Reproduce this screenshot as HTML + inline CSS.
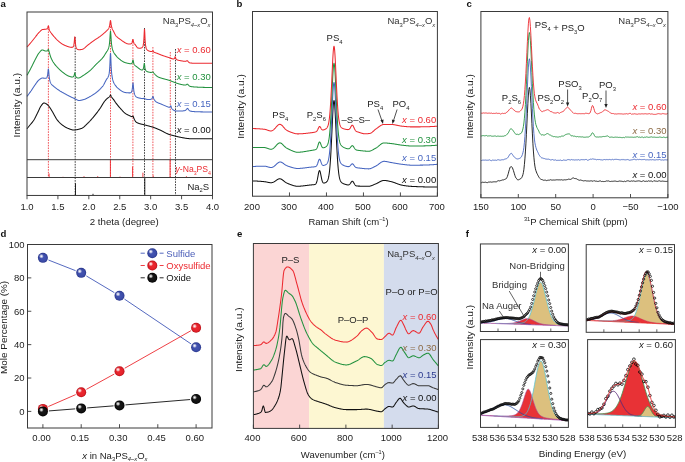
<!DOCTYPE html><html><head><meta charset="utf-8"><style>html,body{margin:0;padding:0;background:#fff;}svg{display:block;}text{font-family:"Liberation Sans", sans-serif;}</style></head><body>
<svg width="685" height="462" viewBox="0 0 685 462">
<rect width="685" height="462" fill="#fff"/>
<g opacity="0.999">
<text transform="translate(0.6,6.8) scale(1,1.0)" font-size="9.6" text-anchor="start" fill="#111" font-weight="bold">a</text>
<text transform="translate(236.5,6.8) scale(1,1.0)" font-size="9.6" text-anchor="start" fill="#111" font-weight="bold">b</text>
<text transform="translate(466.6,6.8) scale(1,1.0)" font-size="9.6" text-anchor="start" fill="#111" font-weight="bold">c</text>
<text transform="translate(0.4,237.2) scale(1,1.0)" font-size="9.6" text-anchor="start" fill="#111" font-weight="bold">d</text>
<text transform="translate(236.9,237.2) scale(1,1.0)" font-size="9.6" text-anchor="start" fill="#111" font-weight="bold">e</text>
<text transform="translate(465.8,237.2) scale(1,1.0)" font-size="9.6" text-anchor="start" fill="#111" font-weight="bold">f</text>
<line x1="48.4" y1="26" x2="48.4" y2="177.5" stroke="#ec2a30" stroke-width="0.8" stroke-dasharray="1.6,1.1"/>
<line x1="110.5" y1="21" x2="110.5" y2="177.5" stroke="#ec2a30" stroke-width="0.8" stroke-dasharray="1.6,1.1"/>
<line x1="132.9" y1="39" x2="132.9" y2="177.5" stroke="#ec2a30" stroke-width="0.8" stroke-dasharray="1.6,1.1"/>
<line x1="152.9" y1="47" x2="152.9" y2="177.5" stroke="#ec2a30" stroke-width="0.8" stroke-dasharray="1.6,1.1"/>
<line x1="170.3" y1="52" x2="170.3" y2="177.5" stroke="#ec2a30" stroke-width="0.8" stroke-dasharray="1.6,1.1"/>
<line x1="75.2" y1="37" x2="75.2" y2="195.45" stroke="#111111" stroke-width="0.8" stroke-dasharray="1.6,1.1"/>
<line x1="144.5" y1="28" x2="144.5" y2="195.45" stroke="#111111" stroke-width="0.8" stroke-dasharray="1.6,1.1"/>
<line x1="175.5" y1="49" x2="175.5" y2="195.45" stroke="#111111" stroke-width="0.8" stroke-dasharray="1.6,1.1"/>
<path d="M27,128.75 L27.2,128.5 L27.4,128.25 L27.6,128 L27.8,127.75 L28,127.5 L28.2,127.26 L28.4,127.01 L28.6,126.76 L28.8,126.51 L29,126.26 L29.2,126.01 L29.4,125.75 L29.6,125.5 L29.8,125.25 L30,125 L30.2,124.75 L30.4,124.5 L30.6,124.26 L30.8,124.02 L31,123.79 L31.2,123.55 L31.4,123.31 L31.6,123.07 L31.8,122.83 L32,122.59 L32.2,122.34 L32.4,122.09 L32.6,121.84 L32.8,121.58 L33,121.31 L33.2,121.03 L33.4,120.75 L33.6,120.45 L33.8,120.15 L34,119.83 L34.2,119.5 L34.4,119.15 L34.6,118.8 L34.8,118.43 L35,118.06 L35.2,117.67 L35.4,117.29 L35.6,116.89 L35.8,116.49 L36,116.08 L36.2,115.67 L36.4,115.26 L36.6,114.85 L36.8,114.44 L37,114.02 L37.2,113.61 L37.4,113.2 L37.6,112.8 L37.8,112.4 L38,112 L38.2,111.6 L38.4,111.18 L38.6,110.75 L38.8,110.31 L39,109.87 L39.2,109.42 L39.4,108.98 L39.6,108.55 L39.8,108.12 L40,107.71 L40.2,107.32 L40.4,106.95 L40.6,106.6 L40.8,106.28 L41,106 L41.2,105.73 L41.4,105.45 L41.6,105.18 L41.8,104.9 L42,104.63 L42.2,104.37 L42.4,104.12 L42.6,103.89 L42.8,103.67 L43,103.48 L43.2,103.32 L43.4,103.18 L43.6,103.08 L43.8,103.02 L44,103 L44.2,103.01 L44.4,103.04 L44.6,103.08 L44.8,103.14 L45,103.22 L45.2,103.3 L45.4,103.39 L45.6,103.5 L45.8,103.6 L46,103.71 L46.2,103.83 L46.4,103.94 L46.6,104.06 L46.8,104.19 L47,104.34 L47.2,104.51 L47.4,104.69 L47.6,104.88 L47.8,105.08 L48,105.3 L48.2,105.52 L48.4,105.74 L48.6,105.97 L48.8,106.2 L49,106.44 L49.2,106.69 L49.4,106.96 L49.6,107.23 L49.8,107.52 L50,107.81 L50.2,108.12 L50.4,108.43 L50.6,108.74 L50.8,109.06 L51,109.39 L51.2,109.71 L51.4,110.04 L51.6,110.36 L51.8,110.68 L52,111 L52.2,111.32 L52.4,111.65 L52.6,111.99 L52.8,112.34 L53,112.69 L53.2,113.05 L53.4,113.41 L53.6,113.77 L53.8,114.14 L54,114.51 L54.2,114.89 L54.4,115.26 L54.6,115.63 L54.8,115.99 L55,116.36 L55.2,116.72 L55.4,117.08 L55.6,117.43 L55.8,117.77 L56,118.11 L56.2,118.44 L56.4,118.76 L56.6,119.07 L56.8,119.36 L57,119.65 L57.2,119.92 L57.4,120.18 L57.6,120.42 L57.8,120.66 L58,120.89 L58.2,121.12 L58.4,121.35 L58.6,121.57 L58.8,121.79 L59,122 L59.2,122.21 L59.4,122.42 L59.6,122.62 L59.8,122.82 L60,123.01 L60.2,123.2 L60.4,123.39 L60.6,123.57 L60.8,123.75 L61,123.93 L61.2,124.1 L61.4,124.27 L61.6,124.43 L61.8,124.59 L62,124.75 L62.2,124.91 L62.4,125.06 L62.6,125.21 L62.8,125.36 L63,125.5 L63.2,125.64 L63.4,125.78 L63.6,125.92 L63.8,126.05 L64,126.19 L64.2,126.32 L64.4,126.45 L64.6,126.58 L64.8,126.71 L65,126.83 L65.2,126.95 L65.4,127.07 L65.6,127.19 L65.8,127.31 L66,127.42 L66.2,127.53 L66.4,127.64 L66.6,127.74 L66.8,127.84 L67,127.94 L67.2,128.04 L67.4,128.13 L67.6,128.22 L67.8,128.3 L68,128.38 L68.2,128.46 L68.4,128.54 L68.6,128.61 L68.8,128.69 L69,128.77 L69.2,128.84 L69.4,128.92 L69.6,129 L69.8,129.07 L70,129.15 L70.2,129.22 L70.4,129.3 L70.6,129.37 L70.8,129.44 L71,129.5 L71.2,129.56 L71.4,129.62 L71.6,129.68 L71.8,129.73 L72,129.78 L72.2,129.83 L72.4,129.87 L72.6,129.9 L72.8,129.93 L73,129.96 L73.2,129.98 L73.4,129.99 L73.6,130 L73.8,130 L74,130 L74.2,129.99 L74.4,129.98 L74.6,129.97 L74.8,129.96 L75,129.94 L75.2,129.92 L75.4,129.9 L75.6,129.88 L75.8,129.85 L76,129.83 L76.2,129.8 L76.4,129.76 L76.6,129.73 L76.8,129.7 L77,129.66 L77.2,129.62 L77.4,129.58 L77.6,129.53 L77.8,129.49 L78,129.44 L78.2,129.39 L78.4,129.34 L78.6,129.29 L78.8,129.24 L79,129.19 L79.2,129.13 L79.4,129.08 L79.6,129.02 L79.8,128.96 L80,128.9 L80.2,128.84 L80.4,128.78 L80.6,128.72 L80.8,128.66 L81,128.59 L81.2,128.53 L81.4,128.47 L81.6,128.39 L81.8,128.31 L82,128.21 L82.2,128.11 L82.4,128 L82.6,127.88 L82.8,127.75 L83,127.62 L83.2,127.47 L83.4,127.32 L83.6,127.17 L83.8,127.01 L84,126.84 L84.2,126.67 L84.4,126.5 L84.6,126.32 L84.8,126.13 L85,125.94 L85.2,125.75 L85.4,125.56 L85.6,125.37 L85.8,125.17 L86,124.97 L86.2,124.77 L86.4,124.57 L86.6,124.37 L86.8,124.17 L87,123.97 L87.2,123.77 L87.4,123.58 L87.6,123.38 L87.8,123.19 L88,123 L88.2,122.81 L88.4,122.61 L88.6,122.42 L88.8,122.22 L89,122.02 L89.2,121.81 L89.4,121.61 L89.6,121.4 L89.8,121.18 L90,120.97 L90.2,120.75 L90.4,120.54 L90.6,120.32 L90.8,120.1 L91,119.87 L91.2,119.65 L91.4,119.42 L91.6,119.19 L91.8,118.96 L92,118.73 L92.2,118.5 L92.4,118.26 L92.6,118.03 L92.8,117.79 L93,117.55 L93.2,117.32 L93.4,117.08 L93.6,116.84 L93.8,116.6 L94,116.36 L94.2,116.12 L94.4,115.88 L94.6,115.63 L94.8,115.39 L95,115.14 L95.2,114.89 L95.4,114.64 L95.6,114.39 L95.8,114.14 L96,113.89 L96.2,113.63 L96.4,113.38 L96.6,113.12 L96.8,112.86 L97,112.59 L97.2,112.33 L97.4,112.07 L97.6,111.8 L97.8,111.53 L98,111.26 L98.2,110.99 L98.4,110.72 L98.6,110.45 L98.8,110.17 L99,109.9 L99.2,109.62 L99.4,109.34 L99.6,109.06 L99.8,108.78 L100,108.49 L100.2,108.2 L100.4,107.9 L100.6,107.6 L100.8,107.28 L101,106.96 L101.2,106.64 L101.4,106.31 L101.6,105.97 L101.8,105.64 L102,105.3 L102.2,104.96 L102.4,104.63 L102.6,104.29 L102.8,103.96 L103,103.63 L103.2,103.31 L103.4,102.99 L103.6,102.68 L103.8,102.38 L104,102.08 L104.2,101.8 L104.4,101.52 L104.6,101.26 L104.8,101.01 L105,100.77 L105.2,100.54 L105.4,100.31 L105.6,100.09 L105.8,99.87 L106,99.65 L106.2,99.43 L106.4,99.23 L106.6,99.03 L106.8,98.83 L107,98.65 L107.2,98.47 L107.4,98.31 L107.6,98.15 L107.8,98 L108,97.87 L108.2,97.73 L108.4,97.59 L108.6,97.45 L108.8,97.29 L109,97.12 L109.2,96.94 L109.4,96.73 L109.6,96.48 L109.8,96.17 L110,95.79 L110.2,95.36 L110.4,95.05 L110.6,95.05 L110.8,95.39 L111,95.86 L111.2,96.3 L111.4,96.68 L111.6,97.02 L111.8,97.32 L112,97.61 L112.2,97.88 L112.4,98.14 L112.6,98.4 L112.8,98.64 L113,98.87 L113.2,99.1 L113.4,99.34 L113.6,99.61 L113.8,99.88 L114,100.17 L114.2,100.46 L114.4,100.76 L114.6,101.07 L114.8,101.37 L115,101.68 L115.2,101.98 L115.4,102.27 L115.6,102.56 L115.8,102.83 L116,103.1 L116.2,103.36 L116.4,103.62 L116.6,103.88 L116.8,104.13 L117,104.39 L117.2,104.64 L117.4,104.9 L117.6,105.15 L117.8,105.39 L118,105.64 L118.2,105.89 L118.4,106.13 L118.6,106.37 L118.8,106.61 L119,106.84 L119.2,107.08 L119.4,107.31 L119.6,107.54 L119.8,107.76 L120,107.99 L120.2,108.21 L120.4,108.43 L120.6,108.65 L120.8,108.88 L121,109.1 L121.2,109.33 L121.4,109.55 L121.6,109.78 L121.8,110 L122,110.22 L122.2,110.44 L122.4,110.66 L122.6,110.88 L122.8,111.09 L123,111.3 L123.2,111.51 L123.4,111.71 L123.6,111.91 L123.8,112.11 L124,112.3 L124.2,112.49 L124.4,112.67 L124.6,112.85 L124.8,113.02 L125,113.18 L125.2,113.34 L125.4,113.5 L125.6,113.64 L125.8,113.78 L126,113.91 L126.2,114.03 L126.4,114.15 L126.6,114.27 L126.8,114.37 L127,114.48 L127.2,114.58 L127.4,114.68 L127.6,114.77 L127.8,114.86 L128,114.95 L128.2,115.05 L128.4,115.14 L128.6,115.23 L128.8,115.32 L129,115.41 L129.2,115.5 L129.4,115.6 L129.6,115.7 L129.8,115.8 L130,115.91 L130.2,116.01 L130.4,116.11 L130.6,116.21 L130.8,116.3 L131,116.39 L131.2,116.47 L131.4,116.54 L131.6,116.6 L131.8,116.63 L132,116.62 L132.2,116.56 L132.4,116.42 L132.6,116.21 L132.8,116 L133,116 L133.2,116.35 L133.4,116.94 L133.6,117.55 L133.8,118.1 L134,118.58 L134.2,119.02 L134.4,119.42 L134.6,119.8 L134.8,120.16 L135,120.51 L135.2,120.83 L135.4,121.14 L135.6,121.43 L135.8,121.69 L136,121.93 L136.2,122.13 L136.4,122.3 L136.6,122.43 L136.8,122.54 L137,122.65 L137.2,122.75 L137.4,122.84 L137.6,122.93 L137.8,123.02 L138,123.1 L138.2,123.18 L138.4,123.26 L138.6,123.33 L138.8,123.4 L139,123.47 L139.2,123.54 L139.4,123.6 L139.6,123.66 L139.8,123.72 L140,123.77 L140.2,123.83 L140.4,123.88 L140.6,123.93 L140.8,123.98 L141,124.03 L141.2,124.08 L141.4,124.13 L141.6,124.17 L141.8,124.22 L142,124.26 L142.2,124.31 L142.4,124.35 L142.6,124.4 L142.8,124.44 L143,124.49 L143.2,124.53 L143.4,124.58 L143.6,124.63 L143.8,124.68 L144,124.73 L144.2,124.78 L144.4,124.83 L144.6,124.88 L144.8,124.94 L145,124.99 L145.2,125.05 L145.4,125.11 L145.6,125.16 L145.8,125.22 L146,125.27 L146.2,125.33 L146.4,125.38 L146.6,125.44 L146.8,125.49 L147,125.54 L147.2,125.6 L147.4,125.65 L147.6,125.7 L147.8,125.75 L148,125.81 L148.2,125.86 L148.4,125.91 L148.6,125.96 L148.8,126.02 L149,126.07 L149.2,126.12 L149.4,126.18 L149.6,126.23 L149.8,126.28 L150,126.34 L150.2,126.39 L150.4,126.45 L150.6,126.5 L150.8,126.56 L151,126.62 L151.2,126.67 L151.4,126.73 L151.6,126.79 L151.8,126.85 L152,126.91 L152.2,126.97 L152.4,127.04 L152.6,127.1 L152.8,127.16 L153,127.23 L153.2,127.3 L153.4,127.36 L153.6,127.43 L153.8,127.5 L154,127.57 L154.2,127.64 L154.4,127.72 L154.6,127.79 L154.8,127.86 L155,127.94 L155.2,128.01 L155.4,128.09 L155.6,128.17 L155.8,128.25 L156,128.32 L156.2,128.4 L156.4,128.48 L156.6,128.56 L156.8,128.64 L157,128.73 L157.2,128.81 L157.4,128.89 L157.6,128.97 L157.8,129.06 L158,129.14 L158.2,129.23 L158.4,129.31 L158.6,129.39 L158.8,129.48 L159,129.57 L159.2,129.65 L159.4,129.74 L159.6,129.82 L159.8,129.91 L160,130 L160.2,130.09 L160.4,130.18 L160.6,130.27 L160.8,130.36 L161,130.46 L161.2,130.56 L161.4,130.66 L161.6,130.76 L161.8,130.86 L162,130.96 L162.2,131.07 L162.4,131.17 L162.6,131.28 L162.8,131.39 L163,131.49 L163.2,131.6 L163.4,131.71 L163.6,131.82 L163.8,131.93 L164,132.04 L164.2,132.14 L164.4,132.25 L164.6,132.36 L164.8,132.47 L165,132.58 L165.2,132.68 L165.4,132.79 L165.6,132.89 L165.8,132.99 L166,133.1 L166.2,133.2 L166.4,133.3 L166.6,133.39 L166.8,133.49 L167,133.58 L167.2,133.68 L167.4,133.77 L167.6,133.85 L167.8,133.94 L168,134.02 L168.2,134.1 L168.4,134.18 L168.6,134.26 L168.8,134.33 L169,134.4 L169.2,134.47 L169.4,134.53 L169.6,134.59 L169.8,134.66 L170,134.72 L170.2,134.78 L170.4,134.84 L170.6,134.89 L170.8,134.95 L171,135 L171.2,135.06 L171.4,135.11 L171.6,135.16 L171.8,135.21 L172,135.26 L172.2,135.31 L172.4,135.36 L172.6,135.41 L172.8,135.46 L173,135.51 L173.2,135.56 L173.4,135.61 L173.6,135.66 L173.8,135.7 L174,135.75 L174.2,135.8 L174.4,135.85 L174.6,135.9 L174.8,135.95 L175,136 L175.2,136.05 L175.4,136.1 L175.6,136.15 L175.8,136.2 L176,136.26 L176.2,136.31 L176.4,136.36 L176.6,136.41 L176.8,136.46 L177,136.52 L177.2,136.57 L177.4,136.62 L177.6,136.67 L177.8,136.72 L178,136.77 L178.2,136.82 L178.4,136.86 L178.6,136.91 L178.8,136.95 L179,137 L179.2,137.04 L179.4,137.08 L179.6,137.12 L179.8,137.16 L180,137.2 L180.2,137.24 L180.4,137.27 L180.6,137.31 L180.8,137.35 L181,137.39 L181.2,137.42 L181.4,137.46 L181.6,137.5 L181.8,137.54 L182,137.58 L182.2,137.61 L182.4,137.65 L182.6,137.69 L182.8,137.73 L183,137.77 L183.2,137.8 L183.4,137.84 L183.6,137.88 L183.8,137.92 L184,137.95 L184.2,137.99 L184.4,138.02 L184.6,138.06 L184.8,138.09 L185,138.13 L185.2,138.16 L185.4,138.2 L185.6,138.23 L185.8,138.26 L186,138.29 L186.2,138.32 L186.4,138.35 L186.6,138.38 L186.8,138.4 L187,138.43 L187.2,138.46 L187.4,138.48 L187.6,138.5 L187.8,138.53 L188,138.55 L188.2,138.57 L188.4,138.59 L188.6,138.6 L188.8,138.62 L189,138.63 L189.2,138.65 L189.4,138.66 L189.6,138.67 L189.8,138.68 L190,138.69 L190.2,138.69 L190.4,138.7 L190.6,138.7 L190.8,138.7 L191,138.7 L191.2,138.7 L191.4,138.7 L191.6,138.7 L191.8,138.7 L192,138.7 L192.2,138.7 L192.4,138.7 L192.6,138.7 L192.8,138.7 L193,138.7 L193.2,138.7 L193.4,138.7 L193.6,138.7 L193.8,138.7 L194,138.7 L194.2,138.7 L194.4,138.7 L194.6,138.7 L194.8,138.7 L195,138.7 L195.2,138.7 L195.4,138.7 L195.6,138.7 L195.8,138.7 L196,138.7 L196.2,138.7 L196.4,138.7 L196.6,138.7 L196.8,138.7 L197,138.7 L197.2,138.7 L197.4,138.7 L197.6,138.7 L197.8,138.7 L198,138.7 L198.2,138.7 L198.4,138.7 L198.6,138.7 L198.8,138.7 L199,138.7 L199.2,138.7 L199.4,138.7 L199.6,138.7 L199.8,138.7 L200,138.7 L200.2,138.7 L200.4,138.7 L200.6,138.7 L200.8,138.7 L201,138.7 L201.2,138.7 L201.4,138.7 L201.6,138.7 L201.8,138.7 L202,138.7 L202.2,138.7 L202.4,138.7 L202.6,138.7 L202.8,138.7 L203,138.7 L203.2,138.7 L203.4,138.7 L203.6,138.7 L203.8,138.7 L204,138.7 L204.2,138.7 L204.4,138.7 L204.6,138.7 L204.8,138.7 L205,138.7 L205.2,138.7 L205.4,138.7 L205.6,138.7 L205.8,138.7 L206,138.7 L206.2,138.7 L206.4,138.7 L206.6,138.7 L206.8,138.7 L207,138.7 L207.2,138.7 L207.4,138.7 L207.6,138.7 L207.8,138.7 L208,138.7 L208.2,138.7 L208.4,138.7 L208.6,138.7 L208.8,138.7 L209,138.7 L209.2,138.7 L209.4,138.7 L209.6,138.7 L209.8,138.7 L210,138.7 L210.2,138.7 L210.4,138.7 L210.6,138.7 L210.8,138.7 L211,138.7 L211.2,138.7 L211.4,138.7 L211.6,138.7 L211.8,138.7 L212,138.7 L212.2,138.7 L212.4,138.7" fill="none" stroke="#111111" stroke-width="1.05" stroke-linejoin="round" />
<path d="M27,96.34 L27.2,96.09 L27.4,95.83 L27.6,95.58 L27.8,95.32 L28,95.06 L28.2,94.8 L28.4,94.54 L28.6,94.27 L28.8,94.01 L29,93.74 L29.2,93.47 L29.4,93.2 L29.6,92.93 L29.8,92.66 L30,92.38 L30.2,92.1 L30.4,91.83 L30.6,91.55 L30.8,91.26 L31,90.98 L31.2,90.7 L31.4,90.4 L31.6,90.11 L31.8,89.81 L32,89.5 L32.2,89.19 L32.4,88.88 L32.6,88.57 L32.8,88.26 L33,87.95 L33.2,87.64 L33.4,87.33 L33.6,87.02 L33.8,86.72 L34,86.41 L34.2,86.11 L34.4,85.82 L34.6,85.53 L34.8,85.25 L35,84.97 L35.2,84.69 L35.4,84.41 L35.6,84.13 L35.8,83.84 L36,83.56 L36.2,83.27 L36.4,82.99 L36.6,82.71 L36.8,82.43 L37,82.15 L37.2,81.89 L37.4,81.63 L37.6,81.37 L37.8,81.13 L38,80.9 L38.2,80.68 L38.4,80.47 L38.6,80.28 L38.8,80.1 L39,79.94 L39.2,79.79 L39.4,79.63 L39.6,79.48 L39.8,79.32 L40,79.17 L40.2,79.02 L40.4,78.88 L40.6,78.74 L40.8,78.61 L41,78.49 L41.2,78.39 L41.4,78.29 L41.6,78.21 L41.8,78.15 L42,78.1 L42.2,78.08 L42.4,78.07 L42.6,78.06 L42.8,78.07 L43,78.08 L43.2,78.09 L43.4,78.11 L43.6,78.13 L43.8,78.16 L44,78.18 L44.2,78.21 L44.4,78.24 L44.6,78.26 L44.8,78.28 L45,78.3 L45.2,78.31 L45.4,78.31 L45.6,78.3 L45.8,78.27 L46,78.22 L46.2,78.14 L46.4,78.03 L46.6,77.86 L46.8,77.63 L47,77.29 L47.2,76.8 L47.4,76.09 L47.6,75.06 L47.8,73.58 L48,71.66 L48.2,69.73 L48.4,68.93 L48.6,70 L48.8,72.27 L49,74.61 L49.2,76.56 L49.4,78.1 L49.6,79.33 L49.8,80.33 L50,81.15 L50.2,81.83 L50.4,82.38 L50.6,82.81 L50.8,83.18 L51,83.51 L51.2,83.81 L51.4,84.09 L51.6,84.34 L51.8,84.58 L52,84.81 L52.2,85.02 L52.4,85.22 L52.6,85.41 L52.8,85.6 L53,85.77 L53.2,85.94 L53.4,86.11 L53.6,86.28 L53.8,86.44 L54,86.59 L54.2,86.75 L54.4,86.91 L54.6,87.07 L54.8,87.23 L55,87.39 L55.2,87.55 L55.4,87.71 L55.6,87.86 L55.8,88.02 L56,88.17 L56.2,88.32 L56.4,88.48 L56.6,88.62 L56.8,88.77 L57,88.92 L57.2,89.06 L57.4,89.21 L57.6,89.35 L57.8,89.49 L58,89.63 L58.2,89.77 L58.4,89.91 L58.6,90.04 L58.8,90.18 L59,90.31 L59.2,90.44 L59.4,90.57 L59.6,90.7 L59.8,90.83 L60,90.96 L60.2,91.08 L60.4,91.21 L60.6,91.33 L60.8,91.45 L61,91.57 L61.2,91.69 L61.4,91.81 L61.6,91.93 L61.8,92.04 L62,92.15 L62.2,92.27 L62.4,92.38 L62.6,92.49 L62.8,92.61 L63,92.72 L63.2,92.83 L63.4,92.94 L63.6,93.05 L63.8,93.16 L64,93.27 L64.2,93.38 L64.4,93.5 L64.6,93.61 L64.8,93.72 L65,93.83 L65.2,93.94 L65.4,94.05 L65.6,94.16 L65.8,94.27 L66,94.38 L66.2,94.49 L66.4,94.6 L66.6,94.71 L66.8,94.82 L67,94.93 L67.2,95.03 L67.4,95.14 L67.6,95.25 L67.8,95.35 L68,95.46 L68.2,95.56 L68.4,95.67 L68.6,95.77 L68.8,95.88 L69,95.98 L69.2,96.08 L69.4,96.18 L69.6,96.28 L69.8,96.38 L70,96.48 L70.2,96.58 L70.4,96.68 L70.6,96.77 L70.8,96.87 L71,96.96 L71.2,97.06 L71.4,97.15 L71.6,97.24 L71.8,97.34 L72,97.43 L72.2,97.52 L72.4,97.61 L72.6,97.7 L72.8,97.79 L73,97.88 L73.2,97.97 L73.4,98.06 L73.6,98.15 L73.8,98.24 L74,98.33 L74.2,98.42 L74.4,98.51 L74.6,98.59 L74.8,98.68 L75,98.77 L75.2,98.87 L75.4,98.98 L75.6,99.09 L75.8,99.2 L76,99.31 L76.2,99.42 L76.4,99.54 L76.6,99.65 L76.8,99.76 L77,99.87 L77.2,99.97 L77.4,100.06 L77.6,100.15 L77.8,100.23 L78,100.3 L78.2,100.37 L78.4,100.41 L78.6,100.45 L78.8,100.47 L79,100.48 L79.2,100.48 L79.4,100.47 L79.6,100.46 L79.8,100.44 L80,100.42 L80.2,100.4 L80.4,100.37 L80.6,100.34 L80.8,100.3 L81,100.26 L81.2,100.22 L81.4,100.18 L81.6,100.13 L81.8,100.08 L82,100.03 L82.2,99.98 L82.4,99.93 L82.6,99.87 L82.8,99.82 L83,99.76 L83.2,99.7 L83.4,99.65 L83.6,99.59 L83.8,99.53 L84,99.48 L84.2,99.42 L84.4,99.36 L84.6,99.29 L84.8,99.22 L85,99.14 L85.2,99.07 L85.4,98.98 L85.6,98.9 L85.8,98.81 L86,98.72 L86.2,98.63 L86.4,98.53 L86.6,98.43 L86.8,98.33 L87,98.23 L87.2,98.13 L87.4,98.02 L87.6,97.91 L87.8,97.8 L88,97.69 L88.2,97.58 L88.4,97.47 L88.6,97.36 L88.8,97.24 L89,97.13 L89.2,97.02 L89.4,96.9 L89.6,96.79 L89.8,96.68 L90,96.57 L90.2,96.46 L90.4,96.34 L90.6,96.23 L90.8,96.11 L91,96 L91.2,95.88 L91.4,95.77 L91.6,95.65 L91.8,95.53 L92,95.41 L92.2,95.29 L92.4,95.16 L92.6,95.04 L92.8,94.92 L93,94.79 L93.2,94.66 L93.4,94.53 L93.6,94.4 L93.8,94.27 L94,94.14 L94.2,94 L94.4,93.87 L94.6,93.73 L94.8,93.59 L95,93.45 L95.2,93.3 L95.4,93.16 L95.6,93.01 L95.8,92.86 L96,92.71 L96.2,92.56 L96.4,92.41 L96.6,92.25 L96.8,92.09 L97,91.93 L97.2,91.77 L97.4,91.61 L97.6,91.44 L97.8,91.27 L98,91.1 L98.2,90.92 L98.4,90.74 L98.6,90.56 L98.8,90.38 L99,90.19 L99.2,90 L99.4,89.81 L99.6,89.62 L99.8,89.42 L100,89.22 L100.2,89.02 L100.4,88.81 L100.6,88.6 L100.8,88.39 L101,88.17 L101.2,87.95 L101.4,87.72 L101.6,87.5 L101.8,87.27 L102,87.03 L102.2,86.79 L102.4,86.55 L102.6,86.3 L102.8,86.05 L103,85.8 L103.2,85.53 L103.4,85.23 L103.6,84.91 L103.8,84.56 L104,84.2 L104.2,83.83 L104.4,83.44 L104.6,83.04 L104.8,82.64 L105,82.24 L105.2,81.84 L105.4,81.44 L105.6,81.05 L105.8,80.66 L106,80.29 L106.2,79.93 L106.4,79.58 L106.6,79.26 L106.8,78.95 L107,78.66 L107.2,78.39 L107.4,78.14 L107.6,77.87 L107.8,77.57 L108,77.23 L108.2,76.84 L108.4,76.39 L108.6,75.84 L108.8,75.16 L109,74.29 L109.2,73.14 L109.4,71.57 L109.6,69.38 L109.8,66.31 L110,62.15 L110.2,57.28 L110.4,53.55 L110.6,53.56 L110.8,57.37 L111,62.38 L111.2,66.74 L111.4,70.07 L111.6,72.55 L111.8,74.45 L112,75.95 L112.2,77.18 L112.4,78.23 L112.6,79.15 L112.8,79.95 L113,80.67 L113.2,81.31 L113.4,81.87 L113.6,82.35 L113.8,82.76 L114,83.14 L114.2,83.5 L114.4,83.84 L114.6,84.17 L114.8,84.48 L115,84.79 L115.2,85.08 L115.4,85.36 L115.6,85.64 L115.8,85.9 L116,86.16 L116.2,86.41 L116.4,86.65 L116.6,86.88 L116.8,87.11 L117,87.32 L117.2,87.53 L117.4,87.73 L117.6,87.92 L117.8,88.1 L118,88.28 L118.2,88.45 L118.4,88.62 L118.6,88.79 L118.8,88.95 L119,89.11 L119.2,89.27 L119.4,89.43 L119.6,89.59 L119.8,89.74 L120,89.89 L120.2,90.04 L120.4,90.19 L120.6,90.33 L120.8,90.47 L121,90.61 L121.2,90.74 L121.4,90.87 L121.6,91 L121.8,91.12 L122,91.24 L122.2,91.35 L122.4,91.46 L122.6,91.57 L122.8,91.67 L123,91.77 L123.2,91.86 L123.4,91.95 L123.6,92.03 L123.8,92.11 L124,92.18 L124.2,92.25 L124.4,92.31 L124.6,92.37 L124.8,92.42 L125,92.46 L125.2,92.5 L125.4,92.54 L125.6,92.58 L125.8,92.61 L126,92.64 L126.2,92.67 L126.4,92.69 L126.6,92.72 L126.8,92.74 L127,92.75 L127.2,92.77 L127.4,92.79 L127.6,92.8 L127.8,92.82 L128,92.83 L128.2,92.84 L128.4,92.85 L128.6,92.86 L128.8,92.87 L129,92.88 L129.2,92.88 L129.4,92.88 L129.6,92.88 L129.8,92.87 L130,92.86 L130.2,92.83 L130.4,92.8 L130.6,92.75 L130.8,92.67 L131,92.57 L131.2,92.41 L131.4,92.18 L131.6,91.85 L131.8,91.35 L132,90.6 L132.2,89.49 L132.4,87.9 L132.6,85.81 L132.8,83.72 L133,82.84 L133.2,83.97 L133.4,86.31 L133.6,88.64 L133.8,90.48 L134,91.83 L134.2,92.82 L134.4,93.58 L134.6,94.18 L134.8,94.68 L135,95.1 L135.2,95.47 L135.4,95.8 L135.6,96.09 L135.8,96.35 L136,96.58 L136.2,96.78 L136.4,96.95 L136.6,97.08 L136.8,97.19 L137,97.29 L137.2,97.38 L137.4,97.47 L137.6,97.55 L137.8,97.63 L138,97.7 L138.2,97.76 L138.4,97.83 L138.6,97.88 L138.8,97.94 L139,97.99 L139.2,98.04 L139.4,98.09 L139.6,98.13 L139.8,98.17 L140,98.22 L140.2,98.25 L140.4,98.29 L140.6,98.33 L140.8,98.36 L141,98.39 L141.2,98.43 L141.4,98.46 L141.6,98.49 L141.8,98.52 L142,98.54 L142.2,98.57 L142.4,98.59 L142.6,98.6 L142.8,98.61 L143,98.61 L143.2,98.59 L143.4,98.55 L143.6,98.47 L143.8,98.34 L144,98.17 L144.2,98.04 L144.4,98.07 L144.6,98.28 L144.8,98.52 L145,98.72 L145.2,98.87 L145.4,98.98 L145.6,99.07 L145.8,99.14 L146,99.2 L146.2,99.25 L146.4,99.29 L146.6,99.33 L146.8,99.36 L147,99.39 L147.2,99.42 L147.4,99.45 L147.6,99.47 L147.8,99.49 L148,99.5 L148.2,99.52 L148.4,99.53 L148.6,99.53 L148.8,99.54 L149,99.54 L149.2,99.54 L149.4,99.53 L149.6,99.52 L149.8,99.5 L150,99.47 L150.2,99.44 L150.4,99.4 L150.6,99.35 L150.8,99.29 L151,99.21 L151.2,99.11 L151.4,98.99 L151.6,98.83 L151.8,98.62 L152,98.34 L152.2,97.95 L152.4,97.46 L152.6,96.92 L152.8,96.53 L153,96.52 L153.2,96.93 L153.4,97.53 L153.6,98.12 L153.8,98.63 L154,99.06 L154.2,99.44 L154.4,99.79 L154.6,100.1 L154.8,100.4 L155,100.67 L155.2,100.93 L155.4,101.17 L155.6,101.38 L155.8,101.56 L156,101.72 L156.2,101.85 L156.4,101.97 L156.6,102.09 L156.8,102.21 L157,102.32 L157.2,102.42 L157.4,102.52 L157.6,102.62 L157.8,102.71 L158,102.81 L158.2,102.9 L158.4,102.98 L158.6,103.07 L158.8,103.15 L159,103.23 L159.2,103.31 L159.4,103.39 L159.6,103.47 L159.8,103.55 L160,103.63 L160.2,103.71 L160.4,103.79 L160.6,103.86 L160.8,103.94 L161,104.02 L161.2,104.11 L161.4,104.19 L161.6,104.27 L161.8,104.36 L162,104.44 L162.2,104.53 L162.4,104.62 L162.6,104.71 L162.8,104.79 L163,104.88 L163.2,104.96 L163.4,105.05 L163.6,105.13 L163.8,105.21 L164,105.3 L164.2,105.38 L164.4,105.46 L164.6,105.55 L164.8,105.63 L165,105.71 L165.2,105.8 L165.4,105.88 L165.6,105.96 L165.8,106.05 L166,106.13 L166.2,106.21 L166.4,106.3 L166.6,106.38 L166.8,106.46 L167,106.55 L167.2,106.63 L167.4,106.71 L167.6,106.79 L167.8,106.87 L168,106.95 L168.2,107.03 L168.4,107.1 L168.6,107.16 L168.8,107.22 L169,107.26 L169.2,107.29 L169.4,107.29 L169.6,107.26 L169.8,107.17 L170,107 L170.2,106.7 L170.4,106.29 L170.6,105.87 L170.8,105.75 L171,106.13 L171.2,106.81 L171.4,107.49 L171.6,108.04 L171.8,108.45 L172,108.77 L172.2,109.02 L172.4,109.24 L172.6,109.43 L172.8,109.6 L173,109.75 L173.2,109.9 L173.4,110.03 L173.6,110.16 L173.8,110.28 L174,110.39 L174.2,110.49 L174.4,110.58 L174.6,110.67 L174.8,110.74 L175,110.8 L175.2,110.84 L175.4,110.88 L175.6,110.9 L175.8,110.91 L176,110.92 L176.2,110.93 L176.4,110.94 L176.6,110.95 L176.8,110.96 L177,110.96 L177.2,110.97 L177.4,110.97 L177.6,110.98 L177.8,110.98 L178,110.99 L178.2,110.99 L178.4,110.99 L178.6,110.99 L178.8,111 L179,111 L179.2,111 L179.4,111 L179.6,111 L179.8,111 L180,110.99 L180.2,110.99 L180.4,110.99 L180.6,110.99 L180.8,110.98 L181,110.98 L181.2,110.97 L181.4,110.97 L181.6,110.96 L181.8,110.96 L182,110.95 L182.2,110.94 L182.4,110.93 L182.6,110.92 L182.8,110.9 L183,110.89 L183.2,110.87 L183.4,110.85 L183.6,110.83 L183.8,110.81 L184,110.78 L184.2,110.74 L184.4,110.7 L184.6,110.65 L184.8,110.59 L185,110.52 L185.2,110.44 L185.4,110.34 L185.6,110.23 L185.8,110.09 L186,109.92 L186.2,109.72 L186.4,109.49 L186.6,109.23 L186.8,108.96 L187,108.7 L187.2,108.49 L187.4,108.38 L187.6,108.4 L187.8,108.55 L188,108.81 L188.2,109.11 L188.4,109.42 L188.6,109.72 L188.8,109.99 L189,110.22 L189.2,110.42 L189.4,110.58 L189.6,110.72 L189.8,110.84 L190,110.94 L190.2,111.02 L190.4,111.09 L190.6,111.15 L190.8,111.21 L191,111.25 L191.2,111.29 L191.4,111.33 L191.6,111.36 L191.8,111.39 L192,111.42 L192.2,111.45 L192.4,111.47 L192.6,111.49 L192.8,111.51 L193,111.53 L193.2,111.54 L193.4,111.56 L193.6,111.57 L193.8,111.59 L194,111.6 L194.2,111.61 L194.4,111.63 L194.6,111.64 L194.8,111.65 L195,111.66 L195.2,111.67 L195.4,111.68 L195.6,111.69 L195.8,111.7 L196,111.71 L196.2,111.71 L196.4,111.72 L196.6,111.73 L196.8,111.74 L197,111.75 L197.2,111.75 L197.4,111.76 L197.6,111.77 L197.8,111.77 L198,111.78 L198.2,111.79 L198.4,111.79 L198.6,111.8 L198.8,111.8 L199,111.81 L199.2,111.82 L199.4,111.82 L199.6,111.83 L199.8,111.83 L200,111.84 L200.2,111.84 L200.4,111.85 L200.6,111.85 L200.8,111.86 L201,111.86 L201.2,111.87 L201.4,111.87 L201.6,111.87 L201.8,111.88 L202,111.88 L202.2,111.89 L202.4,111.89 L202.6,111.89 L202.8,111.9 L203,111.9 L203.2,111.91 L203.4,111.91 L203.6,111.91 L203.8,111.92 L204,111.92 L204.2,111.92 L204.4,111.93 L204.6,111.93 L204.8,111.93 L205,111.93 L205.2,111.94 L205.4,111.94 L205.6,111.94 L205.8,111.95 L206,111.95 L206.2,111.95 L206.4,111.95 L206.6,111.95 L206.8,111.96 L207,111.96 L207.2,111.96 L207.4,111.96 L207.6,111.97 L207.8,111.97 L208,111.97 L208.2,111.97 L208.4,111.97 L208.6,111.97 L208.8,111.97 L209,111.98 L209.2,111.98 L209.4,111.98 L209.6,111.98 L209.8,111.98 L210,111.98 L210.2,111.98 L210.4,111.98 L210.6,111.98 L210.8,111.99 L211,111.99 L211.2,111.99 L211.4,111.99 L211.6,111.99 L211.8,111.99 L212,111.99 L212.2,111.99 L212.4,111.99" fill="none" stroke="#4665c0" stroke-width="1.05" stroke-linejoin="round" />
<path d="M27,75.35 L27.2,74.99 L27.4,74.64 L27.6,74.28 L27.8,73.93 L28,73.57 L28.2,73.21 L28.4,72.85 L28.6,72.48 L28.8,72.12 L29,71.75 L29.2,71.38 L29.4,71.01 L29.6,70.64 L29.8,70.27 L30,69.89 L30.2,69.51 L30.4,69.14 L30.6,68.76 L30.8,68.38 L31,67.99 L31.2,67.61 L31.4,67.21 L31.6,66.82 L31.8,66.42 L32,66.01 L32.2,65.61 L32.4,65.2 L32.6,64.79 L32.8,64.38 L33,63.97 L33.2,63.56 L33.4,63.15 L33.6,62.74 L33.8,62.33 L34,61.93 L34.2,61.53 L34.4,61.14 L34.6,60.75 L34.8,60.37 L35,59.99 L35.2,59.61 L35.4,59.23 L35.6,58.84 L35.8,58.46 L36,58.07 L36.2,57.68 L36.4,57.29 L36.6,56.9 L36.8,56.52 L37,56.14 L37.2,55.78 L37.4,55.41 L37.6,55.06 L37.8,54.72 L38,54.39 L38.2,54.08 L38.4,53.78 L38.6,53.49 L38.8,53.23 L39,52.98 L39.2,52.74 L39.4,52.49 L39.6,52.24 L39.8,51.99 L40,51.74 L40.2,51.5 L40.4,51.26 L40.6,51.04 L40.8,50.83 L41,50.63 L41.2,50.46 L41.4,50.31 L41.6,50.18 L41.8,50.08 L42,50 L42.2,49.97 L42.4,49.96 L42.6,49.98 L42.8,50.02 L43,50.08 L43.2,50.15 L43.4,50.23 L43.6,50.32 L43.8,50.41 L44,50.5 L44.2,50.59 L44.4,50.68 L44.6,50.76 L44.8,50.83 L45,50.89 L45.2,50.93 L45.4,50.96 L45.6,50.98 L45.8,51 L46,51.01 L46.2,51.02 L46.4,51.02 L46.6,51.01 L46.8,50.99 L47,50.95 L47.2,50.88 L47.4,50.76 L47.6,50.57 L47.8,50.27 L48,49.85 L48.2,49.46 L48.4,49.38 L48.6,49.82 L48.8,50.58 L49,51.35 L49.2,52.07 L49.4,52.76 L49.6,53.44 L49.8,54.12 L50,54.8 L50.2,55.48 L50.4,56.13 L50.6,56.74 L50.8,57.31 L51,57.81 L51.2,58.26 L51.4,58.71 L51.6,59.14 L51.8,59.56 L52,59.96 L52.2,60.36 L52.4,60.73 L52.6,61.1 L52.8,61.45 L53,61.78 L53.2,62.09 L53.4,62.39 L53.6,62.69 L53.8,62.98 L54,63.26 L54.2,63.54 L54.4,63.81 L54.6,64.08 L54.8,64.34 L55,64.59 L55.2,64.84 L55.4,65.09 L55.6,65.33 L55.8,65.57 L56,65.8 L56.2,66.03 L56.4,66.25 L56.6,66.48 L56.8,66.7 L57,66.92 L57.2,67.13 L57.4,67.34 L57.6,67.56 L57.8,67.77 L58,67.97 L58.2,68.18 L58.4,68.39 L58.6,68.59 L58.8,68.79 L59,68.99 L59.2,69.18 L59.4,69.37 L59.6,69.57 L59.8,69.75 L60,69.94 L60.2,70.13 L60.4,70.31 L60.6,70.49 L60.8,70.66 L61,70.84 L61.2,71.01 L61.4,71.18 L61.6,71.35 L61.8,71.52 L62,71.68 L62.2,71.85 L62.4,72.01 L62.6,72.16 L62.8,72.32 L63,72.47 L63.2,72.63 L63.4,72.78 L63.6,72.93 L63.8,73.08 L64,73.23 L64.2,73.38 L64.4,73.53 L64.6,73.68 L64.8,73.83 L65,73.98 L65.2,74.12 L65.4,74.26 L65.6,74.4 L65.8,74.54 L66,74.67 L66.2,74.8 L66.4,74.93 L66.6,75.06 L66.8,75.18 L67,75.29 L67.2,75.41 L67.4,75.51 L67.6,75.62 L67.8,75.72 L68,75.81 L68.2,75.9 L68.4,75.98 L68.6,76.06 L68.8,76.14 L69,76.22 L69.2,76.29 L69.4,76.36 L69.6,76.43 L69.8,76.5 L70,76.56 L70.2,76.63 L70.4,76.68 L70.6,76.74 L70.8,76.79 L71,76.84 L71.2,76.88 L71.4,76.92 L71.6,76.96 L71.8,76.98 L72,77 L72.2,77.01 L72.4,77.01 L72.6,76.99 L72.8,76.96 L73,76.9 L73.2,76.8 L73.4,76.66 L73.6,76.45 L73.8,76.13 L74,75.66 L74.2,74.99 L74.4,74.11 L74.6,73.22 L74.8,72.84 L75,73.3 L75.2,74.25 L75.4,75.21 L75.6,75.95 L75.8,76.49 L76,76.87 L76.2,77.15 L76.4,77.36 L76.6,77.52 L76.8,77.64 L77,77.73 L77.2,77.81 L77.4,77.87 L77.6,77.92 L77.8,77.96 L78,77.98 L78.2,78 L78.4,78 L78.6,77.98 L78.8,77.96 L79,77.92 L79.2,77.86 L79.4,77.8 L79.6,77.73 L79.8,77.64 L80,77.55 L80.2,77.45 L80.4,77.35 L80.6,77.23 L80.8,77.12 L81,76.99 L81.2,76.87 L81.4,76.73 L81.6,76.6 L81.8,76.46 L82,76.32 L82.2,76.18 L82.4,76.04 L82.6,75.9 L82.8,75.76 L83,75.62 L83.2,75.48 L83.4,75.34 L83.6,75.21 L83.8,75.08 L84,74.96 L84.2,74.83 L84.4,74.71 L84.6,74.58 L84.8,74.45 L85,74.32 L85.2,74.19 L85.4,74.06 L85.6,73.93 L85.8,73.79 L86,73.65 L86.2,73.51 L86.4,73.37 L86.6,73.23 L86.8,73.09 L87,72.94 L87.2,72.79 L87.4,72.64 L87.6,72.49 L87.8,72.34 L88,72.19 L88.2,72.03 L88.4,71.88 L88.6,71.72 L88.8,71.56 L89,71.4 L89.2,71.23 L89.4,71.07 L89.6,70.9 L89.8,70.73 L90,70.56 L90.2,70.39 L90.4,70.21 L90.6,70.03 L90.8,69.85 L91,69.66 L91.2,69.47 L91.4,69.27 L91.6,69.07 L91.8,68.87 L92,68.67 L92.2,68.46 L92.4,68.25 L92.6,68.04 L92.8,67.83 L93,67.62 L93.2,67.41 L93.4,67.19 L93.6,66.98 L93.8,66.76 L94,66.55 L94.2,66.33 L94.4,66.12 L94.6,65.91 L94.8,65.69 L95,65.48 L95.2,65.27 L95.4,65.06 L95.6,64.85 L95.8,64.65 L96,64.45 L96.2,64.25 L96.4,64.05 L96.6,63.85 L96.8,63.66 L97,63.47 L97.2,63.28 L97.4,63.09 L97.6,62.9 L97.8,62.71 L98,62.52 L98.2,62.34 L98.4,62.15 L98.6,61.96 L98.8,61.78 L99,61.59 L99.2,61.4 L99.4,61.21 L99.6,61.02 L99.8,60.83 L100,60.64 L100.2,60.44 L100.4,60.25 L100.6,60.05 L100.8,59.85 L101,59.65 L101.2,59.44 L101.4,59.23 L101.6,59.02 L101.8,58.81 L102,58.59 L102.2,58.36 L102.4,58.14 L102.6,57.9 L102.8,57.67 L103,57.43 L103.2,57.18 L103.4,56.91 L103.6,56.63 L103.8,56.34 L104,56.04 L104.2,55.73 L104.4,55.41 L104.6,55.09 L104.8,54.76 L105,54.43 L105.2,54.1 L105.4,53.77 L105.6,53.44 L105.8,53.11 L106,52.79 L106.2,52.47 L106.4,52.16 L106.6,51.85 L106.8,51.55 L107,51.26 L107.2,50.96 L107.4,50.63 L107.6,50.28 L107.8,49.89 L108,49.48 L108.2,49.02 L108.4,48.51 L108.6,47.92 L108.8,47.24 L109,46.41 L109.2,45.38 L109.4,44.04 L109.6,42.28 L109.8,39.93 L110,36.95 L110.2,33.69 L110.4,31.33 L110.6,31.34 L110.8,33.73 L111,37.05 L111.2,40.12 L111.4,42.57 L111.6,44.46 L111.8,45.94 L112,47.11 L112.2,48.09 L112.4,48.92 L112.6,49.65 L112.8,50.29 L113,50.86 L113.2,51.38 L113.4,51.84 L113.6,52.24 L113.8,52.59 L114,52.92 L114.2,53.24 L114.4,53.54 L114.6,53.83 L114.8,54.12 L115,54.4 L115.2,54.67 L115.4,54.93 L115.6,55.19 L115.8,55.45 L116,55.69 L116.2,55.93 L116.4,56.17 L116.6,56.4 L116.8,56.62 L117,56.83 L117.2,57.04 L117.4,57.25 L117.6,57.45 L117.8,57.64 L118,57.82 L118.2,58 L118.4,58.17 L118.6,58.35 L118.8,58.52 L119,58.7 L119.2,58.87 L119.4,59.04 L119.6,59.2 L119.8,59.37 L120,59.53 L120.2,59.69 L120.4,59.85 L120.6,60 L120.8,60.16 L121,60.31 L121.2,60.46 L121.4,60.6 L121.6,60.74 L121.8,60.88 L122,61.02 L122.2,61.15 L122.4,61.27 L122.6,61.4 L122.8,61.52 L123,61.64 L123.2,61.75 L123.4,61.86 L123.6,61.96 L123.8,62.06 L124,62.16 L124.2,62.25 L124.4,62.33 L124.6,62.41 L124.8,62.49 L125,62.56 L125.2,62.63 L125.4,62.69 L125.6,62.75 L125.8,62.81 L126,62.86 L126.2,62.92 L126.4,62.97 L126.6,63.02 L126.8,63.06 L127,63.11 L127.2,63.15 L127.4,63.2 L127.6,63.24 L127.8,63.28 L128,63.32 L128.2,63.36 L128.4,63.4 L128.6,63.44 L128.8,63.49 L129,63.53 L129.2,63.57 L129.4,63.61 L129.6,63.65 L129.8,63.69 L130,63.72 L130.2,63.76 L130.4,63.79 L130.6,63.81 L130.8,63.81 L131,63.81 L131.2,63.78 L131.4,63.71 L131.6,63.61 L131.8,63.43 L132,63.15 L132.2,62.72 L132.4,62.08 L132.6,61.24 L132.8,60.4 L133,60.06 L133.2,60.56 L133.4,61.57 L133.6,62.57 L133.8,63.37 L134,63.97 L134.2,64.41 L134.4,64.76 L134.6,65.03 L134.8,65.26 L135,65.45 L135.2,65.63 L135.4,65.79 L135.6,65.94 L135.8,66.08 L136,66.22 L136.2,66.37 L136.4,66.51 L136.6,66.66 L136.8,66.81 L137,66.96 L137.2,67.11 L137.4,67.27 L137.6,67.43 L137.8,67.58 L138,67.74 L138.2,67.9 L138.4,68.06 L138.6,68.21 L138.8,68.37 L139,68.52 L139.2,68.67 L139.4,68.82 L139.6,68.96 L139.8,69.1 L140,69.24 L140.2,69.36 L140.4,69.49 L140.6,69.6 L140.8,69.7 L141,69.79 L141.2,69.87 L141.4,69.94 L141.6,69.99 L141.8,70.02 L142,70.02 L142.2,70 L142.4,69.94 L142.6,69.85 L142.8,69.69 L143,69.44 L143.2,69.06 L143.4,68.48 L143.6,67.6 L143.8,66.32 L144,64.71 L144.2,63.41 L144.4,63.46 L144.6,64.86 L144.8,66.56 L145,67.94 L145.2,68.92 L145.4,69.61 L145.6,70.1 L145.8,70.45 L146,70.73 L146.2,70.94 L146.4,71.12 L146.6,71.26 L146.8,71.39 L147,71.49 L147.2,71.59 L147.4,71.67 L147.6,71.74 L147.8,71.81 L148,71.88 L148.2,71.94 L148.4,71.99 L148.6,72.04 L148.8,72.09 L149,72.14 L149.2,72.18 L149.4,72.23 L149.6,72.27 L149.8,72.3 L150,72.34 L150.2,72.37 L150.4,72.39 L150.6,72.41 L150.8,72.42 L151,72.43 L151.2,72.42 L151.4,72.4 L151.6,72.36 L151.8,72.3 L152,72.22 L152.2,72.12 L152.4,72.02 L152.6,71.94 L152.8,71.92 L153,72 L153.2,72.18 L153.4,72.43 L153.6,72.72 L153.8,73.01 L154,73.28 L154.2,73.54 L154.4,73.78 L154.6,74.01 L154.8,74.22 L155,74.43 L155.2,74.63 L155.4,74.83 L155.6,75.02 L155.8,75.2 L156,75.38 L156.2,75.56 L156.4,75.73 L156.6,75.9 L156.8,76.06 L157,76.21 L157.2,76.36 L157.4,76.5 L157.6,76.63 L157.8,76.75 L158,76.86 L158.2,76.97 L158.4,77.06 L158.6,77.15 L158.8,77.23 L159,77.32 L159.2,77.4 L159.4,77.48 L159.6,77.55 L159.8,77.63 L160,77.7 L160.2,77.77 L160.4,77.84 L160.6,77.91 L160.8,77.97 L161,78.04 L161.2,78.1 L161.4,78.16 L161.6,78.23 L161.8,78.28 L162,78.34 L162.2,78.4 L162.4,78.46 L162.6,78.51 L162.8,78.57 L163,78.62 L163.2,78.68 L163.4,78.73 L163.6,78.78 L163.8,78.83 L164,78.88 L164.2,78.94 L164.4,78.99 L164.6,79.04 L164.8,79.09 L165,79.14 L165.2,79.19 L165.4,79.24 L165.6,79.29 L165.8,79.35 L166,79.4 L166.2,79.45 L166.4,79.5 L166.6,79.56 L166.8,79.61 L167,79.67 L167.2,79.72 L167.4,79.78 L167.6,79.84 L167.8,79.9 L168,79.96 L168.2,80.02 L168.4,80.08 L168.6,80.14 L168.8,80.21 L169,80.27 L169.2,80.34 L169.4,80.41 L169.6,80.48 L169.8,80.55 L170,80.62 L170.2,80.7 L170.4,80.77 L170.6,80.85 L170.8,80.92 L171,81 L171.2,81.07 L171.4,81.15 L171.6,81.23 L171.8,81.31 L172,81.39 L172.2,81.47 L172.4,81.55 L172.6,81.63 L172.8,81.71 L173,81.79 L173.2,81.87 L173.4,81.95 L173.6,82.03 L173.8,82.11 L174,82.19 L174.2,82.27 L174.4,82.35 L174.6,82.42 L174.8,82.5 L175,82.58 L175.2,82.66 L175.4,82.73 L175.6,82.81 L175.8,82.88 L176,82.95 L176.2,83.03 L176.4,83.1 L176.6,83.17 L176.8,83.23 L177,83.3 L177.2,83.37 L177.4,83.43 L177.6,83.49 L177.8,83.55 L178,83.61 L178.2,83.67 L178.4,83.73 L178.6,83.79 L178.8,83.85 L179,83.9 L179.2,83.96 L179.4,84.01 L179.6,84.06 L179.8,84.12 L180,84.17 L180.2,84.22 L180.4,84.27 L180.6,84.32 L180.8,84.37 L181,84.42 L181.2,84.47 L181.4,84.51 L181.6,84.56 L181.8,84.6 L182,84.65 L182.2,84.69 L182.4,84.73 L182.6,84.77 L182.8,84.81 L183,84.85 L183.2,84.88 L183.4,84.92 L183.6,84.95 L183.8,84.98 L184,85 L184.2,85.02 L184.4,85.04 L184.6,85.05 L184.8,85.06 L185,85.06 L185.2,85.05 L185.4,85.03 L185.6,84.99 L185.8,84.95 L186,84.88 L186.2,84.79 L186.4,84.68 L186.6,84.55 L186.8,84.41 L187,84.28 L187.2,84.18 L187.4,84.15 L187.6,84.2 L187.8,84.34 L188,84.55 L188.2,84.79 L188.4,85.03 L188.6,85.26 L188.8,85.47 L189,85.66 L189.2,85.82 L189.4,85.96 L189.6,86.08 L189.8,86.19 L190,86.27 L190.2,86.35 L190.4,86.42 L190.6,86.47 L190.8,86.52 L191,86.56 L191.2,86.6 L191.4,86.63 L191.6,86.66 L191.8,86.69 L192,86.71 L192.2,86.74 L192.4,86.76 L192.6,86.78 L192.8,86.81 L193,86.83 L193.2,86.84 L193.4,86.86 L193.6,86.88 L193.8,86.9 L194,86.91 L194.2,86.93 L194.4,86.94 L194.6,86.96 L194.8,86.97 L195,86.99 L195.2,87 L195.4,87.01 L195.6,87.03 L195.8,87.04 L196,87.05 L196.2,87.06 L196.4,87.07 L196.6,87.09 L196.8,87.1 L197,87.11 L197.2,87.12 L197.4,87.13 L197.6,87.14 L197.8,87.15 L198,87.16 L198.2,87.17 L198.4,87.18 L198.6,87.19 L198.8,87.2 L199,87.21 L199.2,87.22 L199.4,87.23 L199.6,87.23 L199.8,87.24 L200,87.25 L200.2,87.26 L200.4,87.27 L200.6,87.27 L200.8,87.28 L201,87.29 L201.2,87.3 L201.4,87.3 L201.6,87.31 L201.8,87.32 L202,87.32 L202.2,87.33 L202.4,87.34 L202.6,87.34 L202.8,87.35 L203,87.36 L203.2,87.36 L203.4,87.37 L203.6,87.37 L203.8,87.38 L204,87.38 L204.2,87.39 L204.4,87.39 L204.6,87.4 L204.8,87.4 L205,87.41 L205.2,87.41 L205.4,87.42 L205.6,87.42 L205.8,87.43 L206,87.43 L206.2,87.43 L206.4,87.44 L206.6,87.44 L206.8,87.44 L207,87.45 L207.2,87.45 L207.4,87.45 L207.6,87.46 L207.8,87.46 L208,87.46 L208.2,87.47 L208.4,87.47 L208.6,87.47 L208.8,87.47 L209,87.47 L209.2,87.48 L209.4,87.48 L209.6,87.48 L209.8,87.48 L210,87.48 L210.2,87.48 L210.4,87.49 L210.6,87.49 L210.8,87.49 L211,87.49 L211.2,87.49 L211.4,87.49 L211.6,87.49 L211.8,87.49 L212,87.49 L212.2,87.49 L212.4,87.49" fill="none" stroke="#23923f" stroke-width="1.05" stroke-linejoin="round" />
<path d="M27,47.01 L27.2,46.79 L27.4,46.58 L27.6,46.36 L27.8,46.14 L28,45.92 L28.2,45.7 L28.4,45.48 L28.6,45.26 L28.8,45.03 L29,44.81 L29.2,44.58 L29.4,44.35 L29.6,44.12 L29.8,43.89 L30,43.66 L30.2,43.43 L30.4,43.2 L30.6,42.96 L30.8,42.73 L31,42.49 L31.2,42.25 L31.4,42.01 L31.6,41.77 L31.8,41.52 L32,41.27 L32.2,41.02 L32.4,40.77 L32.6,40.52 L32.8,40.27 L33,40.02 L33.2,39.76 L33.4,39.51 L33.6,39.26 L33.8,39 L34,38.75 L34.2,38.49 L34.4,38.24 L34.6,37.99 L34.8,37.73 L35,37.48 L35.2,37.23 L35.4,36.97 L35.6,36.71 L35.8,36.44 L36,36.17 L36.2,35.9 L36.4,35.63 L36.6,35.36 L36.8,35.09 L37,34.82 L37.2,34.56 L37.4,34.3 L37.6,34.04 L37.8,33.79 L38,33.55 L38.2,33.31 L38.4,33.09 L38.6,32.87 L38.8,32.66 L39,32.47 L39.2,32.28 L39.4,32.08 L39.6,31.88 L39.8,31.67 L40,31.47 L40.2,31.26 L40.4,31.06 L40.6,30.86 L40.8,30.67 L41,30.49 L41.2,30.31 L41.4,30.15 L41.6,29.99 L41.8,29.86 L42,29.73 L42.2,29.63 L42.4,29.54 L42.6,29.48 L42.8,29.44 L43,29.42 L43.2,29.41 L43.4,29.41 L43.6,29.4 L43.8,29.39 L44,29.38 L44.2,29.37 L44.4,29.36 L44.6,29.35 L44.8,29.33 L45,29.31 L45.2,29.29 L45.4,29.26 L45.6,29.23 L45.8,29.19 L46,29.14 L46.2,29.1 L46.4,29.07 L46.6,29.04 L46.8,29 L47,28.93 L47.2,28.81 L47.4,28.58 L47.6,28.21 L47.8,27.63 L48,26.83 L48.2,26.03 L48.4,25.74 L48.6,26.3 L48.8,27.36 L49,28.43 L49.2,29.29 L49.4,29.96 L49.6,30.48 L49.8,30.9 L50,31.26 L50.2,31.58 L50.4,31.89 L50.6,32.18 L50.8,32.46 L51,32.75 L51.2,33.02 L51.4,33.3 L51.6,33.58 L51.8,33.85 L52,34.12 L52.2,34.39 L52.4,34.65 L52.6,34.9 L52.8,35.15 L53,35.39 L53.2,35.62 L53.4,35.85 L53.6,36.08 L53.8,36.31 L54,36.55 L54.2,36.78 L54.4,37.01 L54.6,37.23 L54.8,37.46 L55,37.69 L55.2,37.91 L55.4,38.13 L55.6,38.35 L55.8,38.57 L56,38.78 L56.2,38.99 L56.4,39.19 L56.6,39.4 L56.8,39.6 L57,39.79 L57.2,39.98 L57.4,40.17 L57.6,40.35 L57.8,40.52 L58,40.7 L58.2,40.88 L58.4,41.05 L58.6,41.23 L58.8,41.4 L59,41.57 L59.2,41.74 L59.4,41.91 L59.6,42.07 L59.8,42.24 L60,42.4 L60.2,42.56 L60.4,42.71 L60.6,42.87 L60.8,43.02 L61,43.16 L61.2,43.31 L61.4,43.45 L61.6,43.59 L61.8,43.72 L62,43.85 L62.2,43.98 L62.4,44.11 L62.6,44.23 L62.8,44.34 L63,44.45 L63.2,44.56 L63.4,44.67 L63.6,44.77 L63.8,44.87 L64,44.97 L64.2,45.07 L64.4,45.17 L64.6,45.26 L64.8,45.35 L65,45.44 L65.2,45.53 L65.4,45.61 L65.6,45.7 L65.8,45.78 L66,45.86 L66.2,45.94 L66.4,46.02 L66.6,46.09 L66.8,46.17 L67,46.24 L67.2,46.31 L67.4,46.38 L67.6,46.45 L67.8,46.52 L68,46.59 L68.2,46.65 L68.4,46.72 L68.6,46.78 L68.8,46.84 L69,46.9 L69.2,46.95 L69.4,47 L69.6,47.05 L69.8,47.1 L70,47.14 L70.2,47.18 L70.4,47.22 L70.6,47.25 L70.8,47.29 L71,47.31 L71.2,47.33 L71.4,47.35 L71.6,47.36 L71.8,47.36 L72,47.35 L72.2,47.32 L72.4,47.27 L72.6,47.2 L72.8,47.1 L73,46.94 L73.2,46.71 L73.4,46.38 L73.6,45.9 L73.8,45.17 L74,44.08 L74.2,42.46 L74.4,40.25 L74.6,37.89 L74.8,36.82 L75,38.08 L75.2,40.62 L75.4,43.01 L75.6,44.8 L75.8,46.06 L76,46.94 L76.2,47.59 L76.4,48.07 L76.6,48.44 L76.8,48.73 L77,48.96 L77.2,49.15 L77.4,49.3 L77.6,49.42 L77.8,49.51 L78,49.57 L78.2,49.61 L78.4,49.65 L78.6,49.67 L78.8,49.69 L79,49.7 L79.2,49.71 L79.4,49.71 L79.6,49.7 L79.8,49.69 L80,49.68 L80.2,49.66 L80.4,49.64 L80.6,49.62 L80.8,49.6 L81,49.57 L81.2,49.54 L81.4,49.51 L81.6,49.47 L81.8,49.44 L82,49.4 L82.2,49.36 L82.4,49.3 L82.6,49.23 L82.8,49.15 L83,49.05 L83.2,48.94 L83.4,48.83 L83.6,48.7 L83.8,48.56 L84,48.42 L84.2,48.27 L84.4,48.11 L84.6,47.95 L84.8,47.78 L85,47.6 L85.2,47.43 L85.4,47.24 L85.6,47.06 L85.8,46.88 L86,46.69 L86.2,46.51 L86.4,46.32 L86.6,46.14 L86.8,45.96 L87,45.78 L87.2,45.61 L87.4,45.44 L87.6,45.27 L87.8,45.11 L88,44.96 L88.2,44.81 L88.4,44.66 L88.6,44.51 L88.8,44.36 L89,44.21 L89.2,44.06 L89.4,43.91 L89.6,43.76 L89.8,43.6 L90,43.45 L90.2,43.3 L90.4,43.15 L90.6,43 L90.8,42.85 L91,42.69 L91.2,42.54 L91.4,42.39 L91.6,42.24 L91.8,42.09 L92,41.94 L92.2,41.79 L92.4,41.64 L92.6,41.5 L92.8,41.35 L93,41.2 L93.2,41.06 L93.4,40.91 L93.6,40.77 L93.8,40.62 L94,40.48 L94.2,40.34 L94.4,40.2 L94.6,40.06 L94.8,39.92 L95,39.78 L95.2,39.65 L95.4,39.52 L95.6,39.38 L95.8,39.25 L96,39.12 L96.2,38.99 L96.4,38.86 L96.6,38.73 L96.8,38.6 L97,38.48 L97.2,38.35 L97.4,38.22 L97.6,38.09 L97.8,37.96 L98,37.83 L98.2,37.7 L98.4,37.56 L98.6,37.43 L98.8,37.29 L99,37.16 L99.2,37.02 L99.4,36.88 L99.6,36.74 L99.8,36.59 L100,36.45 L100.2,36.3 L100.4,36.15 L100.6,36 L100.8,35.84 L101,35.69 L101.2,35.53 L101.4,35.37 L101.6,35.21 L101.8,35.05 L102,34.89 L102.2,34.72 L102.4,34.56 L102.6,34.39 L102.8,34.23 L103,34.06 L103.2,33.89 L103.4,33.72 L103.6,33.55 L103.8,33.38 L104,33.21 L104.2,33.04 L104.4,32.87 L104.6,32.7 L104.8,32.52 L105,32.35 L105.2,32.17 L105.4,31.99 L105.6,31.81 L105.8,31.62 L106,31.43 L106.2,31.23 L106.4,31.04 L106.6,30.84 L106.8,30.64 L107,30.44 L107.2,30.23 L107.4,30.02 L107.6,29.81 L107.8,29.6 L108,29.37 L108.2,29.13 L108.4,28.84 L108.6,28.52 L108.8,28.15 L109,27.71 L109.2,27.18 L109.4,26.51 L109.6,25.66 L109.8,24.56 L110,23.19 L110.2,21.7 L110.4,20.64 L110.6,20.64 L110.8,21.73 L111,23.25 L111.2,24.67 L111.4,25.84 L111.6,26.77 L111.8,27.53 L112,28.16 L112.2,28.7 L112.4,29.18 L112.6,29.62 L112.8,30.01 L113,30.37 L113.2,30.72 L113.4,31.08 L113.6,31.46 L113.8,31.85 L114,32.25 L114.2,32.66 L114.4,33.07 L114.6,33.48 L114.8,33.87 L115,34.26 L115.2,34.63 L115.4,34.98 L115.6,35.3 L115.8,35.59 L116,35.84 L116.2,36.07 L116.4,36.29 L116.6,36.5 L116.8,36.7 L117,36.9 L117.2,37.08 L117.4,37.26 L117.6,37.44 L117.8,37.6 L118,37.77 L118.2,37.92 L118.4,38.08 L118.6,38.23 L118.8,38.37 L119,38.52 L119.2,38.66 L119.4,38.8 L119.6,38.94 L119.8,39.08 L120,39.22 L120.2,39.36 L120.4,39.51 L120.6,39.65 L120.8,39.79 L121,39.94 L121.2,40.08 L121.4,40.23 L121.6,40.38 L121.8,40.52 L122,40.67 L122.2,40.81 L122.4,40.96 L122.6,41.1 L122.8,41.24 L123,41.38 L123.2,41.52 L123.4,41.66 L123.6,41.8 L123.8,41.93 L124,42.06 L124.2,42.19 L124.4,42.32 L124.6,42.44 L124.8,42.56 L125,42.68 L125.2,42.79 L125.4,42.9 L125.6,43.01 L125.8,43.11 L126,43.21 L126.2,43.3 L126.4,43.39 L126.6,43.48 L126.8,43.56 L127,43.63 L127.2,43.7 L127.4,43.76 L127.6,43.81 L127.8,43.86 L128,43.9 L128.2,43.94 L128.4,43.96 L128.6,43.99 L128.8,44.01 L129,44.02 L129.2,44.03 L129.4,44.04 L129.6,44.04 L129.8,44.03 L130,44.02 L130.2,44 L130.4,43.97 L130.6,43.93 L130.8,43.87 L131,43.79 L131.2,43.69 L131.4,43.55 L131.6,43.35 L131.8,43.06 L132,42.65 L132.2,42.06 L132.4,41.25 L132.6,40.3 L132.8,39.57 L133,39.59 L133.2,40.35 L133.4,41.34 L133.6,42.19 L133.8,42.82 L134,43.28 L134.2,43.61 L134.4,43.86 L134.6,44.05 L134.8,44.24 L135,44.44 L135.2,44.67 L135.4,44.92 L135.6,45.19 L135.8,45.48 L136,45.77 L136.2,46.07 L136.4,46.37 L136.6,46.66 L136.8,46.95 L137,47.21 L137.2,47.45 L137.4,47.65 L137.6,47.82 L137.8,47.95 L138,48.02 L138.2,48.07 L138.4,48.1 L138.6,48.13 L138.8,48.16 L139,48.18 L139.2,48.19 L139.4,48.2 L139.6,48.2 L139.8,48.2 L140,48.19 L140.2,48.18 L140.4,48.15 L140.6,48.13 L140.8,48.09 L141,48.05 L141.2,48 L141.4,47.93 L141.6,47.85 L141.8,47.74 L142,47.61 L142.2,47.44 L142.4,47.22 L142.6,46.93 L142.8,46.54 L143,46.01 L143.2,45.27 L143.4,44.21 L143.6,42.63 L143.8,40.29 L144,36.92 L144.2,32.7 L144.4,29.29 L144.6,29.42 L144.8,33.08 L145,37.56 L145.2,41.17 L145.4,43.73 L145.6,45.49 L145.8,46.71 L146,47.59 L146.2,48.25 L146.4,48.74 L146.6,49.14 L146.8,49.45 L147,49.71 L147.2,49.93 L147.4,50.11 L147.6,50.27 L147.8,50.41 L148,50.53 L148.2,50.65 L148.4,50.75 L148.6,50.84 L148.8,50.92 L149,51 L149.2,51.08 L149.4,51.15 L149.6,51.21 L149.8,51.27 L150,51.33 L150.2,51.39 L150.4,51.44 L150.6,51.49 L150.8,51.53 L151,51.56 L151.2,51.58 L151.4,51.59 L151.6,51.58 L151.8,51.55 L152,51.47 L152.2,51.34 L152.4,51.14 L152.6,50.9 L152.8,50.72 L153,50.77 L153.2,51.04 L153.4,51.38 L153.6,51.67 L153.8,51.9 L154,52.08 L154.2,52.22 L154.4,52.33 L154.6,52.43 L154.8,52.51 L155,52.59 L155.2,52.66 L155.4,52.73 L155.6,52.8 L155.8,52.87 L156,52.93 L156.2,53 L156.4,53.07 L156.6,53.14 L156.8,53.21 L157,53.29 L157.2,53.36 L157.4,53.44 L157.6,53.52 L157.8,53.6 L158,53.68 L158.2,53.76 L158.4,53.84 L158.6,53.93 L158.8,54.01 L159,54.09 L159.2,54.18 L159.4,54.26 L159.6,54.35 L159.8,54.43 L160,54.52 L160.2,54.6 L160.4,54.68 L160.6,54.76 L160.8,54.84 L161,54.92 L161.2,55 L161.4,55.07 L161.6,55.15 L161.8,55.22 L162,55.29 L162.2,55.36 L162.4,55.43 L162.6,55.5 L162.8,55.57 L163,55.64 L163.2,55.71 L163.4,55.78 L163.6,55.84 L163.8,55.91 L164,55.98 L164.2,56.04 L164.4,56.11 L164.6,56.17 L164.8,56.24 L165,56.3 L165.2,56.37 L165.4,56.43 L165.6,56.5 L165.8,56.56 L166,56.63 L166.2,56.69 L166.4,56.76 L166.6,56.82 L166.8,56.89 L167,56.95 L167.2,57.02 L167.4,57.08 L167.6,57.15 L167.8,57.21 L168,57.28 L168.2,57.35 L168.4,57.41 L168.6,57.48 L168.8,57.55 L169,57.62 L169.2,57.69 L169.4,57.76 L169.6,57.83 L169.8,57.9 L170,57.97 L170.2,58.04 L170.4,58.12 L170.6,58.2 L170.8,58.28 L171,58.35 L171.2,58.43 L171.4,58.51 L171.6,58.58 L171.8,58.66 L172,58.72 L172.2,58.78 L172.4,58.84 L172.6,58.88 L172.8,58.92 L173,58.94 L173.2,58.96 L173.4,58.96 L173.6,58.94 L173.8,58.89 L174,58.8 L174.2,58.66 L174.4,58.41 L174.6,58.04 L174.8,57.51 L175,56.94 L175.2,56.7 L175.4,57.03 L175.6,57.68 L175.8,58.3 L176,58.76 L176.2,59.09 L176.4,59.33 L176.6,59.51 L176.8,59.65 L177,59.77 L177.2,59.87 L177.4,59.95 L177.6,60.02 L177.8,60.09 L178,60.15 L178.2,60.2 L178.4,60.25 L178.6,60.3 L178.8,60.35 L179,60.39 L179.2,60.44 L179.4,60.48 L179.6,60.52 L179.8,60.56 L180,60.6 L180.2,60.63 L180.4,60.67 L180.6,60.71 L180.8,60.75 L181,60.78 L181.2,60.82 L181.4,60.85 L181.6,60.89 L181.8,60.92 L182,60.96 L182.2,60.99 L182.4,61.02 L182.6,61.05 L182.8,61.09 L183,61.12 L183.2,61.15 L183.4,61.18 L183.6,61.2 L183.8,61.23 L184,61.25 L184.2,61.28 L184.4,61.3 L184.6,61.32 L184.8,61.34 L185,61.35 L185.2,61.35 L185.4,61.34 L185.6,61.31 L185.8,61.27 L186,61.21 L186.2,61.12 L186.4,61.01 L186.6,60.9 L186.8,60.78 L187,60.71 L187.2,60.69 L187.4,60.76 L187.6,60.92 L187.8,61.14 L188,61.39 L188.2,61.64 L188.4,61.88 L188.6,62.1 L188.8,62.28 L189,62.44 L189.2,62.58 L189.4,62.69 L189.6,62.78 L189.8,62.85 L190,62.9 L190.2,62.95 L190.4,62.98 L190.6,63.01 L190.8,63.04 L191,63.06 L191.2,63.08 L191.4,63.1 L191.6,63.12 L191.8,63.13 L192,63.14 L192.2,63.16 L192.4,63.17 L192.6,63.17 L192.8,63.18 L193,63.19 L193.2,63.2 L193.4,63.2 L193.6,63.21 L193.8,63.21 L194,63.22 L194.2,63.22 L194.4,63.23 L194.6,63.23 L194.8,63.23 L195,63.24 L195.2,63.24 L195.4,63.24 L195.6,63.24 L195.8,63.25 L196,63.25 L196.2,63.25 L196.4,63.25 L196.6,63.25 L196.8,63.26 L197,63.26 L197.2,63.26 L197.4,63.26 L197.6,63.26 L197.8,63.26 L198,63.26 L198.2,63.26 L198.4,63.27 L198.6,63.27 L198.8,63.27 L199,63.27 L199.2,63.27 L199.4,63.27 L199.6,63.27 L199.8,63.27 L200,63.27 L200.2,63.27 L200.4,63.27 L200.6,63.27 L200.8,63.28 L201,63.28 L201.2,63.28 L201.4,63.28 L201.6,63.28 L201.8,63.28 L202,63.28 L202.2,63.28 L202.4,63.28 L202.6,63.28 L202.8,63.28 L203,63.28 L203.2,63.28 L203.4,63.28 L203.6,63.28 L203.8,63.28 L204,63.28 L204.2,63.28 L204.4,63.28 L204.6,63.28 L204.8,63.28 L205,63.28 L205.2,63.28 L205.4,63.28 L205.6,63.28 L205.8,63.29 L206,63.29 L206.2,63.29 L206.4,63.29 L206.6,63.29 L206.8,63.29 L207,63.29 L207.2,63.29 L207.4,63.29 L207.6,63.29 L207.8,63.29 L208,63.29 L208.2,63.29 L208.4,63.29 L208.6,63.29 L208.8,63.29 L209,63.29 L209.2,63.29 L209.4,63.29 L209.6,63.29 L209.8,63.29 L210,63.29 L210.2,63.29 L210.4,63.29 L210.6,63.29 L210.8,63.29 L211,63.29 L211.2,63.29 L211.4,63.29 L211.6,63.29 L211.8,63.29 L212,63.29 L212.2,63.29 L212.4,63.29" fill="none" stroke="#ec2a30" stroke-width="1.05" stroke-linejoin="round" />
<line x1="49.1" y1="177.5" x2="49.1" y2="173.5" stroke="#ec2a30" stroke-width="0.9" />
<line x1="110.4" y1="177.5" x2="110.4" y2="159.7" stroke="#ec2a30" stroke-width="0.9" />
<line x1="132.6" y1="177.5" x2="132.6" y2="166.6" stroke="#ec2a30" stroke-width="0.9" />
<line x1="142.9" y1="177.5" x2="142.9" y2="172.7" stroke="#ec2a30" stroke-width="0.9" />
<line x1="170.1" y1="177.5" x2="170.1" y2="159.7" stroke="#ec2a30" stroke-width="0.9" />
<line x1="84" y1="177.5" x2="84" y2="176.2" stroke="#ec2a30" stroke-width="0.9" />
<line x1="97.7" y1="177.5" x2="97.7" y2="176.2" stroke="#ec2a30" stroke-width="0.9" />
<line x1="153.2" y1="177.5" x2="153.2" y2="175.5" stroke="#ec2a30" stroke-width="0.9" />
<line x1="186.4" y1="177.5" x2="186.4" y2="176.2" stroke="#ec2a30" stroke-width="0.9" />
<line x1="120" y1="177.5" x2="120" y2="176.6" stroke="#ec2a30" stroke-width="0.9" />
<line x1="63" y1="177.5" x2="63" y2="176.8" stroke="#ec2a30" stroke-width="0.9" />
<line x1="75.5" y1="195.45" x2="75.5" y2="183.3" stroke="#111111" stroke-width="0.9" />
<line x1="144.8" y1="195.45" x2="144.8" y2="177.5" stroke="#111111" stroke-width="0.9" />
<line x1="93" y1="195.45" x2="93" y2="193.8" stroke="#111111" stroke-width="0.9" />
<line x1="27" y1="159.7" x2="212.5" y2="159.7" stroke="#3a3a3a" stroke-width="1.0" />
<line x1="27" y1="177.5" x2="212.5" y2="177.5" stroke="#3a3a3a" stroke-width="1.0" />
<rect x="27" y="12" width="185.5" height="183.45" fill="none" stroke="#3a3a3a" stroke-width="1.0"/>
<line x1="27" y1="195.45" x2="27" y2="199.25" stroke="#3a3a3a" stroke-width="0.9" />
<text transform="translate(27,209.7) scale(1,1.0)" font-size="9.5" text-anchor="middle" fill="#222" >1.0</text>
<line x1="57.92" y1="195.45" x2="57.92" y2="199.25" stroke="#3a3a3a" stroke-width="0.9" />
<text transform="translate(57.92,209.7) scale(1,1.0)" font-size="9.5" text-anchor="middle" fill="#222" >1.5</text>
<line x1="88.83" y1="195.45" x2="88.83" y2="199.25" stroke="#3a3a3a" stroke-width="0.9" />
<text transform="translate(88.83,209.7) scale(1,1.0)" font-size="9.5" text-anchor="middle" fill="#222" >2.0</text>
<line x1="119.75" y1="195.45" x2="119.75" y2="199.25" stroke="#3a3a3a" stroke-width="0.9" />
<text transform="translate(119.75,209.7) scale(1,1.0)" font-size="9.5" text-anchor="middle" fill="#222" >2.5</text>
<line x1="150.67" y1="195.45" x2="150.67" y2="199.25" stroke="#3a3a3a" stroke-width="0.9" />
<text transform="translate(150.67,209.7) scale(1,1.0)" font-size="9.5" text-anchor="middle" fill="#222" >3.0</text>
<line x1="181.58" y1="195.45" x2="181.58" y2="199.25" stroke="#3a3a3a" stroke-width="0.9" />
<text transform="translate(181.58,209.7) scale(1,1.0)" font-size="9.5" text-anchor="middle" fill="#222" >3.5</text>
<line x1="212.5" y1="195.45" x2="212.5" y2="199.25" stroke="#3a3a3a" stroke-width="0.9" />
<text transform="translate(212.5,209.7) scale(1,1.0)" font-size="9.5" text-anchor="middle" fill="#222" >4.0</text>
<text transform="translate(124.2,224.6) scale(1,1.0)" font-size="9.7" text-anchor="middle" fill="#222" >2 theta (degree)</text>
<text transform="translate(19.7,105.1) rotate(-90) scale(1.08,1)" font-size="9.45" text-anchor="middle" fill="#222" >Intensity (a.u.)</text>
<text transform="translate(210.5,24) scale(1,1.0)" font-size="9.5" text-anchor="end" fill="#333" ><tspan>Na</tspan><tspan font-size="5.8" dy="2.8">3</tspan><tspan dy="-2.8">PS</tspan><tspan font-size="5.8" dy="2.8" font-style="italic">4–x</tspan><tspan dy="-2.8">O</tspan><tspan font-size="5.8" dy="2.8" font-style="italic">x</tspan></text>
<text transform="translate(210.8,53.1) scale(1,1.0)" font-size="9.5" text-anchor="end" fill="#ec2a30" ><tspan font-style="italic">x</tspan> = 0.60</text>
<text transform="translate(210.8,79.5) scale(1,1.0)" font-size="9.5" text-anchor="end" fill="#23923f" ><tspan font-style="italic">x</tspan> = 0.30</text>
<text transform="translate(210.8,106.9) scale(1,1.0)" font-size="9.5" text-anchor="end" fill="#4665c0" ><tspan font-style="italic">x</tspan> = 0.15</text>
<text transform="translate(210.8,133.3) scale(1,1.0)" font-size="9.5" text-anchor="end" fill="#111111" ><tspan font-style="italic">x</tspan> = 0.00</text>
<text transform="translate(211,172) scale(1,1.0)" font-size="9.5" text-anchor="end" fill="#ec2a30" textLength="35.5" lengthAdjust="spacingAndGlyphs"><tspan font-style="italic">γ</tspan>-Na<tspan font-size="5.8" dy="2.8">3</tspan><tspan dy="-2.8">PS</tspan><tspan font-size="5.8" dy="2.8">4</tspan></text>
<text transform="translate(209.2,189.5) scale(1,1.0)" font-size="9.5" text-anchor="end" fill="#222" >Na<tspan font-size="5.8" dy="2.8">2</tspan><tspan dy="-2.8">S</tspan></text>
<path d="M252.5,180.97 L252.75,180.97 L253,180.98 L253.25,180.98 L253.5,180.98 L253.75,180.98 L254,180.99 L254.25,180.99 L254.5,181 L254.75,181 L255,181.01 L255.25,181.02 L255.5,181.03 L255.75,181.04 L256,181.05 L256.25,181.06 L256.5,181.07 L256.75,181.08 L257,181.1 L257.25,181.11 L257.5,181.12 L257.75,181.14 L258,181.15 L258.25,181.17 L258.5,181.19 L258.75,181.2 L259,181.22 L259.25,181.24 L259.5,181.26 L259.75,181.27 L260,181.29 L260.25,181.31 L260.5,181.33 L260.75,181.35 L261,181.37 L261.25,181.39 L261.5,181.41 L261.75,181.44 L262,181.46 L262.25,181.48 L262.5,181.5 L262.75,181.52 L263,181.55 L263.25,181.57 L263.5,181.59 L263.75,181.61 L264,181.64 L264.25,181.66 L264.5,181.68 L264.75,181.71 L265,181.74 L265.25,181.78 L265.5,181.82 L265.75,181.86 L266,181.91 L266.25,181.96 L266.5,182.01 L266.75,182.06 L267,182.11 L267.25,182.16 L267.5,182.22 L267.75,182.27 L268,182.32 L268.25,182.38 L268.5,182.43 L268.75,182.48 L269,182.52 L269.25,182.56 L269.5,182.6 L269.75,182.64 L270,182.67 L270.25,182.69 L270.5,182.7 L270.75,182.71 L271,182.71 L271.25,182.7 L271.5,182.68 L271.75,182.65 L272,182.61 L272.25,182.55 L272.5,182.49 L272.75,182.41 L273,182.32 L273.25,182.22 L273.5,182.11 L273.75,181.99 L274,181.86 L274.25,181.72 L274.5,181.57 L274.75,181.41 L275,181.25 L275.25,181.08 L275.5,180.91 L275.75,180.73 L276,180.55 L276.25,180.37 L276.5,180.19 L276.75,180.01 L277,179.84 L277.25,179.68 L277.5,179.52 L277.75,179.38 L278,179.24 L278.25,179.13 L278.5,179.02 L278.75,178.94 L279,178.87 L279.25,178.82 L279.5,178.8 L279.75,178.79 L280,178.8 L280.25,178.84 L280.5,178.89 L280.75,178.97 L281,179.06 L281.25,179.17 L281.5,179.3 L281.75,179.44 L282,179.6 L282.25,179.77 L282.5,179.95 L282.75,180.13 L283,180.33 L283.25,180.53 L283.5,180.73 L283.75,180.93 L284,181.13 L284.25,181.33 L284.5,181.53 L284.75,181.72 L285,181.91 L285.25,182.09 L285.5,182.26 L285.75,182.42 L286,182.58 L286.25,182.73 L286.5,182.87 L286.75,183 L287,183.13 L287.25,183.24 L287.5,183.36 L287.75,183.47 L288,183.58 L288.25,183.69 L288.5,183.79 L288.75,183.89 L289,183.99 L289.25,184.09 L289.5,184.19 L289.75,184.28 L290,184.38 L290.25,184.47 L290.5,184.56 L290.75,184.65 L291,184.74 L291.25,184.83 L291.5,184.92 L291.75,185 L292,185.09 L292.25,185.17 L292.5,185.26 L292.75,185.34 L293,185.42 L293.25,185.49 L293.5,185.57 L293.75,185.64 L294,185.71 L294.25,185.78 L294.5,185.85 L294.75,185.91 L295,185.96 L295.25,186.02 L295.5,186.07 L295.75,186.11 L296,186.15 L296.25,186.19 L296.5,186.21 L296.75,186.24 L297,186.26 L297.25,186.27 L297.5,186.27 L297.75,186.27 L298,186.27 L298.25,186.26 L298.5,186.25 L298.75,186.25 L299,186.24 L299.25,186.22 L299.5,186.21 L299.75,186.2 L300,186.18 L300.25,186.16 L300.5,186.14 L300.75,186.13 L301,186.1 L301.25,186.08 L301.5,186.06 L301.75,186.04 L302,186.01 L302.25,185.99 L302.5,185.96 L302.75,185.93 L303,185.91 L303.25,185.88 L303.5,185.85 L303.75,185.82 L304,185.79 L304.25,185.76 L304.5,185.73 L304.75,185.7 L305,185.66 L305.25,185.63 L305.5,185.6 L305.75,185.57 L306,185.53 L306.25,185.5 L306.5,185.47 L306.75,185.44 L307,185.4 L307.25,185.37 L307.5,185.34 L307.75,185.31 L308,185.28 L308.25,185.25 L308.5,185.21 L308.75,185.18 L309,185.15 L309.25,185.12 L309.5,185.1 L309.75,185.07 L310,185.04 L310.25,185.01 L310.5,184.99 L310.75,184.96 L311,184.94 L311.25,184.91 L311.5,184.89 L311.75,184.87 L312,184.85 L312.25,184.82 L312.5,184.8 L312.75,184.78 L313,184.76 L313.25,184.73 L313.5,184.71 L313.75,184.68 L314,184.65 L314.25,184.61 L314.5,184.56 L314.75,184.5 L315,184.42 L315.25,184.3 L315.5,184.13 L315.75,183.89 L316,183.57 L316.25,183.14 L316.5,182.58 L316.75,181.87 L317,180.99 L317.25,179.94 L317.5,178.74 L317.75,177.43 L318,176.05 L318.25,174.67 L318.5,173.37 L318.75,172.23 L319,171.34 L319.25,170.77 L319.5,170.55 L319.75,170.7 L320,171.21 L320.25,172.03 L320.5,173.1 L320.75,174.33 L321,175.64 L321.25,176.96 L321.5,178.2 L321.75,179.32 L322,180.3 L322.25,181.1 L322.5,181.74 L322.75,182.23 L323,182.58 L323.25,182.81 L323.5,182.96 L323.75,183.04 L324,183.07 L324.25,183.05 L324.5,183.01 L324.75,182.95 L325,182.86 L325.25,182.77 L325.5,182.65 L325.75,182.52 L326,182.37 L326.25,182.2 L326.5,181.99 L326.75,181.74 L327,181.45 L327.25,181.09 L327.5,180.65 L327.75,180.12 L328,179.46 L328.25,178.65 L328.5,177.67 L328.75,176.47 L329,175.02 L329.25,173.29 L329.5,171.23 L329.75,168.81 L330,166 L330.25,162.79 L330.5,159.15 L330.75,155.1 L331,150.64 L331.25,145.82 L331.5,140.69 L331.75,135.34 L332,129.86 L332.25,124.39 L332.5,119.06 L332.75,114.07 L333,109.59 L333.25,105.82 L333.5,102.96 L333.75,101.18 L334,100.57 L334.25,101.18 L334.5,102.98 L334.75,105.84 L335,109.62 L335.25,114.11 L335.5,119.11 L335.75,124.44 L336,129.93 L336.25,135.41 L336.5,140.78 L336.75,145.91 L337,150.74 L337.25,155.21 L337.5,159.27 L337.75,162.92 L338,166.15 L338.25,168.96 L338.5,171.39 L338.75,173.47 L339,175.22 L339.25,176.68 L339.5,177.89 L339.75,178.89 L340,179.72 L340.25,180.39 L340.5,180.95 L340.75,181.41 L341,181.79 L341.25,182.11 L341.5,182.38 L341.75,182.62 L342,182.82 L342.25,183 L342.5,183.17 L342.75,183.32 L343,183.45 L343.25,183.58 L343.5,183.7 L343.75,183.81 L344,183.91 L344.25,184.01 L344.5,184.1 L344.75,184.19 L345,184.27 L345.25,184.35 L345.5,184.43 L345.75,184.5 L346,184.56 L346.25,184.62 L346.5,184.68 L346.75,184.74 L347,184.79 L347.25,184.83 L347.5,184.87 L347.75,184.9 L348,184.91 L348.25,184.91 L348.5,184.89 L348.75,184.83 L349,184.74 L349.25,184.61 L349.5,184.43 L349.75,184.2 L350,183.92 L350.25,183.6 L350.5,183.24 L350.75,182.86 L351,182.47 L351.25,182.1 L351.5,181.77 L351.75,181.5 L352,181.32 L352.25,181.23 L352.5,181.25 L352.75,181.38 L353,181.61 L353.25,181.92 L353.5,182.3 L353.75,182.73 L354,183.18 L354.25,183.62 L354.5,184.05 L354.75,184.44 L355,184.78 L355.25,185.08 L355.5,185.33 L355.75,185.53 L356,185.69 L356.25,185.81 L356.5,185.9 L356.75,185.96 L357,186.01 L357.25,186.04 L357.5,186.07 L357.75,186.08 L358,186.1 L358.25,186.11 L358.5,186.11 L358.75,186.12 L359,186.13 L359.25,186.13 L359.5,186.14 L359.75,186.14 L360,186.15 L360.25,186.15 L360.5,186.16 L360.75,186.16 L361,186.17 L361.25,186.17 L361.5,186.18 L361.75,186.18 L362,186.18 L362.25,186.19 L362.5,186.19 L362.75,186.19 L363,186.2 L363.25,186.2 L363.5,186.2 L363.75,186.21 L364,186.21 L364.25,186.21 L364.5,186.22 L364.75,186.22 L365,186.22 L365.25,186.23 L365.5,186.23 L365.75,186.23 L366,186.23 L366.25,186.24 L366.5,186.24 L366.75,186.24 L367,186.24 L367.25,186.25 L367.5,186.25 L367.75,186.25 L368,186.25 L368.25,186.25 L368.5,186.26 L368.75,186.26 L369,186.25 L369.25,186.23 L369.5,186.2 L369.75,186.16 L370,186.11 L370.25,186.05 L370.5,185.99 L370.75,185.92 L371,185.84 L371.25,185.76 L371.5,185.67 L371.75,185.57 L372,185.48 L372.25,185.37 L372.5,185.27 L372.75,185.16 L373,185.05 L373.25,184.94 L373.5,184.83 L373.75,184.72 L374,184.61 L374.25,184.5 L374.5,184.39 L374.75,184.28 L375,184.18 L375.25,184.08 L375.5,183.98 L375.75,183.88 L376,183.79 L376.25,183.68 L376.5,183.57 L376.75,183.45 L377,183.33 L377.25,183.2 L377.5,183.07 L377.75,182.94 L378,182.8 L378.25,182.67 L378.5,182.53 L378.75,182.39 L379,182.25 L379.25,182.11 L379.5,181.97 L379.75,181.83 L380,181.7 L380.25,181.57 L380.5,181.44 L380.75,181.32 L381,181.2 L381.25,181.09 L381.5,180.99 L381.75,180.89 L382,180.8 L382.25,180.72 L382.5,180.65 L382.75,180.58 L383,180.53 L383.25,180.49 L383.5,180.46 L383.75,180.44 L384,180.43 L384.25,180.43 L384.5,180.44 L384.75,180.45 L385,180.47 L385.25,180.49 L385.5,180.52 L385.75,180.54 L386,180.58 L386.25,180.61 L386.5,180.65 L386.75,180.69 L387,180.73 L387.25,180.78 L387.5,180.83 L387.75,180.88 L388,180.93 L388.25,180.98 L388.5,181.03 L388.75,181.09 L389,181.15 L389.25,181.2 L389.5,181.26 L389.75,181.32 L390,181.38 L390.25,181.43 L390.5,181.49 L390.75,181.55 L391,181.6 L391.25,181.66 L391.5,181.72 L391.75,181.78 L392,181.84 L392.25,181.91 L392.5,181.98 L392.75,182.06 L393,182.14 L393.25,182.22 L393.5,182.3 L393.75,182.39 L394,182.48 L394.25,182.57 L394.5,182.66 L394.75,182.75 L395,182.85 L395.25,182.95 L395.5,183.04 L395.75,183.14 L396,183.24 L396.25,183.34 L396.5,183.43 L396.75,183.53 L397,183.63 L397.25,183.73 L397.5,183.82 L397.75,183.92 L398,184.01 L398.25,184.11 L398.5,184.2 L398.75,184.29 L399,184.37 L399.25,184.46 L399.5,184.54 L399.75,184.62 L400,184.7 L400.25,184.77 L400.5,184.84 L400.75,184.91 L401,184.97 L401.25,185.03 L401.5,185.08 L401.75,185.13 L402,185.18 L402.25,185.23 L402.5,185.27 L402.75,185.31 L403,185.36 L403.25,185.4 L403.5,185.44 L403.75,185.49 L404,185.53 L404.25,185.57 L404.5,185.61 L404.75,185.65 L405,185.69 L405.25,185.72 L405.5,185.76 L405.75,185.8 L406,185.83 L406.25,185.87 L406.5,185.9 L406.75,185.94 L407,185.97 L407.25,186 L407.5,186.03 L407.75,186.06 L408,186.09 L408.25,186.12 L408.5,186.14 L408.75,186.17 L409,186.19 L409.25,186.22 L409.5,186.24 L409.75,186.26 L410,186.28 L410.25,186.3 L410.5,186.32 L410.75,186.33 L411,186.35 L411.25,186.36 L411.5,186.38 L411.75,186.39 L412,186.4 L412.25,186.41 L412.5,186.43 L412.75,186.44 L413,186.45 L413.25,186.46 L413.5,186.47 L413.75,186.49 L414,186.5 L414.25,186.51 L414.5,186.52 L414.75,186.53 L415,186.54 L415.25,186.55 L415.5,186.56 L415.75,186.58 L416,186.59 L416.25,186.6 L416.5,186.61 L416.75,186.62 L417,186.63 L417.25,186.64 L417.5,186.65 L417.75,186.66 L418,186.67 L418.25,186.68 L418.5,186.69 L418.75,186.7 L419,186.71 L419.25,186.72 L419.5,186.73 L419.75,186.74 L420,186.75 L420.25,186.76 L420.5,186.76 L420.75,186.77 L421,186.78 L421.25,186.79 L421.5,186.8 L421.75,186.81 L422,186.82 L422.25,186.82 L422.5,186.83 L422.75,186.84 L423,186.85 L423.25,186.86 L423.5,186.86 L423.75,186.87 L424,186.88 L424.25,186.89 L424.5,186.89 L424.75,186.9 L425,186.91 L425.25,186.91 L425.5,186.92 L425.75,186.93 L426,186.93 L426.25,186.94 L426.5,186.95 L426.75,186.95 L427,186.96 L427.25,186.96 L427.5,186.97 L427.75,186.97 L428,186.98 L428.25,186.98 L428.5,186.99 L428.75,186.99 L429,187 L429.25,187 L429.5,187.01 L429.75,187.01 L430,187.02 L430.25,187.02 L430.5,187.03 L430.75,187.03 L431,187.03 L431.25,187.04 L431.5,187.04 L431.75,187.04 L432,187.05 L432.25,187.05 L432.5,187.05 L432.75,187.06 L433,187.06 L433.25,187.06 L433.5,187.06 L433.75,187.07 L434,187.07 L434.25,187.07 L434.5,187.07 L434.75,187.07 L435,187.08 L435.25,187.08 L435.5,187.08 L435.75,187.08 L436,187.08 L436.25,187.08 L436.5,187.08 L436.75,187.08 L437,187.08 L437.25,187.08" fill="none" stroke="#111111" stroke-width="1.05" stroke-linejoin="round" />
<path d="M252.5,166.69 L252.75,166.66 L253,166.62 L253.25,166.59 L253.5,166.57 L253.75,166.54 L254,166.51 L254.25,166.49 L254.5,166.47 L254.75,166.44 L255,166.42 L255.25,166.4 L255.5,166.38 L255.75,166.37 L256,166.35 L256.25,166.33 L256.5,166.32 L256.75,166.31 L257,166.29 L257.25,166.28 L257.5,166.27 L257.75,166.26 L258,166.25 L258.25,166.24 L258.5,166.23 L258.75,166.22 L259,166.22 L259.25,166.21 L259.5,166.2 L259.75,166.2 L260,166.19 L260.25,166.19 L260.5,166.19 L260.75,166.18 L261,166.18 L261.25,166.18 L261.5,166.17 L261.75,166.17 L262,166.17 L262.25,166.17 L262.5,166.17 L262.75,166.17 L263,166.17 L263.25,166.17 L263.5,166.17 L263.75,166.16 L264,166.16 L264.25,166.16 L264.5,166.17 L264.75,166.18 L265,166.2 L265.25,166.23 L265.5,166.27 L265.75,166.31 L266,166.36 L266.25,166.42 L266.5,166.48 L266.75,166.55 L267,166.62 L267.25,166.69 L267.5,166.76 L267.75,166.84 L268,166.91 L268.25,166.99 L268.5,167.06 L268.75,167.14 L269,167.2 L269.25,167.27 L269.5,167.33 L269.75,167.38 L270,167.43 L270.25,167.46 L270.5,167.49 L270.75,167.51 L271,167.51 L271.25,167.5 L271.5,167.48 L271.75,167.44 L272,167.38 L272.25,167.31 L272.5,167.22 L272.75,167.11 L273,166.98 L273.25,166.85 L273.5,166.7 L273.75,166.54 L274,166.36 L274.25,166.18 L274.5,165.98 L274.75,165.78 L275,165.56 L275.25,165.34 L275.5,165.11 L275.75,164.87 L276,164.64 L276.25,164.4 L276.5,164.16 L276.75,163.93 L277,163.7 L277.25,163.47 L277.5,163.26 L277.75,163.05 L278,162.86 L278.25,162.69 L278.5,162.53 L278.75,162.39 L279,162.28 L279.25,162.18 L279.5,162.1 L279.75,162.05 L280,162.02 L280.25,162.01 L280.5,162.03 L280.75,162.07 L281,162.12 L281.25,162.2 L281.5,162.3 L281.75,162.41 L282,162.54 L282.25,162.69 L282.5,162.84 L282.75,163.01 L283,163.18 L283.25,163.36 L283.5,163.54 L283.75,163.73 L284,163.91 L284.25,164.09 L284.5,164.28 L284.75,164.45 L285,164.62 L285.25,164.79 L285.5,164.95 L285.75,165.1 L286,165.24 L286.25,165.38 L286.5,165.51 L286.75,165.63 L287,165.74 L287.25,165.85 L287.5,165.95 L287.75,166.05 L288,166.15 L288.25,166.24 L288.5,166.34 L288.75,166.42 L289,166.51 L289.25,166.59 L289.5,166.68 L289.75,166.76 L290,166.84 L290.25,166.92 L290.5,166.99 L290.75,167.07 L291,167.15 L291.25,167.22 L291.5,167.3 L291.75,167.37 L292,167.44 L292.25,167.51 L292.5,167.58 L292.75,167.65 L293,167.72 L293.25,167.79 L293.5,167.86 L293.75,167.92 L294,167.98 L294.25,168.04 L294.5,168.1 L294.75,168.15 L295,168.2 L295.25,168.25 L295.5,168.29 L295.75,168.33 L296,168.36 L296.25,168.4 L296.5,168.42 L296.75,168.44 L297,168.46 L297.25,168.47 L297.5,168.47 L297.75,168.47 L298,168.47 L298.25,168.46 L298.5,168.45 L298.75,168.45 L299,168.44 L299.25,168.42 L299.5,168.41 L299.75,168.4 L300,168.38 L300.25,168.36 L300.5,168.34 L300.75,168.33 L301,168.3 L301.25,168.28 L301.5,168.26 L301.75,168.24 L302,168.21 L302.25,168.19 L302.5,168.16 L302.75,168.13 L303,168.11 L303.25,168.08 L303.5,168.05 L303.75,168.02 L304,167.99 L304.25,167.96 L304.5,167.93 L304.75,167.9 L305,167.86 L305.25,167.83 L305.5,167.8 L305.75,167.77 L306,167.73 L306.25,167.7 L306.5,167.67 L306.75,167.64 L307,167.6 L307.25,167.57 L307.5,167.54 L307.75,167.51 L308,167.48 L308.25,167.45 L308.5,167.41 L308.75,167.38 L309,167.35 L309.25,167.32 L309.5,167.3 L309.75,167.27 L310,167.24 L310.25,167.21 L310.5,167.19 L310.75,167.16 L311,167.14 L311.25,167.11 L311.5,167.09 L311.75,167.07 L312,167.05 L312.25,167.02 L312.5,167 L312.75,166.98 L313,166.96 L313.25,166.93 L313.5,166.91 L313.75,166.89 L314,166.86 L314.25,166.83 L314.5,166.8 L314.75,166.77 L315,166.73 L315.25,166.67 L315.5,166.6 L315.75,166.49 L316,166.35 L316.25,166.16 L316.5,165.9 L316.75,165.56 L317,165.13 L317.25,164.6 L317.5,163.97 L317.75,163.26 L318,162.49 L318.25,161.71 L318.5,160.95 L318.75,160.28 L319,159.74 L319.25,159.39 L319.5,159.25 L319.75,159.32 L320,159.61 L320.25,160.08 L320.5,160.68 L320.75,161.37 L321,162.09 L321.25,162.79 L321.5,163.43 L321.75,163.98 L322,164.44 L322.25,164.8 L322.5,165.06 L322.75,165.24 L323,165.35 L323.25,165.4 L323.5,165.42 L323.75,165.4 L324,165.35 L324.25,165.29 L324.5,165.22 L324.75,165.13 L325,165.03 L325.25,164.92 L325.5,164.79 L325.75,164.65 L326,164.49 L326.25,164.31 L326.5,164.1 L326.75,163.84 L327,163.54 L327.25,163.17 L327.5,162.73 L327.75,162.18 L328,161.52 L328.25,160.7 L328.5,159.71 L328.75,158.5 L329,157.05 L329.25,155.3 L329.5,153.24 L329.75,150.81 L330,148 L330.25,144.78 L330.5,141.14 L330.75,137.08 L331,132.61 L331.25,127.79 L331.5,122.65 L331.75,117.29 L332,111.8 L332.25,106.32 L332.5,100.99 L332.75,95.98 L333,91.49 L333.25,87.71 L333.5,84.84 L333.75,83.05 L334,82.43 L334.25,83.03 L334.5,84.82 L334.75,87.67 L335,91.43 L335.25,95.91 L335.5,100.9 L335.75,106.22 L336,111.69 L336.25,117.17 L336.5,122.52 L336.75,127.65 L337,132.46 L337.25,136.92 L337.5,140.97 L337.75,144.61 L338,147.82 L338.25,150.63 L338.5,153.05 L338.75,155.11 L339,156.85 L339.25,158.31 L339.5,159.51 L339.75,160.5 L340,161.32 L340.25,161.98 L340.5,162.53 L340.75,162.99 L341,163.37 L341.25,163.69 L341.5,163.97 L341.75,164.2 L342,164.41 L342.25,164.6 L342.5,164.77 L342.75,164.93 L343,165.07 L343.25,165.21 L343.5,165.33 L343.75,165.45 L344,165.57 L344.25,165.67 L344.5,165.77 L344.75,165.87 L345,165.96 L345.25,166.04 L345.5,166.12 L345.75,166.19 L346,166.26 L346.25,166.33 L346.5,166.38 L346.75,166.44 L347,166.49 L347.25,166.54 L347.5,166.58 L347.75,166.61 L348,166.62 L348.25,166.63 L348.5,166.61 L348.75,166.58 L349,166.51 L349.25,166.41 L349.5,166.28 L349.75,166.11 L350,165.89 L350.25,165.65 L350.5,165.37 L350.75,165.07 L351,164.78 L351.25,164.49 L351.5,164.24 L351.75,164.03 L352,163.89 L352.25,163.83 L352.5,163.85 L352.75,163.95 L353,164.14 L353.25,164.38 L353.5,164.69 L353.75,165.03 L354,165.38 L354.25,165.73 L354.5,166.07 L354.75,166.39 L355,166.67 L355.25,166.91 L355.5,167.12 L355.75,167.29 L356,167.42 L356.25,167.53 L356.5,167.62 L356.75,167.69 L357,167.75 L357.25,167.79 L357.5,167.83 L357.75,167.87 L358,167.9 L358.25,167.93 L358.5,167.96 L358.75,167.99 L359,168.02 L359.25,168.05 L359.5,168.08 L359.75,168.11 L360,168.14 L360.25,168.17 L360.5,168.2 L360.75,168.23 L361,168.26 L361.25,168.29 L361.5,168.32 L361.75,168.35 L362,168.37 L362.25,168.4 L362.5,168.43 L362.75,168.46 L363,168.49 L363.25,168.51 L363.5,168.54 L363.75,168.56 L364,168.59 L364.25,168.61 L364.5,168.64 L364.75,168.66 L365,168.68 L365.25,168.7 L365.5,168.72 L365.75,168.74 L366,168.75 L366.25,168.77 L366.5,168.79 L366.75,168.8 L367,168.81 L367.25,168.82 L367.5,168.83 L367.75,168.84 L368,168.85 L368.25,168.85 L368.5,168.86 L368.75,168.86 L369,168.85 L369.25,168.82 L369.5,168.79 L369.75,168.74 L370,168.69 L370.25,168.62 L370.5,168.55 L370.75,168.47 L371,168.38 L371.25,168.29 L371.5,168.19 L371.75,168.08 L372,167.97 L372.25,167.85 L372.5,167.73 L372.75,167.61 L373,167.48 L373.25,167.35 L373.5,167.22 L373.75,167.09 L374,166.96 L374.25,166.83 L374.5,166.7 L374.75,166.57 L375,166.44 L375.25,166.32 L375.5,166.2 L375.75,166.08 L376,165.95 L376.25,165.82 L376.5,165.68 L376.75,165.52 L377,165.36 L377.25,165.19 L377.5,165.02 L377.75,164.83 L378,164.65 L378.25,164.46 L378.5,164.27 L378.75,164.08 L379,163.88 L379.25,163.69 L379.5,163.5 L379.75,163.31 L380,163.12 L380.25,162.94 L380.5,162.76 L380.75,162.59 L381,162.43 L381.25,162.27 L381.5,162.12 L381.75,161.98 L382,161.86 L382.25,161.74 L382.5,161.64 L382.75,161.55 L383,161.47 L383.25,161.41 L383.5,161.37 L383.75,161.34 L384,161.33 L384.25,161.34 L384.5,161.34 L384.75,161.36 L385,161.38 L385.25,161.4 L385.5,161.43 L385.75,161.46 L386,161.5 L386.25,161.54 L386.5,161.58 L386.75,161.62 L387,161.67 L387.25,161.72 L387.5,161.77 L387.75,161.83 L388,161.88 L388.25,161.94 L388.5,161.99 L388.75,162.05 L389,162.1 L389.25,162.16 L389.5,162.21 L389.75,162.27 L390,162.32 L390.25,162.37 L390.5,162.42 L390.75,162.47 L391,162.51 L391.25,162.56 L391.5,162.6 L391.75,162.64 L392,162.68 L392.25,162.72 L392.5,162.77 L392.75,162.81 L393,162.85 L393.25,162.9 L393.5,162.94 L393.75,162.98 L394,163.03 L394.25,163.07 L394.5,163.11 L394.75,163.16 L395,163.2 L395.25,163.24 L395.5,163.29 L395.75,163.33 L396,163.37 L396.25,163.42 L396.5,163.46 L396.75,163.5 L397,163.54 L397.25,163.58 L397.5,163.63 L397.75,163.67 L398,163.71 L398.25,163.75 L398.5,163.79 L398.75,163.83 L399,163.86 L399.25,163.9 L399.5,163.94 L399.75,163.98 L400,164.01 L400.25,164.05 L400.5,164.08 L400.75,164.12 L401,164.15 L401.25,164.18 L401.5,164.21 L401.75,164.24 L402,164.27 L402.25,164.31 L402.5,164.34 L402.75,164.37 L403,164.4 L403.25,164.43 L403.5,164.46 L403.75,164.5 L404,164.53 L404.25,164.56 L404.5,164.59 L404.75,164.63 L405,164.66 L405.25,164.69 L405.5,164.72 L405.75,164.75 L406,164.78 L406.25,164.81 L406.5,164.84 L406.75,164.87 L407,164.9 L407.25,164.92 L407.5,164.95 L407.75,164.97 L408,165 L408.25,165.02 L408.5,165.04 L408.75,165.06 L409,165.08 L409.25,165.1 L409.5,165.11 L409.75,165.13 L410,165.14 L410.25,165.15 L410.5,165.16 L410.75,165.16 L411,165.17 L411.25,165.17 L411.5,165.17 L411.75,165.17 L412,165.17 L412.25,165.17 L412.5,165.17 L412.75,165.17 L413,165.17 L413.25,165.17 L413.5,165.17 L413.75,165.17 L414,165.17 L414.25,165.17 L414.5,165.17 L414.75,165.17 L415,165.17 L415.25,165.17 L415.5,165.17 L415.75,165.17 L416,165.17 L416.25,165.17 L416.5,165.17 L416.75,165.17 L417,165.17 L417.25,165.17 L417.5,165.16 L417.75,165.16 L418,165.16 L418.25,165.16 L418.5,165.16 L418.75,165.16 L419,165.15 L419.25,165.15 L419.5,165.15 L419.75,165.15 L420,165.14 L420.25,165.14 L420.5,165.14 L420.75,165.14 L421,165.13 L421.25,165.13 L421.5,165.12 L421.75,165.12 L422,165.12 L422.25,165.11 L422.5,165.11 L422.75,165.1 L423,165.1 L423.25,165.09 L423.5,165.09 L423.75,165.08 L424,165.08 L424.25,165.07 L424.5,165.06 L424.75,165.06 L425,165.05 L425.25,165.04 L425.5,165.04 L425.75,165.03 L426,165.02 L426.25,165.01 L426.5,165 L426.75,164.99 L427,164.99 L427.25,164.98 L427.5,164.97 L427.75,164.96 L428,164.95 L428.25,164.94 L428.5,164.92 L428.75,164.91 L429,164.9 L429.25,164.89 L429.5,164.88 L429.75,164.86 L430,164.85 L430.25,164.84 L430.5,164.82 L430.75,164.81 L431,164.8 L431.25,164.78 L431.5,164.77 L431.75,164.75 L432,164.73 L432.25,164.72 L432.5,164.7 L432.75,164.68 L433,164.67 L433.25,164.65 L433.5,164.63 L433.75,164.61 L434,164.59 L434.25,164.57 L434.5,164.55 L434.75,164.53 L435,164.51 L435.25,164.49 L435.5,164.47 L435.75,164.44 L436,164.42 L436.25,164.4 L436.5,164.37 L436.75,164.35 L437,164.32 L437.25,164.3" fill="none" stroke="#4665c0" stroke-width="1.05" stroke-linejoin="round" />
<path d="M252.5,147.57 L252.75,147.57 L253,147.57 L253.25,147.57 L253.5,147.57 L253.75,147.57 L254,147.57 L254.25,147.57 L254.5,147.57 L254.75,147.57 L255,147.57 L255.25,147.57 L255.5,147.57 L255.75,147.57 L256,147.57 L256.25,147.57 L256.5,147.57 L256.75,147.57 L257,147.57 L257.25,147.57 L257.5,147.57 L257.75,147.57 L258,147.57 L258.25,147.57 L258.5,147.57 L258.75,147.57 L259,147.57 L259.25,147.57 L259.5,147.57 L259.75,147.57 L260,147.57 L260.25,147.57 L260.5,147.57 L260.75,147.57 L261,147.57 L261.25,147.57 L261.5,147.57 L261.75,147.57 L262,147.57 L262.25,147.57 L262.5,147.57 L262.75,147.57 L263,147.57 L263.25,147.56 L263.5,147.56 L263.75,147.56 L264,147.56 L264.25,147.56 L264.5,147.57 L264.75,147.58 L265,147.61 L265.25,147.65 L265.5,147.69 L265.75,147.75 L266,147.81 L266.25,147.89 L266.5,147.96 L266.75,148.05 L267,148.13 L267.25,148.23 L267.5,148.32 L267.75,148.42 L268,148.51 L268.25,148.61 L268.5,148.7 L268.75,148.79 L269,148.88 L269.25,148.96 L269.5,149.03 L269.75,149.1 L270,149.15 L270.25,149.2 L270.5,149.23 L270.75,149.25 L271,149.26 L271.25,149.25 L271.5,149.21 L271.75,149.16 L272,149.09 L272.25,149 L272.5,148.88 L272.75,148.74 L273,148.58 L273.25,148.41 L273.5,148.23 L273.75,148.03 L274,147.82 L274.25,147.59 L274.5,147.36 L274.75,147.11 L275,146.85 L275.25,146.58 L275.5,146.31 L275.75,146.03 L276,145.75 L276.25,145.47 L276.5,145.19 L276.75,144.92 L277,144.65 L277.25,144.39 L277.5,144.15 L277.75,143.92 L278,143.71 L278.25,143.52 L278.5,143.35 L278.75,143.2 L279,143.08 L279.25,142.99 L279.5,142.93 L279.75,142.89 L280,142.89 L280.25,142.91 L280.5,142.97 L280.75,143.05 L281,143.16 L281.25,143.29 L281.5,143.45 L281.75,143.63 L282,143.82 L282.25,144.04 L282.5,144.27 L282.75,144.51 L283,144.76 L283.25,145.01 L283.5,145.27 L283.75,145.53 L284,145.8 L284.25,146.05 L284.5,146.3 L284.75,146.55 L285,146.79 L285.25,147.02 L285.5,147.23 L285.75,147.44 L286,147.64 L286.25,147.82 L286.5,147.99 L286.75,148.15 L287,148.29 L287.25,148.43 L287.5,148.57 L287.75,148.7 L288,148.83 L288.25,148.96 L288.5,149.08 L288.75,149.2 L289,149.32 L289.25,149.44 L289.5,149.56 L289.75,149.68 L290,149.79 L290.25,149.91 L290.5,150.02 L290.75,150.13 L291,150.25 L291.25,150.36 L291.5,150.47 L291.75,150.58 L292,150.69 L292.25,150.8 L292.5,150.91 L292.75,151.01 L293,151.12 L293.25,151.22 L293.5,151.32 L293.75,151.42 L294,151.51 L294.25,151.6 L294.5,151.69 L294.75,151.77 L295,151.85 L295.25,151.92 L295.5,151.99 L295.75,152.05 L296,152.1 L296.25,152.15 L296.5,152.19 L296.75,152.22 L297,152.25 L297.25,152.26 L297.5,152.27 L297.75,152.27 L298,152.26 L298.25,152.26 L298.5,152.25 L298.75,152.24 L299,152.23 L299.25,152.21 L299.5,152.2 L299.75,152.18 L300,152.16 L300.25,152.14 L300.5,152.12 L300.75,152.1 L301,152.07 L301.25,152.05 L301.5,152.02 L301.75,151.99 L302,151.96 L302.25,151.93 L302.5,151.9 L302.75,151.86 L303,151.83 L303.25,151.79 L303.5,151.76 L303.75,151.72 L304,151.68 L304.25,151.64 L304.5,151.6 L304.75,151.56 L305,151.52 L305.25,151.48 L305.5,151.44 L305.75,151.39 L306,151.35 L306.25,151.31 L306.5,151.27 L306.75,151.22 L307,151.18 L307.25,151.13 L307.5,151.09 L307.75,151.05 L308,151 L308.25,150.96 L308.5,150.91 L308.75,150.87 L309,150.83 L309.25,150.78 L309.5,150.74 L309.75,150.7 L310,150.65 L310.25,150.61 L310.5,150.57 L310.75,150.53 L311,150.49 L311.25,150.45 L311.5,150.41 L311.75,150.37 L312,150.33 L312.25,150.3 L312.5,150.26 L312.75,150.22 L313,150.18 L313.25,150.14 L313.5,150.1 L313.75,150.05 L314,150.01 L314.25,149.96 L314.5,149.91 L314.75,149.86 L315,149.8 L315.25,149.72 L315.5,149.63 L315.75,149.5 L316,149.34 L316.25,149.13 L316.5,148.85 L316.75,148.49 L317,148.04 L317.25,147.49 L317.5,146.84 L317.75,146.11 L318,145.32 L318.25,144.51 L318.5,143.73 L318.75,143.04 L319,142.48 L319.25,142.11 L319.5,141.94 L319.75,142 L320,142.27 L320.25,142.71 L320.5,143.3 L320.75,143.96 L321,144.66 L321.25,145.34 L321.5,145.96 L321.75,146.49 L322,146.93 L322.25,147.27 L322.5,147.51 L322.75,147.67 L323,147.76 L323.25,147.79 L323.5,147.79 L323.75,147.75 L324,147.69 L324.25,147.61 L324.5,147.51 L324.75,147.41 L325,147.29 L325.25,147.16 L325.5,147.02 L325.75,146.87 L326,146.69 L326.25,146.49 L326.5,146.26 L326.75,145.98 L327,145.66 L327.25,145.28 L327.5,144.81 L327.75,144.25 L328,143.56 L328.25,142.73 L328.5,141.71 L328.75,140.47 L329,138.98 L329.25,137.21 L329.5,135.1 L329.75,132.64 L330,129.78 L330.25,126.51 L330.5,122.81 L330.75,118.68 L331,114.15 L331.25,109.26 L331.5,104.05 L331.75,98.61 L332,93.05 L332.25,87.49 L332.5,82.08 L332.75,77 L333,72.45 L333.25,68.62 L333.5,65.71 L333.75,63.88 L334,63.24 L334.25,63.84 L334.5,65.64 L334.75,68.52 L335,72.32 L335.25,76.84 L335.5,81.89 L335.75,87.26 L336,92.79 L336.25,98.33 L336.5,103.74 L336.75,108.92 L337,113.79 L337.25,118.29 L337.5,122.39 L337.75,126.06 L338,129.31 L338.25,132.15 L338.5,134.6 L338.75,136.68 L339,138.44 L339.25,139.91 L339.5,141.13 L339.75,142.13 L340,142.95 L340.25,143.63 L340.5,144.19 L340.75,144.66 L341,145.05 L341.25,145.39 L341.5,145.68 L341.75,145.94 L342,146.17 L342.25,146.38 L342.5,146.57 L342.75,146.75 L343,146.92 L343.25,147.08 L343.5,147.23 L343.75,147.37 L344,147.51 L344.25,147.63 L344.5,147.76 L344.75,147.87 L345,147.98 L345.25,148.09 L345.5,148.18 L345.75,148.27 L346,148.35 L346.25,148.42 L346.5,148.49 L346.75,148.56 L347,148.62 L347.25,148.67 L347.5,148.72 L347.75,148.76 L348,148.78 L348.25,148.79 L348.5,148.78 L348.75,148.74 L349,148.67 L349.25,148.56 L349.5,148.41 L349.75,148.21 L350,147.97 L350.25,147.69 L350.5,147.38 L350.75,147.04 L351,146.71 L351.25,146.38 L351.5,146.1 L351.75,145.87 L352,145.71 L352.25,145.64 L352.5,145.66 L352.75,145.78 L353,145.99 L353.25,146.28 L353.5,146.63 L353.75,147.02 L354,147.42 L354.25,147.83 L354.5,148.22 L354.75,148.58 L355,148.9 L355.25,149.18 L355.5,149.42 L355.75,149.61 L356,149.77 L356.25,149.9 L356.5,150 L356.75,150.07 L357,150.14 L357.25,150.19 L357.5,150.23 L357.75,150.27 L358,150.31 L358.25,150.34 L358.5,150.38 L358.75,150.41 L359,150.44 L359.25,150.47 L359.5,150.5 L359.75,150.53 L360,150.56 L360.25,150.59 L360.5,150.62 L360.75,150.65 L361,150.68 L361.25,150.71 L361.5,150.74 L361.75,150.77 L362,150.79 L362.25,150.82 L362.5,150.85 L362.75,150.88 L363,150.9 L363.25,150.93 L363.5,150.95 L363.75,150.98 L364,151 L364.25,151.02 L364.5,151.05 L364.75,151.07 L365,151.09 L365.25,151.11 L365.5,151.13 L365.75,151.14 L366,151.16 L366.25,151.17 L366.5,151.19 L366.75,151.2 L367,151.21 L367.25,151.22 L367.5,151.23 L367.75,151.24 L368,151.25 L368.25,151.25 L368.5,151.26 L368.75,151.25 L369,151.24 L369.25,151.22 L369.5,151.18 L369.75,151.13 L370,151.07 L370.25,151 L370.5,150.92 L370.75,150.83 L371,150.73 L371.25,150.62 L371.5,150.51 L371.75,150.39 L372,150.27 L372.25,150.14 L372.5,150 L372.75,149.87 L373,149.73 L373.25,149.58 L373.5,149.44 L373.75,149.29 L374,149.15 L374.25,149 L374.5,148.86 L374.75,148.72 L375,148.58 L375.25,148.44 L375.5,148.3 L375.75,148.17 L376,148.04 L376.25,147.89 L376.5,147.73 L376.75,147.56 L377,147.38 L377.25,147.19 L377.5,147 L377.75,146.8 L378,146.6 L378.25,146.39 L378.5,146.18 L378.75,145.96 L379,145.75 L379.25,145.54 L379.5,145.32 L379.75,145.12 L380,144.91 L380.25,144.71 L380.5,144.51 L380.75,144.32 L381,144.14 L381.25,143.97 L381.5,143.8 L381.75,143.65 L382,143.51 L382.25,143.38 L382.5,143.27 L382.75,143.17 L383,143.09 L383.25,143.02 L383.5,142.97 L383.75,142.94 L384,142.93 L384.25,142.93 L384.5,142.94 L384.75,142.94 L385,142.95 L385.25,142.96 L385.5,142.98 L385.75,142.99 L386,143.01 L386.25,143.03 L386.5,143.04 L386.75,143.07 L387,143.09 L387.25,143.11 L387.5,143.14 L387.75,143.16 L388,143.19 L388.25,143.21 L388.5,143.24 L388.75,143.27 L389,143.3 L389.25,143.33 L389.5,143.36 L389.75,143.38 L390,143.41 L390.25,143.44 L390.5,143.47 L390.75,143.5 L391,143.53 L391.25,143.55 L391.5,143.58 L391.75,143.61 L392,143.64 L392.25,143.67 L392.5,143.71 L392.75,143.74 L393,143.77 L393.25,143.81 L393.5,143.85 L393.75,143.89 L394,143.93 L394.25,143.97 L394.5,144.01 L394.75,144.05 L395,144.09 L395.25,144.13 L395.5,144.17 L395.75,144.22 L396,144.26 L396.25,144.3 L396.5,144.34 L396.75,144.39 L397,144.43 L397.25,144.47 L397.5,144.52 L397.75,144.56 L398,144.6 L398.25,144.64 L398.5,144.68 L398.75,144.73 L399,144.77 L399.25,144.8 L399.5,144.84 L399.75,144.88 L400,144.92 L400.25,144.95 L400.5,144.99 L400.75,145.02 L401,145.06 L401.25,145.09 L401.5,145.12 L401.75,145.15 L402,145.17 L402.25,145.2 L402.5,145.23 L402.75,145.26 L403,145.29 L403.25,145.31 L403.5,145.34 L403.75,145.37 L404,145.4 L404.25,145.43 L404.5,145.46 L404.75,145.49 L405,145.52 L405.25,145.54 L405.5,145.57 L405.75,145.6 L406,145.63 L406.25,145.65 L406.5,145.68 L406.75,145.7 L407,145.73 L407.25,145.75 L407.5,145.78 L407.75,145.8 L408,145.82 L408.25,145.84 L408.5,145.86 L408.75,145.87 L409,145.89 L409.25,145.91 L409.5,145.92 L409.75,145.93 L410,145.94 L410.25,145.95 L410.5,145.96 L410.75,145.96 L411,145.97 L411.25,145.97 L411.5,145.97 L411.75,145.97 L412,145.97 L412.25,145.97 L412.5,145.97 L412.75,145.97 L413,145.97 L413.25,145.97 L413.5,145.97 L413.75,145.97 L414,145.97 L414.25,145.97 L414.5,145.97 L414.75,145.97 L415,145.97 L415.25,145.97 L415.5,145.97 L415.75,145.97 L416,145.97 L416.25,145.97 L416.5,145.97 L416.75,145.97 L417,145.97 L417.25,145.97 L417.5,145.96 L417.75,145.96 L418,145.96 L418.25,145.96 L418.5,145.96 L418.75,145.96 L419,145.96 L419.25,145.95 L419.5,145.95 L419.75,145.95 L420,145.95 L420.25,145.95 L420.5,145.94 L420.75,145.94 L421,145.94 L421.25,145.93 L421.5,145.93 L421.75,145.93 L422,145.92 L422.25,145.92 L422.5,145.92 L422.75,145.91 L423,145.91 L423.25,145.9 L423.5,145.9 L423.75,145.89 L424,145.89 L424.25,145.88 L424.5,145.88 L424.75,145.87 L425,145.86 L425.25,145.86 L425.5,145.85 L425.75,145.84 L426,145.84 L426.25,145.83 L426.5,145.82 L426.75,145.82 L427,145.81 L427.25,145.8 L427.5,145.79 L427.75,145.78 L428,145.77 L428.25,145.76 L428.5,145.75 L428.75,145.74 L429,145.73 L429.25,145.72 L429.5,145.71 L429.75,145.7 L430,145.69 L430.25,145.68 L430.5,145.66 L430.75,145.65 L431,145.64 L431.25,145.63 L431.5,145.61 L431.75,145.6 L432,145.58 L432.25,145.57 L432.5,145.55 L432.75,145.54 L433,145.52 L433.25,145.51 L433.5,145.49 L433.75,145.47 L434,145.46 L434.25,145.44 L434.5,145.42 L434.75,145.4 L435,145.38 L435.25,145.37 L435.5,145.35 L435.75,145.33 L436,145.31 L436.25,145.28 L436.5,145.26 L436.75,145.24 L437,145.22 L437.25,145.2" fill="none" stroke="#23923f" stroke-width="1.05" stroke-linejoin="round" />
<path d="M252.5,128.57 L252.75,128.57 L253,128.57 L253.25,128.58 L253.5,128.58 L253.75,128.58 L254,128.59 L254.25,128.59 L254.5,128.6 L254.75,128.6 L255,128.61 L255.25,128.62 L255.5,128.62 L255.75,128.63 L256,128.64 L256.25,128.65 L256.5,128.66 L256.75,128.68 L257,128.69 L257.25,128.7 L257.5,128.71 L257.75,128.73 L258,128.74 L258.25,128.76 L258.5,128.77 L258.75,128.79 L259,128.81 L259.25,128.82 L259.5,128.84 L259.75,128.86 L260,128.88 L260.25,128.9 L260.5,128.92 L260.75,128.94 L261,128.96 L261.25,128.98 L261.5,129 L261.75,129.02 L262,129.04 L262.25,129.07 L262.5,129.09 L262.75,129.11 L263,129.14 L263.25,129.16 L263.5,129.18 L263.75,129.21 L264,129.23 L264.25,129.26 L264.5,129.29 L264.75,129.32 L265,129.37 L265.25,129.42 L265.5,129.48 L265.75,129.55 L266,129.62 L266.25,129.7 L266.5,129.79 L266.75,129.87 L267,129.96 L267.25,130.05 L267.5,130.14 L267.75,130.23 L268,130.32 L268.25,130.41 L268.5,130.5 L268.75,130.58 L269,130.66 L269.25,130.73 L269.5,130.79 L269.75,130.85 L270,130.89 L270.25,130.93 L270.5,130.95 L270.75,130.96 L271,130.95 L271.25,130.92 L271.5,130.88 L271.75,130.82 L272,130.74 L272.25,130.63 L272.5,130.5 L272.75,130.35 L273,130.18 L273.25,130 L273.5,129.81 L273.75,129.6 L274,129.38 L274.25,129.14 L274.5,128.89 L274.75,128.63 L275,128.36 L275.25,128.09 L275.5,127.8 L275.75,127.51 L276,127.22 L276.25,126.93 L276.5,126.64 L276.75,126.36 L277,126.08 L277.25,125.82 L277.5,125.57 L277.75,125.33 L278,125.12 L278.25,124.93 L278.5,124.76 L278.75,124.62 L279,124.5 L279.25,124.42 L279.5,124.37 L279.75,124.34 L280,124.35 L280.25,124.39 L280.5,124.46 L280.75,124.56 L281,124.69 L281.25,124.85 L281.5,125.03 L281.75,125.24 L282,125.46 L282.25,125.71 L282.5,125.96 L282.75,126.23 L283,126.51 L283.25,126.8 L283.5,127.09 L283.75,127.38 L284,127.67 L284.25,127.95 L284.5,128.23 L284.75,128.5 L285,128.77 L285.25,129.02 L285.5,129.26 L285.75,129.48 L286,129.7 L286.25,129.9 L286.5,130.08 L286.75,130.25 L287,130.41 L287.25,130.56 L287.5,130.7 L287.75,130.83 L288,130.97 L288.25,131.09 L288.5,131.21 L288.75,131.33 L289,131.44 L289.25,131.55 L289.5,131.66 L289.75,131.76 L290,131.86 L290.25,131.96 L290.5,132.06 L290.75,132.15 L291,132.25 L291.25,132.34 L291.5,132.43 L291.75,132.52 L292,132.61 L292.25,132.7 L292.5,132.79 L292.75,132.87 L293,132.96 L293.25,133.04 L293.5,133.12 L293.75,133.2 L294,133.27 L294.25,133.34 L294.5,133.41 L294.75,133.48 L295,133.54 L295.25,133.6 L295.5,133.65 L295.75,133.7 L296,133.74 L296.25,133.78 L296.5,133.81 L296.75,133.83 L297,133.85 L297.25,133.87 L297.5,133.87 L297.75,133.87 L298,133.87 L298.25,133.86 L298.5,133.86 L298.75,133.85 L299,133.85 L299.25,133.84 L299.5,133.83 L299.75,133.82 L300,133.81 L300.25,133.8 L300.5,133.79 L300.75,133.77 L301,133.76 L301.25,133.75 L301.5,133.73 L301.75,133.72 L302,133.7 L302.25,133.68 L302.5,133.66 L302.75,133.65 L303,133.63 L303.25,133.61 L303.5,133.59 L303.75,133.56 L304,133.54 L304.25,133.52 L304.5,133.5 L304.75,133.47 L305,133.45 L305.25,133.43 L305.5,133.4 L305.75,133.38 L306,133.35 L306.25,133.33 L306.5,133.3 L306.75,133.27 L307,133.24 L307.25,133.22 L307.5,133.19 L307.75,133.16 L308,133.13 L308.25,133.1 L308.5,133.07 L308.75,133.04 L309,133.01 L309.25,132.98 L309.5,132.95 L309.75,132.92 L310,132.89 L310.25,132.86 L310.5,132.83 L310.75,132.8 L311,132.77 L311.25,132.74 L311.5,132.7 L311.75,132.67 L312,132.64 L312.25,132.61 L312.5,132.57 L312.75,132.53 L313,132.49 L313.25,132.45 L313.5,132.41 L313.75,132.36 L314,132.31 L314.25,132.26 L314.5,132.21 L314.75,132.16 L315,132.1 L315.25,132.03 L315.5,131.96 L315.75,131.87 L316,131.77 L316.25,131.63 L316.5,131.45 L316.75,131.23 L317,130.94 L317.25,130.58 L317.5,130.15 L317.75,129.64 L318,129.09 L318.25,128.5 L318.5,127.93 L318.75,127.4 L319,126.97 L319.25,126.66 L319.5,126.52 L319.75,126.54 L320,126.71 L320.25,127.01 L320.5,127.41 L320.75,127.86 L321,128.32 L321.25,128.74 L321.5,129.12 L321.75,129.42 L322,129.66 L322.25,129.82 L322.5,129.91 L322.75,129.95 L323,129.96 L323.25,129.93 L323.5,129.88 L323.75,129.81 L324,129.73 L324.25,129.64 L324.5,129.54 L324.75,129.43 L325,129.31 L325.25,129.18 L325.5,129.04 L325.75,128.89 L326,128.71 L326.25,128.52 L326.5,128.29 L326.75,128.02 L327,127.7 L327.25,127.32 L327.5,126.86 L327.75,126.3 L328,125.63 L328.25,124.8 L328.5,123.79 L328.75,122.57 L329,121.1 L329.25,119.35 L329.5,117.27 L329.75,114.83 L330,112 L330.25,108.77 L330.5,105.11 L330.75,101.04 L331,96.56 L331.25,91.72 L331.5,86.57 L331.75,81.2 L332,75.7 L332.25,70.2 L332.5,64.86 L332.75,59.84 L333,55.34 L333.25,51.56 L333.5,48.68 L333.75,46.87 L334,46.24 L334.25,46.84 L334.5,48.61 L334.75,51.46 L335,55.21 L335.25,59.68 L335.5,64.67 L335.75,69.98 L336,75.45 L336.25,80.92 L336.5,86.26 L336.75,91.38 L337,96.19 L337.25,100.64 L337.5,104.69 L337.75,108.33 L338,111.54 L338.25,114.34 L338.5,116.76 L338.75,118.82 L339,120.56 L339.25,122.01 L339.5,123.21 L339.75,124.2 L340,125.02 L340.25,125.68 L340.5,126.23 L340.75,126.67 L341,127.04 L341.25,127.34 L341.5,127.6 L341.75,127.81 L342,127.99 L342.25,128.15 L342.5,128.3 L342.75,128.42 L343,128.53 L343.25,128.63 L343.5,128.73 L343.75,128.81 L344,128.89 L344.25,128.97 L344.5,129.03 L344.75,129.1 L345,129.16 L345.25,129.21 L345.5,129.27 L345.75,129.32 L346,129.36 L346.25,129.41 L346.5,129.45 L346.75,129.49 L347,129.53 L347.25,129.56 L347.5,129.59 L347.75,129.61 L348,129.61 L348.25,129.6 L348.5,129.56 L348.75,129.48 L349,129.36 L349.25,129.2 L349.5,128.98 L349.75,128.7 L350,128.37 L350.25,127.98 L350.5,127.54 L350.75,127.09 L351,126.62 L351.25,126.18 L351.5,125.79 L351.75,125.48 L352,125.27 L352.25,125.19 L352.5,125.23 L352.75,125.41 L353,125.71 L353.25,126.12 L353.5,126.61 L353.75,127.16 L354,127.73 L354.25,128.31 L354.5,128.86 L354.75,129.37 L355,129.83 L355.25,130.23 L355.5,130.57 L355.75,130.85 L356,131.09 L356.25,131.27 L356.5,131.42 L356.75,131.55 L357,131.65 L357.25,131.74 L357.5,131.83 L357.75,131.91 L358,131.99 L358.25,132.07 L358.5,132.15 L358.75,132.24 L359,132.32 L359.25,132.4 L359.5,132.49 L359.75,132.57 L360,132.66 L360.25,132.75 L360.5,132.83 L360.75,132.92 L361,133 L361.25,133.08 L361.5,133.16 L361.75,133.24 L362,133.31 L362.25,133.38 L362.5,133.45 L362.75,133.51 L363,133.57 L363.25,133.62 L363.5,133.67 L363.75,133.71 L364,133.75 L364.25,133.78 L364.5,133.8 L364.75,133.82 L365,133.82 L365.25,133.82 L365.5,133.82 L365.75,133.82 L366,133.81 L366.25,133.8 L366.5,133.79 L366.75,133.77 L367,133.75 L367.25,133.73 L367.5,133.71 L367.75,133.68 L368,133.65 L368.25,133.62 L368.5,133.59 L368.75,133.56 L369,133.52 L369.25,133.49 L369.5,133.45 L369.75,133.41 L370,133.37 L370.25,133.31 L370.5,133.24 L370.75,133.13 L371,133.01 L371.25,132.87 L371.5,132.71 L371.75,132.54 L372,132.35 L372.25,132.15 L372.5,131.94 L372.75,131.72 L373,131.49 L373.25,131.26 L373.5,131.03 L373.75,130.79 L374,130.56 L374.25,130.33 L374.5,130.1 L374.75,129.87 L375,129.66 L375.25,129.45 L375.5,129.25 L375.75,129.07 L376,128.9 L376.25,128.74 L376.5,128.57 L376.75,128.4 L377,128.22 L377.25,128.04 L377.5,127.85 L377.75,127.67 L378,127.48 L378.25,127.29 L378.5,127.11 L378.75,126.92 L379,126.73 L379.25,126.55 L379.5,126.37 L379.75,126.19 L380,126.02 L380.25,125.86 L380.5,125.69 L380.75,125.54 L381,125.39 L381.25,125.25 L381.5,125.12 L381.75,125 L382,124.89 L382.25,124.78 L382.5,124.69 L382.75,124.62 L383,124.55 L383.25,124.5 L383.5,124.46 L383.75,124.44 L384,124.43 L384.25,124.43 L384.5,124.43 L384.75,124.43 L385,124.43 L385.25,124.43 L385.5,124.44 L385.75,124.44 L386,124.44 L386.25,124.44 L386.5,124.44 L386.75,124.44 L387,124.44 L387.25,124.44 L387.5,124.44 L387.75,124.44 L388,124.44 L388.25,124.44 L388.5,124.44 L388.75,124.44 L389,124.44 L389.25,124.44 L389.5,124.44 L389.75,124.44 L390,124.45 L390.25,124.45 L390.5,124.45 L390.75,124.45 L391,124.45 L391.25,124.45 L391.5,124.46 L391.75,124.47 L392,124.48 L392.25,124.5 L392.5,124.52 L392.75,124.54 L393,124.57 L393.25,124.6 L393.5,124.63 L393.75,124.67 L394,124.7 L394.25,124.74 L394.5,124.78 L394.75,124.83 L395,124.87 L395.25,124.92 L395.5,124.97 L395.75,125.02 L396,125.07 L396.25,125.12 L396.5,125.17 L396.75,125.22 L397,125.27 L397.25,125.33 L397.5,125.38 L397.75,125.43 L398,125.49 L398.25,125.54 L398.5,125.59 L398.75,125.64 L399,125.69 L399.25,125.74 L399.5,125.79 L399.75,125.83 L400,125.88 L400.25,125.92 L400.5,125.96 L400.75,126 L401,126.04 L401.25,126.07 L401.5,126.11 L401.75,126.14 L402,126.16 L402.25,126.19 L402.5,126.21 L402.75,126.24 L403,126.27 L403.25,126.29 L403.5,126.32 L403.75,126.34 L404,126.37 L404.25,126.4 L404.5,126.42 L404.75,126.45 L405,126.47 L405.25,126.5 L405.5,126.52 L405.75,126.55 L406,126.57 L406.25,126.59 L406.5,126.62 L406.75,126.64 L407,126.66 L407.25,126.68 L407.5,126.7 L407.75,126.72 L408,126.74 L408.25,126.76 L408.5,126.77 L408.75,126.79 L409,126.8 L409.25,126.81 L409.5,126.83 L409.75,126.84 L410,126.85 L410.25,126.85 L410.5,126.86 L410.75,126.87 L411,126.87 L411.25,126.87 L411.5,126.87 L411.75,126.87 L412,126.87 L412.25,126.87 L412.5,126.87 L412.75,126.87 L413,126.87 L413.25,126.87 L413.5,126.87 L413.75,126.87 L414,126.87 L414.25,126.87 L414.5,126.87 L414.75,126.87 L415,126.87 L415.25,126.87 L415.5,126.87 L415.75,126.87 L416,126.87 L416.25,126.87 L416.5,126.87 L416.75,126.87 L417,126.87 L417.25,126.87 L417.5,126.87 L417.75,126.87 L418,126.86 L418.25,126.86 L418.5,126.86 L418.75,126.86 L419,126.86 L419.25,126.86 L419.5,126.86 L419.75,126.85 L420,126.85 L420.25,126.85 L420.5,126.85 L420.75,126.84 L421,126.84 L421.25,126.84 L421.5,126.84 L421.75,126.83 L422,126.83 L422.25,126.83 L422.5,126.82 L422.75,126.82 L423,126.82 L423.25,126.81 L423.5,126.81 L423.75,126.8 L424,126.8 L424.25,126.79 L424.5,126.79 L424.75,126.78 L425,126.78 L425.25,126.77 L425.5,126.77 L425.75,126.76 L426,126.76 L426.25,126.75 L426.5,126.74 L426.75,126.74 L427,126.73 L427.25,126.72 L427.5,126.71 L427.75,126.71 L428,126.7 L428.25,126.69 L428.5,126.68 L428.75,126.67 L429,126.66 L429.25,126.65 L429.5,126.65 L429.75,126.64 L430,126.63 L430.25,126.61 L430.5,126.6 L430.75,126.59 L431,126.58 L431.25,126.57 L431.5,126.56 L431.75,126.55 L432,126.53 L432.25,126.52 L432.5,126.51 L432.75,126.49 L433,126.48 L433.25,126.47 L433.5,126.45 L433.75,126.44 L434,126.42 L434.25,126.41 L434.5,126.39 L434.75,126.38 L435,126.36 L435.25,126.34 L435.5,126.33 L435.75,126.31 L436,126.29 L436.25,126.27 L436.5,126.25 L436.75,126.23 L437,126.22 L437.25,126.2" fill="none" stroke="#ec2a30" stroke-width="1.05" stroke-linejoin="round" />
<rect x="252.5" y="11.5" width="184.9" height="184.7" fill="none" stroke="#3a3a3a" stroke-width="1.0"/>
<line x1="252.5" y1="196.2" x2="252.5" y2="192.4" stroke="#3a3a3a" stroke-width="0.9" />
<text transform="translate(252,209.7) scale(1,1.0)" font-size="9.5" text-anchor="middle" fill="#222" >200</text>
<line x1="289.48" y1="196.2" x2="289.48" y2="192.4" stroke="#3a3a3a" stroke-width="0.9" />
<text transform="translate(288.98,209.7) scale(1,1.0)" font-size="9.5" text-anchor="middle" fill="#222" >300</text>
<line x1="326.46" y1="196.2" x2="326.46" y2="192.4" stroke="#3a3a3a" stroke-width="0.9" />
<text transform="translate(325.96,209.7) scale(1,1.0)" font-size="9.5" text-anchor="middle" fill="#222" >400</text>
<line x1="363.44" y1="196.2" x2="363.44" y2="192.4" stroke="#3a3a3a" stroke-width="0.9" />
<text transform="translate(362.94,209.7) scale(1,1.0)" font-size="9.5" text-anchor="middle" fill="#222" >500</text>
<line x1="400.42" y1="196.2" x2="400.42" y2="192.4" stroke="#3a3a3a" stroke-width="0.9" />
<text transform="translate(399.92,209.7) scale(1,1.0)" font-size="9.5" text-anchor="middle" fill="#222" >600</text>
<line x1="437.4" y1="196.2" x2="437.4" y2="192.4" stroke="#3a3a3a" stroke-width="0.9" />
<text transform="translate(436.9,209.7) scale(1,1.0)" font-size="9.5" text-anchor="middle" fill="#222" >700</text>
<text transform="translate(348.5,224.8) scale(1,1.0)" font-size="9.5" text-anchor="middle" fill="#222" >Raman Shift (cm<tspan font-size="5.6" dy="-3.4">–1</tspan><tspan dy="3.4">)</tspan></text>
<text transform="translate(243.7,106.4) rotate(-90) scale(1.08,1)" font-size="9.45" text-anchor="middle" fill="#222" >Intensity (a.u.)</text>
<text transform="translate(435.2,23.8) scale(1,1.0)" font-size="9.5" text-anchor="end" fill="#333" ><tspan>Na</tspan><tspan font-size="5.8" dy="2.8">3</tspan><tspan dy="-2.8">PS</tspan><tspan font-size="5.8" dy="2.8" font-style="italic">4–x</tspan><tspan dy="-2.8">O</tspan><tspan font-size="5.8" dy="2.8" font-style="italic">x</tspan></text>
<text transform="translate(436.2,123.3) scale(1,1.0)" font-size="9.5" text-anchor="end" fill="#ec2a30" ><tspan font-style="italic">x</tspan> = 0.60</text>
<text transform="translate(436.2,142.9) scale(1,1.0)" font-size="9.5" text-anchor="end" fill="#23923f" ><tspan font-style="italic">x</tspan> = 0.30</text>
<text transform="translate(436.2,161.4) scale(1,1.0)" font-size="9.5" text-anchor="end" fill="#4665c0" ><tspan font-style="italic">x</tspan> = 0.15</text>
<text transform="translate(436.2,182.9) scale(1,1.0)" font-size="9.5" text-anchor="end" fill="#111111" ><tspan font-style="italic">x</tspan> = 0.00</text>
<text transform="translate(280.3,118.1) scale(1,1.0)" font-size="9.5" text-anchor="middle" fill="#222" >PS<tspan font-size="5.8" dy="2.8">4</tspan><tspan dy="-2.8"></tspan></text>
<text transform="translate(316.3,118.1) scale(1,1.0)" font-size="9.5" text-anchor="middle" fill="#222" >P<tspan font-size="5.8" dy="2.8">2</tspan><tspan dy="-2.8">S</tspan><tspan font-size="5.8" dy="2.8">6</tspan><tspan dy="-2.8"></tspan></text>
<text transform="translate(334.5,40.8) scale(1,1.0)" font-size="9.5" text-anchor="middle" fill="#222" >PS<tspan font-size="5.8" dy="2.8">4</tspan><tspan dy="-2.8"></tspan></text>
<text transform="translate(355.8,123.3) scale(1,1.0)" font-size="9.5" text-anchor="middle" fill="#222" >–S–S–</text>
<text transform="translate(375.2,107.1) scale(1,1.0)" font-size="9.5" text-anchor="middle" fill="#222" >PS<tspan font-size="5.8" dy="2.8">4</tspan><tspan dy="-2.8"></tspan></text>
<text transform="translate(401,107.1) scale(1,1.0)" font-size="9.5" text-anchor="middle" fill="#222" >PO<tspan font-size="5.8" dy="2.8">4</tspan><tspan dy="-2.8"></tspan></text>
<line x1="378" y1="109.5" x2="382.2" y2="121.5" stroke="#222" stroke-width="0.8" />
<path d="M383,124 L380.4,120.2 L383.6,119.6 Z" fill="#222"/>
<line x1="397.1" y1="109.5" x2="393.2" y2="121.5" stroke="#222" stroke-width="0.8" />
<path d="M392.4,124 L391.9,119.6 L395,120.4 Z" fill="#222"/>
<path d="M480.9,182.77 L481.4,182.78 L481.9,182.35 L482.4,182.26 L482.9,182.2 L483.4,182.39 L483.9,182.34 L484.4,182.36 L484.9,182.3 L485.4,182.2 L485.9,182.29 L486.4,182.43 L486.9,182.76 L487.4,182.64 L487.9,182.46 L488.4,182.17 L488.9,181.96 L489.4,182.09 L489.9,182 L490.4,182.01 L490.9,181.84 L491.4,182.1 L491.9,182.24 L492.4,182.1 L492.9,181.81 L493.4,181.82 L493.9,181.88 L494.4,181.84 L494.9,181.7 L495.4,181.75 L495.9,182.01 L496.4,181.81 L496.9,181.56 L497.4,181.13 L497.9,180.88 L498.4,180.72 L498.9,180.58 L499.4,180.86 L499.9,180.83 L500.4,180.64 L500.9,180.47 L501.4,180.34 L501.9,180.22 L502.4,179.98 L502.9,179.86 L503.4,179.87 L503.9,179.84 L504.4,179.5 L504.9,179.34 L505.4,179.12 L505.9,178.99 L506.4,178.46 L506.9,177.56 L507.4,176.47 L507.9,174.82 L508.4,173.21 L508.9,171.15 L509.4,169.57 L509.9,167.79 L510.4,166.99 L510.9,166.53 L511.4,166.57 L511.9,167.06 L512.4,167.72 L512.9,169.07 L513.4,170.45 L513.9,172.09 L514.4,173.77 L514.9,175.48 L515.4,176.78 L515.9,177.87 L516.4,178.4 L516.9,179.28 L517.4,179.58 L517.9,179.87 L518.4,179.8 L518.9,179.74 L519.4,179.39 L519.9,179.29 L520.4,178.83 L520.9,178.65 L521.4,178.03 L521.9,177.33 L522.4,176.22 L522.9,174.7 L523.4,172.54 L523.9,169.27 L524.4,164.54 L524.9,158.88 L525.4,151.94 L525.9,143.84 L526.4,134.24 L526.9,123.91 L527.4,113.26 L527.9,103.35 L528.4,95.04 L528.9,89.4 L529.4,87.38 L529.9,89.51 L530.4,95.26 L530.9,103.41 L531.4,113.03 L531.9,123.46 L532.4,133.93 L532.9,143.21 L533.4,151.02 L533.9,157.24 L534.4,162.3 L534.9,166.11 L535.4,168.81 L535.9,170.64 L536.4,171.99 L536.9,173.29 L537.4,174.24 L537.9,175.28 L538.4,176.19 L538.9,177.15 L539.4,177.75 L539.9,178.45 L540.4,178.84 L540.9,179.4 L541.4,179.47 L541.9,179.58 L542.4,179.72 L542.9,179.95 L543.4,180.22 L543.9,180.28 L544.4,180.21 L544.9,180.15 L545.4,180.11 L545.9,180.41 L546.4,180.59 L546.9,180.54 L547.4,180.36 L547.9,180.2 L548.4,180.18 L548.9,180.19 L549.4,180.16 L549.9,179.99 L550.4,179.76 L550.9,179.8 L551.4,179.98 L551.9,180.2 L552.4,180.08 L552.9,180.13 L553.4,180.01 L553.9,180.06 L554.4,180.06 L554.9,180.05 L555.4,179.96 L555.9,179.99 L556.4,179.79 L556.9,179.9 L557.4,179.77 L557.9,179.96 L558.4,179.87 L558.9,179.87 L559.4,179.8 L559.9,180 L560.4,179.91 L560.9,179.93 L561.4,179.78 L561.9,179.72 L562.4,180.03 L562.9,180.04 L563.4,180.02 L563.9,179.87 L564.4,179.74 L564.9,179.95 L565.4,179.87 L565.9,179.9 L566.4,179.78 L566.9,179.57 L567.4,179.58 L567.9,179.37 L568.4,179.2 L568.9,179.09 L569.4,179.28 L569.9,179.36 L570.4,179.43 L570.9,179.24 L571.4,178.96 L571.9,178.62 L572.4,178.19 L572.9,178.07 L573.4,177.93 L573.9,178.2 L574.4,178.44 L574.9,178.58 L575.4,178.61 L575.9,178.51 L576.4,178.73 L576.9,179 L577.4,179.41 L577.9,179.5 L578.4,179.86 L578.9,180.09 L579.4,180.29 L579.9,180.11 L580.4,180.03 L580.9,180.14 L581.4,180.27 L581.9,180.43 L582.4,180.56 L582.9,180.77 L583.4,180.9 L583.9,180.85 L584.4,180.78 L584.9,180.65 L585.4,180.63 L585.9,180.85 L586.4,180.88 L586.9,181.21 L587.4,180.98 L587.9,181.09 L588.4,181.01 L588.9,181.07 L589.4,181.11 L589.9,180.96 L590.4,180.91 L590.9,180.85 L591.4,180.81 L591.9,181.07 L592.4,181.07 L592.9,181.36 L593.4,180.86 L593.9,180.89 L594.4,180.76 L594.9,181.04 L595.4,181.18 L595.9,181.19 L596.4,181.2 L596.9,181.13 L597.4,181.39 L597.9,181.45 L598.4,181.44 L598.9,181.07 L599.4,181.06 L599.9,180.88 L600.4,180.91 L600.9,181.19 L601.4,181.47 L601.9,181.57 L602.4,181.42 L602.9,181.52 L603.4,181.52 L603.9,181.63 L604.4,181.54 L604.9,181.5 L605.4,181.46 L605.9,181.06 L606.4,180.98 L606.9,180.82 L607.4,180.99 L607.9,181.04 L608.4,180.94 L608.9,180.97 L609.4,181.31 L609.9,181.46 L610.4,181.53 L610.9,181.37 L611.4,181.27 L611.9,181.38 L612.4,181.27 L612.9,181.49 L613.4,181.23 L613.9,181.28 L614.4,181.1 L614.9,181.13 L615.4,181.17 L615.9,181.06 L616.4,181.38 L616.9,181.32 L617.4,181.5 L617.9,181.32 L618.4,181.37 L618.9,181.07 L619.4,181.07 L619.9,180.89 L620.4,181.14 L620.9,181.13 L621.4,181.27 L621.9,181.14 L622.4,181.36 L622.9,181.56 L623.4,181.64 L623.9,181.42 L624.4,181.18 L624.9,181.36 L625.4,181.58 L625.9,181.41 L626.4,181.19 L626.9,180.84 L627.4,180.85 L627.9,180.73 L628.4,180.9 L628.9,180.89 L629.4,181.26 L629.9,181.33 L630.4,181.34 L630.9,181.05 L631.4,180.87 L631.9,181.15 L632.4,181.17 L632.9,181.07 L633.4,180.9 L633.9,181.04 L634.4,181.14 L634.9,181.34 L635.4,181.32 L635.9,181.45 L636.4,181.16 L636.9,181.13 L637.4,181.06 L637.9,180.89 L638.4,180.93 L638.9,180.74 L639.4,181 L639.9,180.8 L640.4,181.24 L640.9,181.28 L641.4,181.56 L641.9,181.43 L642.4,181.24 L642.9,180.87 L643.4,180.72 L643.9,180.98 L644.4,181.26 L644.9,181.39 L645.4,181.4 L645.9,181.21 L646.4,181.15 L646.9,181.27 L647.4,181.38 L647.9,181.11 L648.4,180.85 L648.9,180.87 L649.4,181.15 L649.9,181.08 L650.4,181.14 L650.9,180.83 L651.4,181.04 L651.9,181.21 L652.4,181.62 L652.9,181.35 L653.4,181.2 L653.9,180.7 L654.4,180.91 L654.9,180.86 L655.4,181.1 L655.9,181.1 L656.4,181.13 L656.9,181.35 L657.4,181.33 L657.9,181.34 L658.4,181 L658.9,180.85 L659.4,180.77 L659.9,181.03 L660.4,181.17 L660.9,181.4 L661.4,181.26 L661.9,181.23 L662.4,181.09 L662.9,181.16 L663.4,181.25 L663.9,181.15 L664.4,181.35 L664.9,181.25 L665.4,181.45 L665.9,181.28 L666.4,181.49 L666.9,181.2 L667.4,181.26 L667.9,181.09" fill="none" stroke="#111111" stroke-width="0.9" stroke-linejoin="round" />
<path d="M480.9,160.38 L481.4,160.52 L481.9,160.43 L482.4,160.24 L482.9,159.98 L483.4,160.14 L483.9,160.07 L484.4,160.19 L484.9,160 L485.4,160.08 L485.9,160.01 L486.4,160.2 L486.9,160.25 L487.4,160.23 L487.9,160.17 L488.4,160.2 L488.9,159.93 L489.4,159.87 L489.9,159.9 L490.4,160.33 L490.9,160.61 L491.4,160.66 L491.9,160.53 L492.4,160.16 L492.9,160.08 L493.4,160.15 L493.9,160.39 L494.4,160.26 L494.9,160.18 L495.4,160.12 L495.9,160.42 L496.4,160.4 L496.9,160.21 L497.4,159.89 L497.9,159.79 L498.4,159.74 L498.9,159.89 L499.4,160.03 L499.9,160.16 L500.4,160.17 L500.9,159.96 L501.4,159.89 L501.9,159.68 L502.4,159.71 L502.9,159.78 L503.4,159.79 L503.9,159.52 L504.4,159.28 L504.9,159.11 L505.4,159.01 L505.9,158.74 L506.4,158.64 L506.9,158.61 L507.4,158.14 L507.9,157.52 L508.4,156.75 L508.9,155.91 L509.4,155.05 L509.9,154.24 L510.4,153.9 L510.9,153.43 L511.4,153.35 L511.9,153.67 L512.4,154.44 L512.9,155.3 L513.4,155.84 L513.9,156.63 L514.4,157.18 L514.9,157.65 L515.4,158 L515.9,158.24 L516.4,158.69 L516.9,158.73 L517.4,158.95 L517.9,158.9 L518.4,158.8 L518.9,158.65 L519.4,158.47 L519.9,158.22 L520.4,157.95 L520.9,157.46 L521.4,156.85 L521.9,155.81 L522.4,154.5 L522.9,152.79 L523.4,150.63 L523.9,147.29 L524.4,142.77 L524.9,136.43 L525.4,128.95 L525.9,120.1 L526.4,109.99 L526.9,98.75 L527.4,87.1 L527.9,76.11 L528.4,67.1 L528.9,60.93 L529.4,58.75 L529.9,60.94 L530.4,67.04 L530.9,76.04 L531.4,86.56 L531.9,97.51 L532.4,108.3 L532.9,118.06 L533.4,126.75 L533.9,133.64 L534.4,139.09 L534.9,142.82 L535.4,145.31 L535.9,147.33 L536.4,149.01 L536.9,150.29 L537.4,151.3 L537.9,152.37 L538.4,153.46 L538.9,154.63 L539.4,155.34 L539.9,156.11 L540.4,156.7 L540.9,157.28 L541.4,157.72 L541.9,157.95 L542.4,157.91 L542.9,158.37 L543.4,158.31 L543.9,158.69 L544.4,158.54 L544.9,158.79 L545.4,158.96 L545.9,159 L546.4,159.13 L546.9,159.08 L547.4,159.19 L547.9,159.15 L548.4,159.15 L548.9,159.22 L549.4,159.43 L549.9,159.61 L550.4,159.91 L550.9,159.92 L551.4,159.88 L551.9,159.58 L552.4,159.51 L552.9,159.71 L553.4,159.98 L553.9,160.01 L554.4,160.13 L554.9,159.96 L555.4,159.93 L555.9,159.84 L556.4,160.32 L556.9,160.52 L557.4,160.39 L557.9,160.21 L558.4,160.25 L558.9,160.47 L559.4,160.36 L559.9,160.18 L560.4,160.08 L560.9,160.17 L561.4,160.44 L561.9,160.67 L562.4,160.52 L562.9,160.27 L563.4,160 L563.9,160.05 L564.4,160.15 L564.9,160.2 L565.4,160.25 L565.9,160.34 L566.4,160.25 L566.9,160.08 L567.4,159.73 L567.9,159.61 L568.4,159.6 L568.9,159.54 L569.4,159.73 L569.9,159.86 L570.4,160.01 L570.9,159.82 L571.4,159.6 L571.9,159.53 L572.4,159.84 L572.9,159.76 L573.4,159.87 L573.9,159.73 L574.4,160 L574.9,159.94 L575.4,159.93 L575.9,159.78 L576.4,159.87 L576.9,159.94 L577.4,159.94 L577.9,159.77 L578.4,159.61 L578.9,159.84 L579.4,160.08 L579.9,160.14 L580.4,159.94 L580.9,159.64 L581.4,159.58 L581.9,159.7 L582.4,159.69 L582.9,159.66 L583.4,159.64 L583.9,159.89 L584.4,159.75 L584.9,159.77 L585.4,159.51 L585.9,159.56 L586.4,159.48 L586.9,159.79 L587.4,160.21 L587.9,160.24 L588.4,160.1 L588.9,159.8 L589.4,159.56 L589.9,159.51 L590.4,159.13 L590.9,159.32 L591.4,159.24 L591.9,159.3 L592.4,158.93 L592.9,158.96 L593.4,159.02 L593.9,159.27 L594.4,159.3 L594.9,159.2 L595.4,159.35 L595.9,159.46 L596.4,159.74 L596.9,159.72 L597.4,159.5 L597.9,159.54 L598.4,159.54 L598.9,159.65 L599.4,159.51 L599.9,159.59 L600.4,159.73 L600.9,159.85 L601.4,159.85 L601.9,159.86 L602.4,160 L602.9,159.92 L603.4,159.75 L603.9,159.51 L604.4,159.49 L604.9,159.58 L605.4,159.74 L605.9,159.69 L606.4,159.64 L606.9,159.41 L607.4,159.61 L607.9,159.55 L608.4,159.71 L608.9,159.48 L609.4,159.49 L609.9,159.37 L610.4,159.65 L610.9,159.73 L611.4,159.79 L611.9,159.48 L612.4,159.37 L612.9,159.45 L613.4,159.76 L613.9,159.67 L614.4,159.49 L614.9,159.28 L615.4,159.37 L615.9,159.29 L616.4,159.31 L616.9,159.47 L617.4,159.48 L617.9,159.51 L618.4,159.53 L618.9,159.83 L619.4,159.76 L619.9,159.92 L620.4,159.87 L620.9,159.82 L621.4,159.67 L621.9,159.48 L622.4,159.68 L622.9,159.42 L623.4,159.64 L623.9,159.47 L624.4,159.75 L624.9,159.75 L625.4,159.87 L625.9,159.74 L626.4,159.79 L626.9,159.52 L627.4,159.57 L627.9,159.49 L628.4,159.77 L628.9,159.82 L629.4,160.2 L629.9,160.15 L630.4,160.15 L630.9,159.74 L631.4,159.91 L631.9,159.59 L632.4,159.77 L632.9,159.51 L633.4,159.48 L633.9,159.16 L634.4,159.22 L634.9,159.51 L635.4,159.63 L635.9,159.75 L636.4,159.73 L636.9,159.73 L637.4,159.39 L637.9,159.45 L638.4,159.58 L638.9,159.78 L639.4,159.51 L639.9,159.24 L640.4,159.49 L640.9,159.64 L641.4,159.72 L641.9,159.43 L642.4,159.59 L642.9,159.6 L643.4,159.6 L643.9,159.34 L644.4,159.4 L644.9,159.63 L645.4,159.79 L645.9,159.91 L646.4,159.82 L646.9,159.86 L647.4,159.78 L647.9,159.77 L648.4,159.87 L648.9,159.91 L649.4,159.85 L649.9,159.75 L650.4,159.69 L650.9,159.82 L651.4,159.83 L651.9,159.89 L652.4,159.67 L652.9,159.69 L653.4,159.8 L653.9,159.82 L654.4,159.97 L654.9,159.86 L655.4,160 L655.9,159.61 L656.4,159.71 L656.9,159.62 L657.4,159.78 L657.9,159.72 L658.4,159.72 L658.9,159.68 L659.4,159.48 L659.9,159.6 L660.4,159.79 L660.9,159.98 L661.4,160.04 L661.9,159.94 L662.4,159.92 L662.9,159.8 L663.4,160.08 L663.9,160.09 L664.4,159.96 L664.9,159.61 L665.4,159.78 L665.9,159.85 L666.4,159.94 L666.9,159.81 L667.4,159.85 L667.9,159.91" fill="none" stroke="#4665c0" stroke-width="0.9" stroke-linejoin="round" />
<path d="M480.9,136.02 L481.4,135.94 L481.9,135.96 L482.4,135.68 L482.9,135.68 L483.4,135.59 L483.9,135.74 L484.4,135.8 L484.9,135.88 L485.4,135.7 L485.9,135.69 L486.4,135.48 L486.9,135.75 L487.4,135.96 L487.9,136.18 L488.4,135.95 L488.9,135.89 L489.4,135.88 L489.9,135.85 L490.4,135.76 L490.9,135.79 L491.4,136.08 L491.9,136.21 L492.4,136.22 L492.9,136.18 L493.4,136.18 L493.9,136.12 L494.4,135.99 L494.9,135.96 L495.4,135.94 L495.9,136.32 L496.4,136.39 L496.9,136.45 L497.4,136.17 L497.9,136.14 L498.4,136.13 L498.9,136.23 L499.4,136.26 L499.9,136.39 L500.4,136.26 L500.9,136.31 L501.4,136.32 L501.9,136.27 L502.4,136.24 L502.9,136.16 L503.4,136.23 L503.9,136.11 L504.4,135.79 L504.9,135.85 L505.4,135.63 L505.9,135.45 L506.4,135.03 L506.9,134.45 L507.4,134.09 L507.9,133.32 L508.4,132.75 L508.9,131.71 L509.4,130.63 L509.9,129.54 L510.4,129.12 L510.9,128.84 L511.4,128.93 L511.9,129.17 L512.4,129.63 L512.9,130.35 L513.4,130.93 L513.9,131.8 L514.4,132.49 L514.9,133.12 L515.4,133.83 L515.9,134.44 L516.4,134.42 L516.9,134.19 L517.4,134.19 L517.9,134.5 L518.4,134.6 L518.9,134.55 L519.4,134.17 L519.9,134.11 L520.4,133.69 L520.9,133.54 L521.4,132.84 L521.9,132.09 L522.4,130.78 L522.9,128.94 L523.4,126.44 L523.9,123.01 L524.4,118.23 L524.9,112.16 L525.4,104.58 L525.9,95.63 L526.4,84.86 L526.9,73.22 L527.4,61.24 L527.9,50.05 L528.4,40.8 L528.9,34.67 L529.4,32.51 L529.9,34.89 L530.4,40.83 L530.9,49.96 L531.4,60.6 L531.9,72.5 L532.4,83.8 L532.9,94.04 L533.4,102.53 L533.9,109.55 L534.4,114.91 L534.9,119.17 L535.4,122.25 L535.9,124.62 L536.4,126 L536.9,127.53 L537.4,128.47 L537.9,129.42 L538.4,130.17 L538.9,131.31 L539.4,132.55 L539.9,133.25 L540.4,133.94 L540.9,134.54 L541.4,134.91 L541.9,134.98 L542.4,134.7 L542.9,134.86 L543.4,134.99 L543.9,135.16 L544.4,135.05 L544.9,134.9 L545.4,134.59 L545.9,134.39 L546.4,133.93 L546.9,133.7 L547.4,133.58 L547.9,133.66 L548.4,133.97 L548.9,134.34 L549.4,134.78 L549.9,134.96 L550.4,135.05 L550.9,135.48 L551.4,135.77 L551.9,136.11 L552.4,136.12 L552.9,136.38 L553.4,136.62 L553.9,136.67 L554.4,136.56 L554.9,136.65 L555.4,136.77 L555.9,137.04 L556.4,136.88 L556.9,136.96 L557.4,137.03 L557.9,137.19 L558.4,137.06 L558.9,136.86 L559.4,136.72 L559.9,136.74 L560.4,136.79 L560.9,136.59 L561.4,136.19 L561.9,136.04 L562.4,136.05 L562.9,136.19 L563.4,136.1 L563.9,135.84 L564.4,135.44 L564.9,135.07 L565.4,134.68 L565.9,134.62 L566.4,134.33 L566.9,134.24 L567.4,134.04 L567.9,134.02 L568.4,133.87 L568.9,134 L569.4,133.93 L569.9,134.41 L570.4,134.79 L570.9,135.57 L571.4,135.83 L571.9,135.88 L572.4,135.68 L572.9,136.05 L573.4,136.12 L573.9,136.54 L574.4,136.14 L574.9,136.37 L575.4,136.4 L575.9,136.75 L576.4,136.78 L576.9,136.63 L577.4,136.5 L577.9,136.64 L578.4,136.8 L578.9,136.9 L579.4,136.82 L579.9,136.67 L580.4,136.82 L580.9,136.96 L581.4,136.99 L581.9,136.89 L582.4,136.88 L582.9,136.91 L583.4,137.15 L583.9,137.22 L584.4,137.28 L584.9,137.17 L585.4,137.21 L585.9,137.11 L586.4,137.08 L586.9,136.89 L587.4,137.02 L587.9,137.04 L588.4,137 L588.9,136.82 L589.4,136.45 L589.9,136.22 L590.4,135.91 L590.9,135.25 L591.4,134.23 L591.9,133.21 L592.4,132.82 L592.9,132.98 L593.4,133.56 L593.9,134.39 L594.4,135.48 L594.9,136.29 L595.4,136.79 L595.9,136.91 L596.4,136.98 L596.9,137.17 L597.4,136.93 L597.9,137.22 L598.4,137.05 L598.9,137.13 L599.4,136.96 L599.9,136.76 L600.4,136.91 L600.9,136.9 L601.4,136.95 L601.9,136.75 L602.4,136.67 L602.9,136.56 L603.4,136.51 L603.9,136.36 L604.4,136.55 L604.9,136.44 L605.4,136.39 L605.9,136.35 L606.4,136.14 L606.9,136.17 L607.4,135.89 L607.9,136.07 L608.4,136.43 L608.9,136.78 L609.4,137.26 L609.9,137.09 L610.4,137.21 L610.9,137.05 L611.4,137.07 L611.9,137.04 L612.4,137.14 L612.9,137.4 L613.4,137.41 L613.9,137.45 L614.4,137.25 L614.9,137.29 L615.4,137.1 L615.9,137.26 L616.4,137.18 L616.9,137.34 L617.4,137.19 L617.9,137.36 L618.4,137.42 L618.9,137.45 L619.4,137.35 L619.9,137.33 L620.4,137.42 L620.9,137.46 L621.4,137.57 L621.9,137.67 L622.4,137.68 L622.9,137.38 L623.4,137.39 L623.9,137.57 L624.4,137.69 L624.9,137.43 L625.4,136.94 L625.9,137.08 L626.4,137.01 L626.9,137.46 L627.4,137.08 L627.9,137.21 L628.4,137.07 L628.9,137.32 L629.4,137.22 L629.9,137.17 L630.4,137.15 L630.9,137.2 L631.4,137.17 L631.9,137.17 L632.4,137.18 L632.9,137.28 L633.4,137.3 L633.9,137.34 L634.4,137.16 L634.9,137.32 L635.4,137.15 L635.9,137.35 L636.4,136.89 L636.9,136.93 L637.4,136.64 L637.9,137.11 L638.4,137.24 L638.9,137.28 L639.4,137.09 L639.9,137.22 L640.4,137.36 L640.9,137.49 L641.4,137.16 L641.9,136.99 L642.4,136.99 L642.9,137.44 L643.4,137.55 L643.9,137.55 L644.4,137.17 L644.9,137.38 L645.4,137.26 L645.9,137.32 L646.4,136.95 L646.9,136.95 L647.4,137.03 L647.9,137.41 L648.4,137.32 L648.9,137.41 L649.4,137.21 L649.9,137.31 L650.4,137.09 L650.9,136.93 L651.4,136.82 L651.9,137.12 L652.4,137.18 L652.9,137.27 L653.4,137.21 L653.9,137.1 L654.4,137.2 L654.9,137.01 L655.4,137.28 L655.9,137.33 L656.4,137.37 L656.9,137.33 L657.4,137.31 L657.9,137.4 L658.4,137.34 L658.9,137.24 L659.4,137 L659.9,137.24 L660.4,137.12 L660.9,137.3 L661.4,137.35 L661.9,137.59 L662.4,137.53 L662.9,137.24 L663.4,137.08 L663.9,137.22 L664.4,137.34 L664.9,137.42 L665.4,137.62 L665.9,137.48 L666.4,137.42 L666.9,137.08 L667.4,137.2 L667.9,137.26" fill="none" stroke="#23923f" stroke-width="0.9" stroke-linejoin="round" />
<path d="M480.9,113.1 L481.4,113.2 L481.9,113.24 L482.4,113.25 L482.9,112.89 L483.4,112.93 L483.9,112.87 L484.4,113.09 L484.9,112.99 L485.4,112.97 L485.9,112.97 L486.4,113 L486.9,113.11 L487.4,113.25 L487.9,113.16 L488.4,113.18 L488.9,113.03 L489.4,113.1 L489.9,113.17 L490.4,113.28 L490.9,113.16 L491.4,113.11 L491.9,113.16 L492.4,113.47 L492.9,113.5 L493.4,113.44 L493.9,113.18 L494.4,113.43 L494.9,113.37 L495.4,113.38 L495.9,113.14 L496.4,113.05 L496.9,113.31 L497.4,113.36 L497.9,113.64 L498.4,113.41 L498.9,113.33 L499.4,113.38 L499.9,113.61 L500.4,114 L500.9,114.04 L501.4,113.71 L501.9,113.39 L502.4,113.21 L502.9,113.55 L503.4,113.51 L503.9,113.57 L504.4,113.35 L504.9,113.35 L505.4,113.34 L505.9,113.12 L506.4,112.55 L506.9,111.91 L507.4,111.72 L507.9,111.44 L508.4,110.91 L508.9,109.96 L509.4,109.41 L509.9,108.91 L510.4,108.56 L510.9,108.1 L511.4,107.99 L511.9,108.11 L512.4,108.57 L512.9,109.21 L513.4,109.57 L513.9,109.9 L514.4,110.27 L514.9,110.97 L515.4,111.32 L515.9,111.52 L516.4,111.63 L516.9,111.83 L517.4,111.86 L517.9,111.84 L518.4,111.89 L518.9,111.89 L519.4,111.78 L519.9,111.46 L520.4,110.98 L520.9,110.43 L521.4,109.88 L521.9,109.14 L522.4,108.07 L522.9,106.27 L523.4,103.79 L523.9,100.31 L524.4,95.5 L524.9,89.51 L525.4,81.97 L525.9,73.41 L526.4,63.32 L526.9,52.64 L527.4,41.66 L527.9,31.82 L528.4,23.81 L528.9,18.78 L529.4,17.49 L529.9,20.19 L530.4,26.59 L530.9,35.37 L531.4,45.59 L531.9,56.06 L532.4,66.12 L532.9,75.19 L533.4,82.91 L533.9,88.98 L534.4,93.7 L534.9,96.85 L535.4,99.34 L535.9,100.86 L536.4,102.03 L536.9,103.07 L537.4,103.94 L537.9,105.24 L538.4,106.46 L538.9,107.95 L539.4,109.06 L539.9,109.67 L540.4,110.11 L540.9,110.73 L541.4,111.3 L541.9,111.77 L542.4,111.61 L542.9,111.52 L543.4,111.06 L543.9,110.92 L544.4,110.89 L544.9,110.65 L545.4,110.49 L545.9,110.11 L546.4,110.06 L546.9,109.77 L547.4,109.65 L547.9,109.86 L548.4,109.92 L548.9,110.27 L549.4,110.54 L549.9,111.12 L550.4,111.62 L550.9,111.47 L551.4,111.72 L551.9,111.68 L552.4,112.21 L552.9,112.42 L553.4,112.75 L553.9,112.8 L554.4,112.99 L554.9,112.8 L555.4,113.05 L555.9,112.95 L556.4,112.95 L556.9,112.65 L557.4,112.48 L557.9,112.58 L558.4,112.8 L558.9,113.15 L559.4,113.32 L559.9,113.1 L560.4,112.58 L560.9,112.32 L561.4,112.12 L561.9,112.11 L562.4,111.74 L562.9,111.81 L563.4,111.16 L563.9,110.74 L564.4,110.09 L564.9,109.66 L565.4,108.97 L565.9,108.45 L566.4,107.84 L566.9,107.45 L567.4,106.98 L567.9,107.31 L568.4,107.8 L568.9,108.28 L569.4,108.95 L569.9,109.39 L570.4,110.02 L570.9,110.34 L571.4,111.11 L571.9,111.67 L572.4,112.15 L572.9,112.62 L573.4,113.12 L573.9,113.55 L574.4,113.42 L574.9,113.29 L575.4,113.25 L575.9,113.45 L576.4,113.57 L576.9,113.6 L577.4,113.72 L577.9,113.66 L578.4,113.72 L578.9,113.59 L579.4,113.65 L579.9,113.58 L580.4,113.7 L580.9,113.78 L581.4,113.71 L581.9,113.65 L582.4,113.62 L582.9,113.75 L583.4,113.66 L583.9,113.75 L584.4,113.74 L584.9,113.62 L585.4,113.35 L585.9,113.13 L586.4,113.3 L586.9,113.36 L587.4,113.47 L587.9,113.4 L588.4,113.59 L588.9,113.79 L589.4,113.54 L589.9,113.09 L590.4,111.91 L590.9,110.58 L591.4,108.49 L591.9,106.59 L592.4,105.52 L592.9,105.83 L593.4,106.96 L593.9,108.67 L594.4,110.34 L594.9,111.99 L595.4,112.75 L595.9,113.13 L596.4,113.37 L596.9,113.77 L597.4,113.85 L597.9,113.82 L598.4,113.57 L598.9,113.52 L599.4,113.23 L599.9,113.02 L600.4,112.7 L600.9,112.52 L601.4,112.39 L601.9,112.16 L602.4,111.88 L602.9,111.34 L603.4,111.07 L603.9,110.34 L604.4,110.02 L604.9,109.75 L605.4,109.84 L605.9,110.12 L606.4,110.31 L606.9,110.63 L607.4,110.86 L607.9,110.99 L608.4,111.35 L608.9,111.65 L609.4,111.98 L609.9,112.53 L610.4,112.77 L610.9,113.32 L611.4,113.37 L611.9,113.63 L612.4,113.52 L612.9,113.59 L613.4,113.56 L613.9,113.74 L614.4,113.96 L614.9,113.97 L615.4,113.93 L615.9,113.82 L616.4,113.99 L616.9,114 L617.4,113.91 L617.9,113.74 L618.4,113.76 L618.9,113.83 L619.4,113.82 L619.9,113.79 L620.4,113.85 L620.9,113.92 L621.4,113.89 L621.9,113.89 L622.4,113.97 L622.9,114.11 L623.4,114.11 L623.9,113.98 L624.4,113.93 L624.9,113.89 L625.4,113.95 L625.9,113.72 L626.4,113.68 L626.9,113.71 L627.4,113.97 L627.9,113.94 L628.4,113.9 L628.9,113.64 L629.4,113.5 L629.9,113.15 L630.4,113.33 L630.9,113.7 L631.4,114.25 L631.9,114.14 L632.4,114.03 L632.9,113.97 L633.4,114.07 L633.9,113.76 L634.4,113.78 L634.9,113.78 L635.4,113.96 L635.9,113.99 L636.4,114.09 L636.9,114.24 L637.4,114.22 L637.9,114.15 L638.4,113.94 L638.9,113.85 L639.4,113.86 L639.9,114.07 L640.4,114.02 L640.9,113.93 L641.4,113.85 L641.9,113.77 L642.4,113.83 L642.9,113.82 L643.4,113.9 L643.9,113.96 L644.4,113.81 L644.9,113.85 L645.4,113.66 L645.9,114.06 L646.4,113.9 L646.9,114.06 L647.4,113.96 L647.9,114.03 L648.4,113.89 L648.9,113.56 L649.4,113.62 L649.9,113.81 L650.4,114.08 L650.9,114.08 L651.4,113.97 L651.9,113.93 L652.4,114.07 L652.9,114.03 L653.4,114.39 L653.9,114.18 L654.4,114.42 L654.9,114.22 L655.4,114.38 L655.9,114.26 L656.4,114.13 L656.9,114.18 L657.4,113.83 L657.9,113.8 L658.4,113.6 L658.9,113.83 L659.4,113.79 L659.9,113.86 L660.4,113.99 L660.9,113.91 L661.4,114.02 L661.9,113.72 L662.4,113.67 L662.9,113.4 L663.4,113.65 L663.9,113.71 L664.4,113.91 L664.9,113.8 L665.4,114.01 L665.9,114.04 L666.4,114.07 L666.9,113.72 L667.4,113.49 L667.9,113.55" fill="none" stroke="#ec2a30" stroke-width="0.9" stroke-linejoin="round" />
<rect x="480.9" y="11.5" width="187" height="186.3" fill="none" stroke="#3a3a3a" stroke-width="1.0"/>
<line x1="480.9" y1="197.8" x2="480.9" y2="194" stroke="#3a3a3a" stroke-width="0.9" />
<text transform="translate(480.9,209.7) scale(1,1.0)" font-size="9.5" text-anchor="middle" fill="#222" >150</text>
<line x1="518.3" y1="197.8" x2="518.3" y2="194" stroke="#3a3a3a" stroke-width="0.9" />
<text transform="translate(518.3,209.7) scale(1,1.0)" font-size="9.5" text-anchor="middle" fill="#222" >100</text>
<line x1="555.7" y1="197.8" x2="555.7" y2="194" stroke="#3a3a3a" stroke-width="0.9" />
<text transform="translate(555.7,209.7) scale(1,1.0)" font-size="9.5" text-anchor="middle" fill="#222" >50</text>
<line x1="593.1" y1="197.8" x2="593.1" y2="194" stroke="#3a3a3a" stroke-width="0.9" />
<text transform="translate(593.1,209.7) scale(1,1.0)" font-size="9.5" text-anchor="middle" fill="#222" >0</text>
<line x1="630.5" y1="197.8" x2="630.5" y2="194" stroke="#3a3a3a" stroke-width="0.9" />
<text transform="translate(630.5,209.7) scale(1,1.0)" font-size="9.5" text-anchor="middle" fill="#222" >−50</text>
<line x1="667.9" y1="197.8" x2="667.9" y2="194" stroke="#3a3a3a" stroke-width="0.9" />
<text transform="translate(667.9,209.7) scale(1,1.0)" font-size="9.5" text-anchor="middle" fill="#222" >−100</text>
<text transform="translate(575.8,224.8) scale(1,1.0)" font-size="9.5" text-anchor="middle" fill="#222" ><tspan font-size="5.6" dy="-3.4">31</tspan><tspan dy="3.4">P Chemical Shift (ppm)</tspan></text>
<text transform="translate(473.3,106.3) rotate(-90) scale(1.08,1)" font-size="9.45" text-anchor="middle" fill="#222" >Intensity (a.u.)</text>
<text transform="translate(666,24) scale(1,1.0)" font-size="9.5" text-anchor="end" fill="#333" ><tspan>Na</tspan><tspan font-size="5.8" dy="2.8">3</tspan><tspan dy="-2.8">PS</tspan><tspan font-size="5.8" dy="2.8" font-style="italic">4–x</tspan><tspan dy="-2.8">O</tspan><tspan font-size="5.8" dy="2.8" font-style="italic">x</tspan></text>
<text transform="translate(666.5,110) scale(1,1.0)" font-size="9.5" text-anchor="end" fill="#ec2a30" ><tspan font-style="italic">x</tspan> = 0.60</text>
<text transform="translate(666.5,134.2) scale(1,1.0)" font-size="9.5" text-anchor="end" fill="#8c6a45" ><tspan font-style="italic">x</tspan> = 0.30</text>
<text transform="translate(666.5,157.6) scale(1,1.0)" font-size="9.5" text-anchor="end" fill="#4665c0" ><tspan font-style="italic">x</tspan> = 0.15</text>
<text transform="translate(666.5,177.6) scale(1,1.0)" font-size="9.5" text-anchor="end" fill="#111111" ><tspan font-style="italic">x</tspan> = 0.00</text>
<text transform="translate(534.7,28.4) scale(1,1.05)" font-size="9.5" text-anchor="start" fill="#222" >PS<tspan font-size="5.8" dy="2.8">4</tspan><tspan dy="-2.8"></tspan> + PS<tspan font-size="5.8" dy="2.8">3</tspan><tspan dy="-2.8">O</tspan></text>
<text transform="translate(511.4,101.3) scale(1,1.0)" font-size="9.5" text-anchor="middle" fill="#222" >P<tspan font-size="5.8" dy="2.8">2</tspan><tspan dy="-2.8">S</tspan><tspan font-size="5.8" dy="2.8">6</tspan><tspan dy="-2.8"></tspan></text>
<text transform="translate(550.7,101.3) scale(1,1.0)" font-size="9.5" text-anchor="middle" fill="#222" >PS<tspan font-size="5.8" dy="2.8">2</tspan><tspan dy="-2.8">O</tspan><tspan font-size="5.8" dy="2.8">2</tspan><tspan dy="-2.8"></tspan></text>
<text transform="translate(570,86.7) scale(1,1.0)" font-size="9.5" text-anchor="middle" fill="#222" >PSO<tspan font-size="5.8" dy="2.8">3</tspan><tspan dy="-2.8"></tspan></text>
<text transform="translate(592.2,99.3) scale(1,1.0)" font-size="9.5" text-anchor="middle" fill="#222" >P<tspan font-size="5.8" dy="2.8">2</tspan><tspan dy="-2.8">O</tspan><tspan font-size="5.8" dy="2.8">7</tspan><tspan dy="-2.8"></tspan></text>
<text transform="translate(607.4,88.3) scale(1,1.0)" font-size="9.5" text-anchor="middle" fill="#222" >PO<tspan font-size="5.8" dy="2.8">3</tspan><tspan dy="-2.8"></tspan></text>
<line x1="567.6" y1="89.5" x2="567.6" y2="104" stroke="#222" stroke-width="0.8" />
<path d="M567.6,106.5 L565.9,102.6 L569.3,102.6 Z" fill="#222"/>
<line x1="606" y1="90.5" x2="606" y2="105.5" stroke="#222" stroke-width="0.8" />
<path d="M606,108 L604.3,104.1 L607.7,104.1 Z" fill="#222"/>
<defs><radialGradient id="gb" cx="0.5" cy="0.5" r="0.5"><stop offset="0" stop-color="#4656b4"/><stop offset="0.7" stop-color="#3c4ca8"/><stop offset="1" stop-color="#2a378c"/></radialGradient><radialGradient id="gr" cx="0.5" cy="0.5" r="0.5"><stop offset="0" stop-color="#ee2a32"/><stop offset="0.7" stop-color="#e4222a"/><stop offset="1" stop-color="#b8121a"/></radialGradient><radialGradient id="gk" cx="0.5" cy="0.5" r="0.5"><stop offset="0" stop-color="#1a1a1a"/><stop offset="0.7" stop-color="#111"/><stop offset="1" stop-color="#000"/></radialGradient><radialGradient id="hl" cx="0.5" cy="0.5" r="0.5"><stop offset="0" stop-color="#fff" stop-opacity="1"/><stop offset="0.35" stop-color="#fff" stop-opacity="0.75"/><stop offset="1" stop-color="#fff" stop-opacity="0"/></radialGradient></defs>
<line x1="48.49" y1="260.04" x2="75.61" y2="270.68" stroke="#4258b8" stroke-width="0.9" />
<line x1="86.35" y1="275.95" x2="114.35" y2="292.66" stroke="#4258b8" stroke-width="0.9" />
<line x1="124.48" y1="299.09" x2="191.12" y2="343.96" stroke="#4258b8" stroke-width="0.9" />
<line x1="48.4" y1="406.5" x2="75.7" y2="394.6" stroke="#ec2a30" stroke-width="0.9" />
<line x1="86.46" y1="389.32" x2="114.24" y2="374.06" stroke="#ec2a30" stroke-width="0.9" />
<line x1="124.72" y1="368.22" x2="190.88" y2="330.74" stroke="#ec2a30" stroke-width="0.9" />
<line x1="48.88" y1="410.93" x2="75.22" y2="408.86" stroke="#111111" stroke-width="0.9" />
<line x1="87.18" y1="407.93" x2="113.52" y2="405.86" stroke="#111111" stroke-width="0.9" />
<line x1="125.48" y1="404.9" x2="190.12" y2="399.54" stroke="#111111" stroke-width="0.9" />
<circle cx="42.9" cy="257.85" r="5.0" fill="url(#gb)"/>
<circle cx="41.4" cy="256.25" r="2.4" fill="url(#hl)"/>
<circle cx="81.2" cy="272.87" r="5.0" fill="url(#gb)"/>
<circle cx="79.7" cy="271.27" r="2.4" fill="url(#hl)"/>
<circle cx="119.5" cy="295.74" r="5.0" fill="url(#gb)"/>
<circle cx="118" cy="294.14" r="2.4" fill="url(#hl)"/>
<circle cx="196.1" cy="347.31" r="5.0" fill="url(#gb)"/>
<circle cx="194.6" cy="345.71" r="2.4" fill="url(#hl)"/>
<circle cx="42.9" cy="408.9" r="5.0" fill="url(#gr)"/>
<circle cx="41.4" cy="407.3" r="2.4" fill="url(#hl)"/>
<circle cx="81.2" cy="392.21" r="5.0" fill="url(#gr)"/>
<circle cx="79.7" cy="390.61" r="2.4" fill="url(#hl)"/>
<circle cx="119.5" cy="371.18" r="5.0" fill="url(#gr)"/>
<circle cx="118" cy="369.58" r="2.4" fill="url(#hl)"/>
<circle cx="196.1" cy="327.78" r="5.0" fill="url(#gr)"/>
<circle cx="194.6" cy="326.18" r="2.4" fill="url(#hl)"/>
<circle cx="42.9" cy="411.4" r="5.0" fill="url(#gk)"/>
<circle cx="41.4" cy="409.8" r="2.4" fill="url(#hl)"/>
<circle cx="81.2" cy="408.4" r="5.0" fill="url(#gk)"/>
<circle cx="79.7" cy="406.8" r="2.4" fill="url(#hl)"/>
<circle cx="119.5" cy="405.39" r="5.0" fill="url(#gk)"/>
<circle cx="118" cy="403.79" r="2.4" fill="url(#hl)"/>
<circle cx="196.1" cy="399.05" r="5.0" fill="url(#gk)"/>
<circle cx="194.6" cy="397.45" r="2.4" fill="url(#hl)"/>
<rect x="27.5" y="244.5" width="184.5" height="183.5" fill="none" stroke="#3a3a3a" stroke-width="1.0"/>
<line x1="27.5" y1="411.4" x2="31.3" y2="411.4" stroke="#3a3a3a" stroke-width="0.9" />
<text transform="translate(24.5,414.8) scale(1,1.0)" font-size="9.5" text-anchor="end" fill="#222" >0</text>
<line x1="27.5" y1="378.02" x2="31.3" y2="378.02" stroke="#3a3a3a" stroke-width="0.9" />
<text transform="translate(24.5,381.42) scale(1,1.0)" font-size="9.5" text-anchor="end" fill="#222" >20</text>
<line x1="27.5" y1="344.64" x2="31.3" y2="344.64" stroke="#3a3a3a" stroke-width="0.9" />
<text transform="translate(24.5,348.04) scale(1,1.0)" font-size="9.5" text-anchor="end" fill="#222" >40</text>
<line x1="27.5" y1="311.26" x2="31.3" y2="311.26" stroke="#3a3a3a" stroke-width="0.9" />
<text transform="translate(24.5,314.66) scale(1,1.0)" font-size="9.5" text-anchor="end" fill="#222" >60</text>
<line x1="27.5" y1="277.88" x2="31.3" y2="277.88" stroke="#3a3a3a" stroke-width="0.9" />
<text transform="translate(24.5,281.28) scale(1,1.0)" font-size="9.5" text-anchor="end" fill="#222" >80</text>
<line x1="27.5" y1="244.5" x2="31.3" y2="244.5" stroke="#3a3a3a" stroke-width="0.9" />
<text transform="translate(24.5,247.9) scale(1,1.0)" font-size="9.5" text-anchor="end" fill="#222" >100</text>
<line x1="42.9" y1="428" x2="42.9" y2="424.2" stroke="#3a3a3a" stroke-width="0.9" />
<text transform="translate(41.6,440.8) scale(1,1.0)" font-size="9.5" text-anchor="middle" fill="#222" >0.00</text>
<line x1="81.2" y1="428" x2="81.2" y2="424.2" stroke="#3a3a3a" stroke-width="0.9" />
<text transform="translate(79.9,440.8) scale(1,1.0)" font-size="9.5" text-anchor="middle" fill="#222" >0.15</text>
<line x1="119.5" y1="428" x2="119.5" y2="424.2" stroke="#3a3a3a" stroke-width="0.9" />
<text transform="translate(118.2,440.8) scale(1,1.0)" font-size="9.5" text-anchor="middle" fill="#222" >0.30</text>
<line x1="157.8" y1="428" x2="157.8" y2="424.2" stroke="#3a3a3a" stroke-width="0.9" />
<text transform="translate(156.5,440.8) scale(1,1.0)" font-size="9.5" text-anchor="middle" fill="#222" >0.45</text>
<line x1="196.1" y1="428" x2="196.1" y2="424.2" stroke="#3a3a3a" stroke-width="0.9" />
<text transform="translate(194.8,440.8) scale(1,1.0)" font-size="9.5" text-anchor="middle" fill="#222" >0.60</text>
<text transform="translate(6.8,327.4) rotate(-90) scale(1.05,1)" font-size="9.45" text-anchor="middle" fill="#222" >Mole Percentage (%)</text>
<text transform="translate(114.9,458.5) scale(1,1.0)" font-size="9.5" text-anchor="middle" fill="#222" ><tspan font-style="italic">x</tspan> in Na<tspan font-size="5.8" dy="2.8">3</tspan><tspan dy="-2.8">PS</tspan><tspan font-size="5.8" dy="2.8" font-style="italic">4–x</tspan><tspan dy="-2.8">O</tspan><tspan font-size="5.8" dy="2.8" font-style="italic">x</tspan></text>
<line x1="140.6" y1="253.2" x2="144.8" y2="253.2" stroke="#4258b8" stroke-width="0.9" />
<line x1="159.6" y1="253.2" x2="163.6" y2="253.2" stroke="#4258b8" stroke-width="0.9" />
<circle cx="152.3" cy="253.2" r="5.0" fill="url(#gb)"/>
<circle cx="150.8" cy="251.6" r="2.4" fill="url(#hl)"/>
<text transform="translate(166.3,256.6) scale(1,1.0)" font-size="9.5" text-anchor="start" fill="#4a5db8" >Sulfide</text>
<line x1="140.6" y1="265.5" x2="144.8" y2="265.5" stroke="#ec2a30" stroke-width="0.9" />
<line x1="159.6" y1="265.5" x2="163.6" y2="265.5" stroke="#ec2a30" stroke-width="0.9" />
<circle cx="152.3" cy="265.5" r="5.0" fill="url(#gr)"/>
<circle cx="150.8" cy="263.9" r="2.4" fill="url(#hl)"/>
<text transform="translate(166.3,268.9) scale(1,1.0)" font-size="9.5" text-anchor="start" fill="#ec2a30" >Oxysulfide</text>
<line x1="140.6" y1="277.8" x2="144.8" y2="277.8" stroke="#111111" stroke-width="0.9" />
<line x1="159.6" y1="277.8" x2="163.6" y2="277.8" stroke="#111111" stroke-width="0.9" />
<circle cx="152.3" cy="277.8" r="5.0" fill="url(#gk)"/>
<circle cx="150.8" cy="276.2" r="2.4" fill="url(#hl)"/>
<text transform="translate(166.3,281.2) scale(1,1.0)" font-size="9.5" text-anchor="start" fill="#111" >Oxide</text>
<rect x="253.4" y="243.5" width="55.7" height="184.9" fill="#fbd5d4"/>
<rect x="309.1" y="243.5" width="74.8" height="184.9" fill="#fdf7d2"/>
<rect x="383.9" y="243.5" width="54.5" height="184.9" fill="#d4dced"/>
<path d="M253.4,414.5 L253.9,414.49 L254.4,414.44 L254.9,414.38 L255.4,414.29 L255.9,414.18 L256.4,414.05 L256.9,413.91 L257.4,413.76 L257.9,413.6 L258.4,413.43 L258.9,413.26 L259.4,413.05 L259.9,412.8 L260.4,412.48 L260.9,412.09 L261.4,411.61 L261.9,410.52 L262.4,408.45 L262.9,406.53 L263.4,405.94 L263.9,407.19 L264.4,409.38 L264.9,411.47 L265.4,412.4 L265.9,412.38 L266.4,412.32 L266.9,412.24 L267.4,412.14 L267.9,412.02 L268.4,411.89 L268.9,411.72 L269.4,411.5 L269.9,411.24 L270.4,410.95 L270.9,410.63 L271.4,410.27 L271.9,409.86 L272.4,409.34 L272.9,408.72 L273.4,408.02 L273.9,407.27 L274.4,406.47 L274.9,405.66 L275.4,404.84 L275.9,403.97 L276.4,403.04 L276.9,402.02 L277.4,400.9 L277.9,399.66 L278.4,398.3 L278.9,396.78 L279.4,395.03 L279.9,392.97 L280.4,390.54 L280.9,387.23 L281.4,382.56 L281.9,377.34 L282.4,372.34 L282.9,367.31 L283.4,362.14 L283.9,357.12 L284.4,352.54 L284.9,348.14 L285.4,343.42 L285.9,339.26 L286.4,336.6 L286.9,336.16 L287.4,336.76 L287.9,337.74 L288.4,338.78 L288.9,339.56 L289.4,339.8 L289.9,339.67 L290.4,339.42 L290.9,339.13 L291.4,338.87 L291.9,338.72 L292.4,338.83 L292.9,339.57 L293.4,340.81 L293.9,342.4 L294.4,344.17 L294.9,345.96 L295.4,347.62 L295.9,349.32 L296.4,351.16 L296.9,353.11 L297.4,355.14 L297.9,357.22 L298.4,359.32 L298.9,361.42 L299.4,363.49 L299.9,365.5 L300.4,367.56 L300.9,369.65 L301.4,371.77 L301.9,373.87 L302.4,375.94 L302.9,377.94 L303.4,379.86 L303.9,381.66 L304.4,383.38 L304.9,385.12 L305.4,386.86 L305.9,388.55 L306.4,390.16 L306.9,391.64 L307.4,392.97 L307.9,394.1 L308.4,395 L308.9,395.74 L309.4,396.42 L309.9,397.05 L310.4,397.62 L310.9,398.13 L311.4,398.58 L311.9,398.98 L312.4,399.32 L312.9,399.61 L313.4,399.86 L313.9,400.09 L314.4,400.3 L314.9,400.49 L315.4,400.66 L315.9,400.82 L316.4,400.98 L316.9,401.14 L317.4,401.3 L317.9,401.47 L318.4,401.64 L318.9,401.81 L319.4,401.97 L319.9,402.14 L320.4,402.3 L320.9,402.45 L321.4,402.61 L321.9,402.77 L322.4,402.92 L322.9,403.08 L323.4,403.24 L323.9,403.4 L324.4,403.56 L324.9,403.73 L325.4,403.9 L325.9,404.08 L326.4,404.26 L326.9,404.46 L327.4,404.66 L327.9,404.86 L328.4,405.07 L328.9,405.28 L329.4,405.49 L329.9,405.7 L330.4,405.91 L330.9,406.12 L331.4,406.32 L331.9,406.52 L332.4,406.72 L332.9,406.9 L333.4,407.08 L333.9,407.25 L334.4,407.42 L334.9,407.56 L335.4,407.7 L335.9,407.82 L336.4,407.94 L336.9,408.06 L337.4,408.19 L337.9,408.31 L338.4,408.43 L338.9,408.55 L339.4,408.66 L339.9,408.78 L340.4,408.88 L340.9,408.99 L341.4,409.09 L341.9,409.18 L342.4,409.26 L342.9,409.34 L343.4,409.41 L343.9,409.47 L344.4,409.52 L344.9,409.56 L345.4,409.58 L345.9,409.6 L346.4,409.6 L346.9,409.6 L347.4,409.6 L347.9,409.6 L348.4,409.6 L348.9,409.6 L349.4,409.6 L349.9,409.6 L350.4,409.6 L350.9,409.6 L351.4,409.6 L351.9,409.6 L352.4,409.6 L352.9,409.6 L353.4,409.6 L353.9,409.6 L354.4,409.6 L354.9,409.6 L355.4,409.6 L355.9,409.6 L356.4,409.6 L356.9,409.6 L357.4,409.59 L357.9,409.58 L358.4,409.56 L358.9,409.53 L359.4,409.5 L359.9,409.47 L360.4,409.43 L360.9,409.4 L361.4,409.36 L361.9,409.32 L362.4,409.28 L362.9,409.25 L363.4,409.21 L363.9,409.18 L364.4,409.15 L364.9,409.13 L365.4,409.11 L365.9,409.1 L366.4,409.1 L366.9,409.11 L367.4,409.14 L367.9,409.18 L368.4,409.24 L368.9,409.31 L369.4,409.4 L369.9,409.5 L370.4,409.6 L370.9,409.72 L371.4,409.83 L371.9,409.96 L372.4,410.09 L372.9,410.22 L373.4,410.35 L373.9,410.47 L374.4,410.6 L374.9,410.72 L375.4,410.84 L375.9,410.95 L376.4,411.05 L376.9,411.14 L377.4,411.22 L377.9,411.3 L378.4,411.38 L378.9,411.47 L379.4,411.55 L379.9,411.61 L380.4,411.66 L380.9,411.69 L381.4,411.68 L381.9,411.51 L382.4,411.19 L382.9,410.76 L383.4,410.26 L383.9,409.75 L384.4,409.25 L384.9,408.81 L385.4,408.47 L385.9,408.12 L386.4,407.76 L386.9,407.41 L387.4,407.08 L387.9,406.81 L388.4,406.61 L388.9,406.51 L389.4,406.51 L389.9,406.57 L390.4,406.66 L390.9,406.77 L391.4,406.88 L391.9,406.96 L392.4,407 L392.9,406.9 L393.4,406.54 L393.9,405.96 L394.4,405.24 L394.9,404.43 L395.4,403.6 L395.9,402.81 L396.4,402.12 L396.9,401.5 L397.4,400.8 L397.9,400.08 L398.4,399.4 L398.9,398.82 L399.4,398.4 L399.9,398.21 L400.4,398.33 L400.9,398.8 L401.4,399.51 L401.9,400.33 L402.4,401.16 L402.9,401.88 L403.4,402.46 L403.9,403.04 L404.4,403.61 L404.9,404.15 L405.4,404.66 L405.9,405.12 L406.4,405.55 L406.9,406.02 L407.4,406.45 L407.9,406.79 L408.4,406.98 L408.9,406.99 L409.4,406.92 L409.9,406.81 L410.4,406.66 L410.9,406.5 L411.4,406.34 L411.9,406.19 L412.4,406.08 L412.9,406.01 L413.4,406.01 L413.9,406.1 L414.4,406.27 L414.9,406.5 L415.4,406.78 L415.9,407.1 L416.4,407.42 L416.9,407.73 L417.4,408.03 L417.9,408.28 L418.4,408.47 L418.9,408.59 L419.4,408.64 L419.9,408.68 L420.4,408.72 L420.9,408.75 L421.4,408.78 L421.9,408.8 L422.4,408.82 L422.9,408.84 L423.4,408.85 L423.9,408.87 L424.4,408.89 L424.9,408.91 L425.4,408.93 L425.9,408.95 L426.4,408.98 L426.9,409.01 L427.4,409.05 L427.9,409.09 L428.4,409.15 L428.9,409.23 L429.4,409.34 L429.9,409.47 L430.4,409.61 L430.9,409.77 L431.4,409.93 L431.9,410.09 L432.4,410.25 L432.9,410.41 L433.4,410.56 L433.9,410.71 L434.4,410.86 L434.9,411.01 L435.4,411.17 L435.9,411.33 L436.4,411.49 L436.9,411.66 L437.4,411.82 L437.9,411.99 L438.4,412.17" fill="none" stroke="#111111" stroke-width="1.05" stroke-linejoin="round" />
<path d="M253.4,391.8 L253.9,391.75 L254.4,391.68 L254.9,391.6 L255.4,391.5 L255.9,391.38 L256.4,391.26 L256.9,391.12 L257.4,390.98 L257.9,390.83 L258.4,390.67 L258.9,390.5 L259.4,390.3 L259.9,390.06 L260.4,389.79 L260.9,389.44 L261.4,388.79 L261.9,387.93 L262.4,387 L262.9,386.16 L263.4,385.54 L263.9,385.3 L264.4,385.5 L264.9,385.95 L265.4,386.44 L265.9,386.77 L266.4,386.78 L266.9,386.65 L267.4,386.42 L267.9,386.09 L268.4,385.68 L268.9,385.2 L269.4,384.66 L269.9,384.07 L270.4,383.45 L270.9,382.8 L271.4,382.13 L271.9,381.41 L272.4,380.5 L272.9,379.44 L273.4,378.25 L273.9,376.93 L274.4,375.52 L274.9,374.02 L275.4,372.47 L275.9,370.88 L276.4,369.2 L276.9,367.41 L277.4,365.48 L277.9,363.41 L278.4,361.19 L278.9,358.8 L279.4,356.23 L279.9,353.46 L280.4,350.48 L280.9,347.15 L281.4,343.27 L281.9,338.65 L282.4,332.9 L282.9,322.78 L283.4,317.94 L283.9,315.91 L284.4,314.45 L284.9,313.61 L285.4,313.4 L285.9,313.56 L286.4,313.9 L286.9,314.37 L287.4,314.9 L287.9,315.43 L288.4,315.91 L288.9,316.32 L289.4,316.69 L289.9,317.05 L290.4,317.43 L290.9,317.85 L291.4,318.33 L291.9,318.9 L292.4,319.61 L292.9,320.51 L293.4,321.55 L293.9,322.73 L294.4,324.03 L294.9,325.42 L295.4,326.87 L295.9,328.38 L296.4,329.93 L296.9,331.67 L297.4,333.6 L297.9,335.68 L298.4,337.88 L298.9,340.17 L299.4,342.83 L299.9,345.81 L300.4,348.88 L300.9,351.82 L301.4,354.38 L301.9,356.34 L302.4,357.98 L302.9,359.48 L303.4,360.87 L303.9,362.14 L304.4,363.31 L304.9,364.38 L305.4,365.37 L305.9,366.28 L306.4,367.13 L306.9,367.94 L307.4,368.72 L307.9,369.45 L308.4,370.12 L308.9,370.75 L309.4,371.31 L309.9,371.8 L310.4,372.23 L310.9,372.58 L311.4,372.91 L311.9,373.22 L312.4,373.5 L312.9,373.76 L313.4,374.01 L313.9,374.24 L314.4,374.46 L314.9,374.67 L315.4,374.87 L315.9,375.07 L316.4,375.26 L316.9,375.46 L317.4,375.66 L317.9,375.85 L318.4,376.04 L318.9,376.23 L319.4,376.41 L319.9,376.58 L320.4,376.74 L320.9,376.9 L321.4,377.04 L321.9,377.17 L322.4,377.29 L322.9,377.4 L323.4,377.49 L323.9,377.58 L324.4,377.67 L324.9,377.78 L325.4,377.9 L325.9,378.04 L326.4,378.21 L326.9,378.4 L327.4,378.6 L327.9,378.82 L328.4,379.05 L328.9,379.3 L329.4,379.55 L329.9,379.81 L330.4,380.07 L330.9,380.34 L331.4,380.6 L331.9,380.87 L332.4,381.12 L332.9,381.38 L333.4,381.62 L333.9,381.85 L334.4,382.07 L334.9,382.28 L335.4,382.46 L335.9,382.63 L336.4,382.79 L336.9,382.96 L337.4,383.12 L337.9,383.28 L338.4,383.44 L338.9,383.59 L339.4,383.75 L339.9,383.9 L340.4,384.05 L340.9,384.19 L341.4,384.32 L341.9,384.45 L342.4,384.57 L342.9,384.69 L343.4,384.79 L343.9,384.89 L344.4,384.98 L344.9,385.05 L345.4,385.12 L345.9,385.17 L346.4,385.22 L346.9,385.26 L347.4,385.29 L347.9,385.33 L348.4,385.37 L348.9,385.4 L349.4,385.44 L349.9,385.47 L350.4,385.5 L350.9,385.53 L351.4,385.55 L351.9,385.58 L352.4,385.6 L352.9,385.62 L353.4,385.64 L353.9,385.66 L354.4,385.67 L354.9,385.68 L355.4,385.69 L355.9,385.7 L356.4,385.7 L356.9,385.7 L357.4,385.68 L357.9,385.64 L358.4,385.58 L358.9,385.52 L359.4,385.44 L359.9,385.36 L360.4,385.27 L360.9,385.17 L361.4,385.07 L361.9,384.97 L362.4,384.87 L362.9,384.78 L363.4,384.69 L363.9,384.61 L364.4,384.54 L364.9,384.48 L365.4,384.44 L365.9,384.41 L366.4,384.4 L366.9,384.41 L367.4,384.44 L367.9,384.5 L368.4,384.57 L368.9,384.65 L369.4,384.75 L369.9,384.87 L370.4,384.99 L370.9,385.13 L371.4,385.27 L371.9,385.42 L372.4,385.57 L372.9,385.73 L373.4,385.89 L373.9,386.05 L374.4,386.21 L374.9,386.36 L375.4,386.51 L375.9,386.65 L376.4,386.78 L376.9,386.91 L377.4,387.02 L377.9,387.14 L378.4,387.28 L378.9,387.41 L379.4,387.54 L379.9,387.66 L380.4,387.74 L380.9,387.79 L381.4,387.78 L381.9,387.58 L382.4,387.22 L382.9,386.73 L383.4,386.17 L383.9,385.6 L384.4,385.06 L384.9,384.61 L385.4,384.28 L385.9,383.97 L386.4,383.65 L386.9,383.35 L387.4,383.08 L387.9,382.85 L388.4,382.69 L388.9,382.61 L389.4,382.61 L389.9,382.67 L390.4,382.76 L390.9,382.87 L391.4,382.98 L391.9,383.06 L392.4,383.1 L392.9,383.02 L393.4,382.72 L393.9,382.24 L394.4,381.64 L394.9,380.98 L395.4,380.29 L395.9,379.65 L396.4,379.1 L396.9,378.61 L397.4,378.06 L397.9,377.5 L398.4,376.96 L398.9,376.48 L399.4,376.1 L399.9,375.86 L400.4,375.81 L400.9,376.07 L401.4,376.63 L401.9,377.39 L402.4,378.25 L402.9,379.11 L403.4,379.87 L403.9,380.52 L404.4,381.18 L404.9,381.83 L405.4,382.45 L405.9,383 L406.4,383.51 L406.9,384.06 L407.4,384.56 L407.9,384.96 L408.4,385.18 L408.9,385.18 L409.4,385.07 L409.9,384.89 L410.4,384.66 L410.9,384.4 L411.4,384.14 L411.9,383.91 L412.4,383.73 L412.9,383.62 L413.4,383.61 L413.9,383.68 L414.4,383.83 L414.9,384.04 L415.4,384.28 L415.9,384.54 L416.4,384.81 L416.9,385.07 L417.4,385.31 L417.9,385.5 L418.4,385.64 L418.9,385.7 L419.4,385.7 L419.9,385.7 L420.4,385.7 L420.9,385.7 L421.4,385.7 L421.9,385.7 L422.4,385.7 L422.9,385.7 L423.4,385.7 L423.9,385.7 L424.4,385.7 L424.9,385.7 L425.4,385.7 L425.9,385.7 L426.4,385.7 L426.9,385.7 L427.4,385.7 L427.9,385.7 L428.4,385.72 L428.9,385.82 L429.4,385.97 L429.9,386.17 L430.4,386.41 L430.9,386.67 L431.4,386.94 L431.9,387.2 L432.4,387.45 L432.9,387.68 L433.4,387.87 L433.9,388.06 L434.4,388.24 L434.9,388.41 L435.4,388.59 L435.9,388.76 L436.4,388.93 L436.9,389.09 L437.4,389.25 L437.9,389.41 L438.4,389.57" fill="none" stroke="#3a3a3a" stroke-width="1.05" stroke-linejoin="round" />
<path d="M253.4,370.1 L253.9,370.04 L254.4,369.97 L254.9,369.89 L255.4,369.81 L255.9,369.72 L256.4,369.62 L256.9,369.53 L257.4,369.43 L257.9,369.32 L258.4,369.22 L258.9,369.12 L259.4,369.01 L259.9,368.88 L260.4,368.72 L260.9,368.48 L261.4,367.94 L261.9,367.17 L262.4,366.31 L262.9,365.51 L263.4,364.93 L263.9,364.7 L264.4,364.92 L264.9,365.43 L265.4,365.99 L265.9,366.36 L266.4,366.37 L266.9,366.2 L267.4,365.89 L267.9,365.45 L268.4,364.91 L268.9,364.29 L269.4,363.59 L269.9,362.84 L270.4,362.06 L270.9,361.26 L271.4,360.46 L271.9,359.63 L272.4,358.68 L272.9,357.61 L273.4,356.43 L273.9,355.16 L274.4,353.78 L274.9,352.33 L275.4,350.79 L275.9,349.17 L276.4,347.34 L276.9,345.27 L277.4,342.98 L277.9,340.51 L278.4,337.84 L278.9,334.85 L279.4,331.5 L279.9,327.66 L280.4,322.64 L280.9,316.81 L281.4,310.78 L281.9,305.18 L282.4,300.6 L282.9,297.63 L283.4,295.35 L283.9,293.29 L284.4,291.64 L284.9,290.58 L285.4,290.31 L285.9,290.48 L286.4,290.84 L286.9,291.34 L287.4,291.89 L287.9,292.44 L288.4,292.92 L288.9,293.3 L289.4,293.63 L289.9,293.95 L290.4,294.27 L290.9,294.62 L291.4,295.02 L291.9,295.5 L292.4,296.1 L292.9,296.83 L293.4,297.69 L293.9,298.63 L294.4,299.65 L294.9,300.72 L295.4,301.82 L295.9,303.04 L296.4,304.39 L296.9,305.85 L297.4,307.4 L297.9,309 L298.4,310.64 L298.9,312.27 L299.4,313.88 L299.9,315.44 L300.4,316.92 L300.9,318.33 L301.4,319.74 L301.9,321.15 L302.4,322.54 L302.9,323.92 L303.4,325.27 L303.9,326.59 L304.4,327.88 L304.9,329.12 L305.4,330.31 L305.9,331.45 L306.4,332.54 L306.9,333.6 L307.4,334.62 L307.9,335.6 L308.4,336.55 L308.9,337.46 L309.4,338.35 L309.9,339.24 L310.4,340.12 L310.9,340.97 L311.4,341.79 L311.9,342.56 L312.4,343.26 L312.9,343.89 L313.4,344.43 L313.9,344.93 L314.4,345.38 L314.9,345.8 L315.4,346.21 L315.9,346.6 L316.4,347 L316.9,347.41 L317.4,347.84 L317.9,348.27 L318.4,348.69 L318.9,349.11 L319.4,349.53 L319.9,349.95 L320.4,350.37 L320.9,350.79 L321.4,351.2 L321.9,351.62 L322.4,352.03 L322.9,352.45 L323.4,352.87 L323.9,353.28 L324.4,353.69 L324.9,354.1 L325.4,354.5 L325.9,354.9 L326.4,355.32 L326.9,355.74 L327.4,356.17 L327.9,356.61 L328.4,357.04 L328.9,357.48 L329.4,357.92 L329.9,358.35 L330.4,358.77 L330.9,359.19 L331.4,359.59 L331.9,359.98 L332.4,360.36 L332.9,360.71 L333.4,361.05 L333.9,361.36 L334.4,361.65 L334.9,361.91 L335.4,362.14 L335.9,362.34 L336.4,362.52 L336.9,362.71 L337.4,362.9 L337.9,363.08 L338.4,363.25 L338.9,363.43 L339.4,363.6 L339.9,363.76 L340.4,363.91 L340.9,364.06 L341.4,364.2 L341.9,364.33 L342.4,364.44 L342.9,364.55 L343.4,364.64 L343.9,364.72 L344.4,364.79 L344.9,364.84 L345.4,364.88 L345.9,364.9 L346.4,364.9 L346.9,364.87 L347.4,364.81 L347.9,364.73 L348.4,364.62 L348.9,364.48 L349.4,364.33 L349.9,364.16 L350.4,363.97 L350.9,363.76 L351.4,363.54 L351.9,363.31 L352.4,363.07 L352.9,362.83 L353.4,362.58 L353.9,362.33 L354.4,362.07 L354.9,361.82 L355.4,361.57 L355.9,361.33 L356.4,361.09 L356.9,360.85 L357.4,360.58 L357.9,360.26 L358.4,359.92 L358.9,359.56 L359.4,359.18 L359.9,358.8 L360.4,358.43 L360.9,358.07 L361.4,357.73 L361.9,357.42 L362.4,357.15 L362.9,356.92 L363.4,356.75 L363.9,356.64 L364.4,356.6 L364.9,356.62 L365.4,356.66 L365.9,356.73 L366.4,356.83 L366.9,356.95 L367.4,357.09 L367.9,357.25 L368.4,357.43 L368.9,357.61 L369.4,357.81 L369.9,358.02 L370.4,358.23 L370.9,358.45 L371.4,358.74 L371.9,359.12 L372.4,359.58 L372.9,360.1 L373.4,360.66 L373.9,361.24 L374.4,361.82 L374.9,362.4 L375.4,362.94 L375.9,363.43 L376.4,363.86 L376.9,364.2 L377.4,364.44 L377.9,364.65 L378.4,364.85 L378.9,365.03 L379.4,365.2 L379.9,365.33 L380.4,365.43 L380.9,365.49 L381.4,365.48 L381.9,365.3 L382.4,364.97 L382.9,364.52 L383.4,364 L383.9,363.46 L384.4,362.95 L384.9,362.51 L385.4,362.17 L385.9,361.84 L386.4,361.49 L386.9,361.15 L387.4,360.85 L387.9,360.59 L388.4,360.41 L388.9,360.31 L389.4,360.32 L389.9,360.4 L390.4,360.53 L390.9,360.68 L391.4,360.83 L391.9,360.94 L392.4,361 L392.9,360.86 L393.4,360.36 L393.9,359.55 L394.4,358.54 L394.9,357.41 L395.4,356.25 L395.9,355.14 L396.4,354.17 L396.9,353.29 L397.4,352.31 L397.9,351.28 L398.4,350.26 L398.9,349.3 L399.4,348.46 L399.9,347.81 L400.4,347.41 L400.9,347.31 L401.4,347.56 L401.9,348.1 L402.4,348.84 L402.9,349.69 L403.4,350.56 L403.9,351.36 L404.4,352.09 L404.9,352.86 L405.4,353.63 L405.9,354.36 L406.4,355.09 L406.9,355.91 L407.4,356.69 L407.9,357.32 L408.4,357.67 L408.9,357.68 L409.4,357.55 L409.9,357.33 L410.4,357.05 L410.9,356.75 L411.4,356.45 L411.9,356.17 L412.4,355.95 L412.9,355.82 L413.4,355.81 L413.9,355.88 L414.4,356.01 L414.9,356.19 L415.4,356.41 L415.9,356.65 L416.4,356.9 L416.9,357.13 L417.4,357.35 L417.9,357.52 L418.4,357.64 L418.9,357.7 L419.4,357.66 L419.9,357.49 L420.4,357.22 L420.9,356.88 L421.4,356.5 L421.9,356.1 L422.4,355.71 L422.9,355.35 L423.4,355.05 L423.9,354.8 L424.4,354.54 L424.9,354.27 L425.4,354 L425.9,353.76 L426.4,353.54 L426.9,353.37 L427.4,353.25 L427.9,353.2 L428.4,353.27 L428.9,353.56 L429.4,354.02 L429.9,354.63 L430.4,355.35 L430.9,356.14 L431.4,356.96 L431.9,357.79 L432.4,358.59 L432.9,359.31 L433.4,359.94 L433.9,360.55 L434.4,361.15 L434.9,361.76 L435.4,362.35 L435.9,362.95 L436.4,363.54 L436.9,364.13 L437.4,364.72 L437.9,365.3 L438.4,365.88" fill="none" stroke="#23923f" stroke-width="1.05" stroke-linejoin="round" />
<path d="M253.4,345.6 L253.9,345.58 L254.4,345.56 L254.9,345.52 L255.4,345.48 L255.9,345.44 L256.4,345.39 L256.9,345.33 L257.4,345.27 L257.9,345.21 L258.4,345.15 L258.9,345.08 L259.4,345 L259.9,344.9 L260.4,344.78 L260.9,344.62 L261.4,344.23 L261.9,343.67 L262.4,343.06 L262.9,342.48 L263.4,342.06 L263.9,341.9 L264.4,342.1 L264.9,342.55 L265.4,343.04 L265.9,343.37 L266.4,343.38 L266.9,343.29 L267.4,343.11 L267.9,342.86 L268.4,342.55 L268.9,342.19 L269.4,341.78 L269.9,341.34 L270.4,340.87 L270.9,340.39 L271.4,339.9 L271.9,339.39 L272.4,338.81 L272.9,338.16 L273.4,337.41 L273.9,336.57 L274.4,335.61 L274.9,334.52 L275.4,333.29 L275.9,331.89 L276.4,329.78 L276.9,326.94 L277.4,323.71 L277.9,320.43 L278.4,317.26 L278.9,313.97 L279.4,310.56 L279.9,307.01 L280.4,303.32 L280.9,299.49 L281.4,295.51 L281.9,290.91 L282.4,285.23 L282.9,279.38 L283.4,274.33 L283.9,271.02 L284.4,269.84 L284.9,269.01 L285.4,268.3 L285.9,267.73 L286.4,267.3 L286.9,267.02 L287.4,266.9 L287.9,266.93 L288.4,267.03 L288.9,267.21 L289.4,267.46 L289.9,267.77 L290.4,268.14 L290.9,268.56 L291.4,269.02 L291.9,269.53 L292.4,270.06 L292.9,270.66 L293.4,271.62 L293.9,272.93 L294.4,274.53 L294.9,276.32 L295.4,278.24 L295.9,280.21 L296.4,282.14 L296.9,283.96 L297.4,285.69 L297.9,287.5 L298.4,289.37 L298.9,291.28 L299.4,293.2 L299.9,295.11 L300.4,296.98 L300.9,298.78 L301.4,300.5 L301.9,302.11 L302.4,303.58 L302.9,304.97 L303.4,306.31 L303.9,307.59 L304.4,308.82 L304.9,310.02 L305.4,311.17 L305.9,312.28 L306.4,313.35 L306.9,314.39 L307.4,315.4 L307.9,316.39 L308.4,317.36 L308.9,318.3 L309.4,319.2 L309.9,320.04 L310.4,320.81 L310.9,321.5 L311.4,322.13 L311.9,322.72 L312.4,323.28 L312.9,323.81 L313.4,324.32 L313.9,324.8 L314.4,325.26 L314.9,325.7 L315.4,326.13 L315.9,326.54 L316.4,326.94 L316.9,327.3 L317.4,327.65 L317.9,327.97 L318.4,328.29 L318.9,328.6 L319.4,328.91 L319.9,329.22 L320.4,329.55 L320.9,329.9 L321.4,330.28 L321.9,330.69 L322.4,331.13 L322.9,331.59 L323.4,332.06 L323.9,332.52 L324.4,332.98 L324.9,333.4 L325.4,333.8 L325.9,334.18 L326.4,334.56 L326.9,334.94 L327.4,335.32 L327.9,335.7 L328.4,336.08 L328.9,336.45 L329.4,336.82 L329.9,337.18 L330.4,337.53 L330.9,337.87 L331.4,338.2 L331.9,338.51 L332.4,338.81 L332.9,339.09 L333.4,339.36 L333.9,339.6 L334.4,339.82 L334.9,340.01 L335.4,340.18 L335.9,340.33 L336.4,340.46 L336.9,340.59 L337.4,340.73 L337.9,340.85 L338.4,340.98 L338.9,341.1 L339.4,341.21 L339.9,341.33 L340.4,341.43 L340.9,341.53 L341.4,341.63 L341.9,341.71 L342.4,341.79 L342.9,341.87 L343.4,341.93 L343.9,341.98 L344.4,342.03 L344.9,342.06 L345.4,342.09 L345.9,342.1 L346.4,342.1 L346.9,342.06 L347.4,341.98 L347.9,341.87 L348.4,341.72 L348.9,341.54 L349.4,341.33 L349.9,341.09 L350.4,340.83 L350.9,340.54 L351.4,340.23 L351.9,339.91 L352.4,339.57 L352.9,339.21 L353.4,338.85 L353.9,338.47 L354.4,338.09 L354.9,337.71 L355.4,337.32 L355.9,336.93 L356.4,336.55 L356.9,336.16 L357.4,335.68 L357.9,335.14 L358.4,334.55 L358.9,333.93 L359.4,333.3 L359.9,332.67 L360.4,332.06 L360.9,331.5 L361.4,331 L361.9,330.57 L362.4,330.21 L362.9,329.83 L363.4,329.46 L363.9,329.1 L364.4,328.78 L364.9,328.5 L365.4,328.29 L365.9,328.15 L366.4,328.1 L366.9,328.16 L367.4,328.32 L367.9,328.58 L368.4,328.91 L368.9,329.31 L369.4,329.76 L369.9,330.25 L370.4,330.76 L370.9,331.28 L371.4,331.8 L371.9,332.31 L372.4,332.81 L372.9,333.44 L373.4,334.16 L373.9,334.94 L374.4,335.75 L374.9,336.54 L375.4,337.28 L375.9,337.94 L376.4,338.47 L376.9,338.84 L377.4,339.02 L377.9,339.13 L378.4,339.22 L378.9,339.31 L379.4,339.38 L379.9,339.44 L380.4,339.47 L380.9,339.5 L381.4,339.49 L381.9,339.33 L382.4,339.03 L382.9,338.63 L383.4,338.15 L383.9,337.64 L384.4,337.13 L384.9,336.65 L385.4,336.23 L385.9,335.75 L386.4,335.22 L386.9,334.67 L387.4,334.16 L387.9,333.72 L388.4,333.39 L388.9,333.22 L389.4,333.24 L389.9,333.47 L390.4,333.82 L390.9,334.23 L391.4,334.63 L391.9,334.94 L392.4,335.1 L392.9,334.94 L393.4,334.33 L393.9,333.38 L394.4,332.19 L394.9,330.87 L395.4,329.52 L395.9,328.26 L396.4,327.18 L396.9,326.26 L397.4,325.25 L397.9,324.21 L398.4,323.19 L398.9,322.24 L399.4,321.43 L399.9,320.79 L400.4,320.4 L400.9,320.31 L401.4,320.61 L401.9,321.25 L402.4,322.14 L402.9,323.18 L403.4,324.27 L403.9,325.31 L404.4,326.33 L404.9,327.49 L405.4,328.66 L405.9,329.71 L406.4,330.66 L406.9,331.67 L407.4,332.61 L407.9,333.35 L408.4,333.76 L408.9,333.76 L409.4,333.54 L409.9,333.18 L410.4,332.71 L410.9,332.2 L411.4,331.69 L411.9,331.22 L412.4,330.86 L412.9,330.64 L413.4,330.61 L413.9,330.7 L414.4,330.89 L414.9,331.14 L415.4,331.44 L415.9,331.77 L416.4,332.1 L416.9,332.42 L417.4,332.72 L417.9,332.95 L418.4,333.12 L418.9,333.2 L419.4,333.07 L419.9,332.61 L420.4,331.87 L420.9,330.96 L421.4,329.94 L421.9,328.91 L422.4,327.95 L422.9,327.14 L423.4,326.45 L423.9,325.71 L424.4,324.95 L424.9,324.19 L425.4,323.46 L425.9,322.8 L426.4,322.22 L426.9,321.76 L427.4,321.44 L427.9,321.3 L428.4,321.39 L428.9,321.7 L429.4,322.21 L429.9,322.86 L430.4,323.58 L430.9,324.35 L431.4,325.25 L431.9,326.49 L432.4,327.87 L432.9,329.2 L433.4,330.32 L433.9,331.37 L434.4,332.4 L434.9,333.4 L435.4,334.37 L435.9,335.3 L436.4,336.2 L436.9,337.06 L437.4,337.88 L437.9,338.65 L438.4,339.36" fill="none" stroke="#ec2a30" stroke-width="1.05" stroke-linejoin="round" />
<rect x="253.4" y="243.5" width="185" height="184.9" fill="none" stroke="#3a3a3a" stroke-width="1.0"/>
<line x1="253.4" y1="428.4" x2="253.4" y2="424.6" stroke="#3a3a3a" stroke-width="0.9" />
<text transform="translate(252.5,440.9) scale(1,1.0)" font-size="9.5" text-anchor="middle" fill="#222" >400</text>
<line x1="299.65" y1="428.4" x2="299.65" y2="424.6" stroke="#3a3a3a" stroke-width="0.9" />
<text transform="translate(298.75,440.9) scale(1,1.0)" font-size="9.5" text-anchor="middle" fill="#222" >600</text>
<line x1="345.9" y1="428.4" x2="345.9" y2="424.6" stroke="#3a3a3a" stroke-width="0.9" />
<text transform="translate(345,440.9) scale(1,1.0)" font-size="9.5" text-anchor="middle" fill="#222" >800</text>
<line x1="392.15" y1="428.4" x2="392.15" y2="424.6" stroke="#3a3a3a" stroke-width="0.9" />
<text transform="translate(391.25,440.9) scale(1,1.0)" font-size="9.5" text-anchor="middle" fill="#222" >1000</text>
<line x1="438.4" y1="428.4" x2="438.4" y2="424.6" stroke="#3a3a3a" stroke-width="0.9" />
<text transform="translate(437.5,440.9) scale(1,1.0)" font-size="9.5" text-anchor="middle" fill="#222" >1200</text>
<text transform="translate(242.1,339.6) rotate(-90) scale(1.08,1)" font-size="9.45" text-anchor="middle" fill="#222" >Intensity (a.u.)</text>
<text transform="translate(342.8,457.8) scale(1,1.0)" font-size="9.5" text-anchor="middle" fill="#222" >Wavenumber (cm<tspan font-size="5.6" dy="-3.4">–1</tspan><tspan dy="3.4">)</tspan></text>
<text transform="translate(434.9,257.3) scale(1,1.0)" font-size="9.5" text-anchor="end" fill="#333" ><tspan>Na</tspan><tspan font-size="5.8" dy="2.8">3</tspan><tspan dy="-2.8">PS</tspan><tspan font-size="5.8" dy="2.8" font-style="italic">4–x</tspan><tspan dy="-2.8">O</tspan><tspan font-size="5.8" dy="2.8" font-style="italic">x</tspan></text>
<text transform="translate(411.6,294.9) scale(1,1.0)" font-size="9.5" text-anchor="middle" fill="#222" >P–O or P=O</text>
<text transform="translate(290.4,262.6) scale(1,1.0)" font-size="9.5" text-anchor="middle" fill="#222" >P–S</text>
<text transform="translate(353,322.9) scale(1,1.0)" font-size="9.5" text-anchor="middle" fill="#222" >P–O–P</text>
<text transform="translate(436.6,319.5) scale(1,1.0)" font-size="9.5" text-anchor="end" fill="#ec2a30" ><tspan font-style="italic">x</tspan> = 0.60</text>
<text transform="translate(436.6,350.6) scale(1,1.0)" font-size="9.5" text-anchor="end" fill="#8c6a45" ><tspan font-style="italic">x</tspan> = 0.30</text>
<text transform="translate(436.6,377.9) scale(1,1.0)" font-size="9.5" text-anchor="end" fill="#2b3a8f" ><tspan font-style="italic">x</tspan> = 0.15</text>
<text transform="translate(436.6,400.8) scale(1,1.0)" font-size="9.5" text-anchor="end" fill="#111111" ><tspan font-style="italic">x</tspan> = 0.00</text>
<clipPath id="cp1"><rect x="480.4" y="243.95" width="88" height="87.55"/></clipPath>
<g clip-path="url(#cp1)">
<path d="M480.4,322.89 L480.9,322.9 L481.4,322.92 L481.9,322.93 L482.4,322.95 L482.9,322.96 L483.4,322.98 L483.9,322.99 L484.4,323.01 L484.9,323.02 L485.4,323.03 L485.9,323.05 L486.4,323.06 L486.9,323.08 L487.4,323.09 L487.9,323.11 L488.4,323.12 L488.9,323.14 L489.4,323.15 L489.9,323.16 L490.4,323.18 L490.9,323.19 L491.4,323.2 L491.9,323.22 L492.4,323.23 L492.9,323.24 L493.4,323.26 L493.9,323.27 L494.4,323.28 L494.9,323.3 L495.4,323.31 L495.9,323.32 L496.4,323.34 L496.9,323.35 L497.4,323.36 L497.9,323.37 L498.4,323.38 L498.9,323.39 L499.4,323.41 L499.9,323.42 L500.4,323.43 L500.9,323.44 L501.4,323.45 L501.9,323.46 L502.4,323.47 L502.9,323.48 L503.4,323.49 L503.9,323.5 L504.4,323.51 L504.9,323.52 L505.4,323.52 L505.9,323.53 L506.4,323.54 L506.9,323.55 L507.4,323.55 L507.9,323.56 L508.4,323.57 L508.9,323.57 L509.4,323.58 L509.9,323.58 L510.4,323.58 L510.9,323.59 L511.4,323.59 L511.9,323.59 L512.4,323.59 L512.9,323.59 L513.4,323.59 L513.9,323.59 L514.4,323.58 L514.9,323.58 L515.4,323.57 L515.9,323.56 L516.4,323.55 L516.9,323.54 L517.4,323.52 L517.9,323.5 L518.4,323.48 L518.9,323.45 L519.4,323.42 L519.9,323.38 L520.4,323.32 L520.9,323.26 L521.4,323.19 L521.9,323.1 L522.4,322.99 L522.9,322.85 L523.4,322.69 L523.9,322.5 L524.4,322.26 L524.9,321.99 L525.4,321.66 L525.9,321.27 L526.4,320.82 L526.9,320.29 L527.4,319.68 L527.9,318.98 L528.4,318.17 L528.9,317.26 L529.4,316.24 L529.9,315.1 L530.4,313.84 L530.9,312.45 L531.4,310.94 L531.9,309.32 L532.4,307.58 L532.9,305.74 L533.4,303.81 L533.9,301.8 L534.4,299.75 L534.9,297.67 L535.4,295.58 L535.9,293.53 L536.4,291.54 L536.9,289.65 L537.4,287.9 L537.9,286.32 L538.4,284.95 L538.9,283.84 L539.4,283 L539.9,282.46 L540.4,282.25 L540.9,282.37 L541.4,282.81 L541.9,283.56 L542.4,284.61 L542.9,285.91 L543.4,287.44 L543.9,289.16 L544.4,291.04 L544.9,293.03 L545.4,295.09 L545.9,297.2 L546.4,299.32 L546.9,301.42 L547.4,303.48 L547.9,305.48 L548.4,307.39 L548.9,309.21 L549.4,310.91 L549.9,312.5 L550.4,313.97 L550.9,315.32 L551.4,316.54 L551.9,317.65 L552.4,318.63 L552.9,319.51 L553.4,320.29 L553.9,320.97 L554.4,321.56 L554.9,322.08 L555.4,322.53 L555.9,322.91 L556.4,323.24 L556.9,323.53 L557.4,323.77 L557.9,323.98 L558.4,324.16 L558.9,324.31 L559.4,324.44 L559.9,324.56 L560.4,324.66 L560.9,324.75 L561.4,324.83 L561.9,324.9 L562.4,324.96 L562.9,325.02 L563.4,325.08 L563.9,325.13 L564.4,325.18 L564.9,325.22 L565.4,325.27 L565.9,325.31 L566.4,325.35 L566.9,325.38 L567.4,325.42 L567.9,325.46 L568.4,325.49 L568.4,326 L567.9,325.98 L567.4,325.97 L566.9,325.95 L566.4,325.93 L565.9,325.91 L565.4,325.9 L564.9,325.88 L564.4,325.86 L563.9,325.85 L563.4,325.83 L562.9,325.81 L562.4,325.8 L561.9,325.78 L561.4,325.76 L560.9,325.74 L560.4,325.73 L559.9,325.71 L559.4,325.69 L558.9,325.68 L558.4,325.66 L557.9,325.64 L557.4,325.62 L556.9,325.61 L556.4,325.59 L555.9,325.57 L555.4,325.56 L554.9,325.54 L554.4,325.52 L553.9,325.51 L553.4,325.49 L552.9,325.47 L552.4,325.45 L551.9,325.44 L551.4,325.42 L550.9,325.4 L550.4,325.39 L549.9,325.37 L549.4,325.35 L548.9,325.34 L548.4,325.32 L547.9,325.3 L547.4,325.28 L546.9,325.27 L546.4,325.25 L545.9,325.23 L545.4,325.22 L544.9,325.2 L544.4,325.18 L543.9,325.16 L543.4,325.15 L542.9,325.13 L542.4,325.11 L541.9,325.1 L541.4,325.08 L540.9,325.06 L540.4,325.05 L539.9,325.03 L539.4,325.01 L538.9,324.99 L538.4,324.98 L537.9,324.96 L537.4,324.94 L536.9,324.93 L536.4,324.91 L535.9,324.89 L535.4,324.88 L534.9,324.86 L534.4,324.84 L533.9,324.82 L533.4,324.81 L532.9,324.79 L532.4,324.77 L531.9,324.76 L531.4,324.74 L530.9,324.72 L530.4,324.7 L529.9,324.69 L529.4,324.67 L528.9,324.65 L528.4,324.64 L527.9,324.62 L527.4,324.6 L526.9,324.59 L526.4,324.57 L525.9,324.55 L525.4,324.53 L524.9,324.52 L524.4,324.5 L523.9,324.48 L523.4,324.47 L522.9,324.45 L522.4,324.43 L521.9,324.41 L521.4,324.4 L520.9,324.38 L520.4,324.36 L519.9,324.35 L519.4,324.33 L518.9,324.31 L518.4,324.3 L517.9,324.28 L517.4,324.26 L516.9,324.24 L516.4,324.23 L515.9,324.21 L515.4,324.19 L514.9,324.18 L514.4,324.16 L513.9,324.14 L513.4,324.12 L512.9,324.11 L512.4,324.09 L511.9,324.07 L511.4,324.06 L510.9,324.04 L510.4,324.02 L509.9,324.01 L509.4,323.99 L508.9,323.97 L508.4,323.95 L507.9,323.94 L507.4,323.92 L506.9,323.9 L506.4,323.89 L505.9,323.87 L505.4,323.85 L504.9,323.84 L504.4,323.82 L503.9,323.8 L503.4,323.78 L502.9,323.77 L502.4,323.75 L501.9,323.73 L501.4,323.72 L500.9,323.7 L500.4,323.68 L499.9,323.66 L499.4,323.65 L498.9,323.63 L498.4,323.61 L497.9,323.6 L497.4,323.58 L496.9,323.56 L496.4,323.55 L495.9,323.53 L495.4,323.51 L494.9,323.49 L494.4,323.48 L493.9,323.46 L493.4,323.44 L492.9,323.43 L492.4,323.41 L491.9,323.39 L491.4,323.38 L490.9,323.36 L490.4,323.34 L489.9,323.32 L489.4,323.31 L488.9,323.29 L488.4,323.27 L487.9,323.26 L487.4,323.24 L486.9,323.22 L486.4,323.2 L485.9,323.19 L485.4,323.17 L484.9,323.15 L484.4,323.14 L483.9,323.12 L483.4,323.1 L482.9,323.09 L482.4,323.07 L481.9,323.05 L481.4,323.03 L480.9,323.02 L480.4,323 Z" fill="#dcc07e" stroke="none"/>
<path d="M480.4,322.92 L480.9,322.94 L481.4,322.96 L481.9,322.97 L482.4,322.99 L482.9,323 L483.4,323.02 L483.9,323.03 L484.4,323.05 L484.9,323.06 L485.4,323.08 L485.9,323.09 L486.4,323.11 L486.9,323.12 L487.4,323.14 L487.9,323.15 L488.4,323.16 L488.9,323.18 L489.4,323.19 L489.9,323.21 L490.4,323.22 L490.9,323.24 L491.4,323.25 L491.9,323.26 L492.4,323.28 L492.9,323.29 L493.4,323.3 L493.9,323.32 L494.4,323.33 L494.9,323.34 L495.4,323.35 L495.9,323.37 L496.4,323.38 L496.9,323.39 L497.4,323.4 L497.9,323.41 L498.4,323.42 L498.9,323.43 L499.4,323.44 L499.9,323.45 L500.4,323.46 L500.9,323.47 L501.4,323.48 L501.9,323.49 L502.4,323.49 L502.9,323.5 L503.4,323.5 L503.9,323.51 L504.4,323.51 L504.9,323.51 L505.4,323.51 L505.9,323.51 L506.4,323.5 L506.9,323.49 L507.4,323.48 L507.9,323.47 L508.4,323.45 L508.9,323.43 L509.4,323.4 L509.9,323.37 L510.4,323.33 L510.9,323.29 L511.4,323.23 L511.9,323.18 L512.4,323.11 L512.9,323.03 L513.4,322.95 L513.9,322.86 L514.4,322.75 L514.9,322.64 L515.4,322.52 L515.9,322.38 L516.4,322.24 L516.9,322.08 L517.4,321.91 L517.9,321.74 L518.4,321.55 L518.9,321.36 L519.4,321.15 L519.9,320.94 L520.4,320.73 L520.9,320.51 L521.4,320.29 L521.9,320.08 L522.4,319.86 L522.9,319.65 L523.4,319.46 L523.9,319.27 L524.4,319.1 L524.9,318.95 L525.4,318.82 L525.9,318.72 L526.4,318.65 L526.9,318.61 L527.4,318.6 L527.9,318.63 L528.4,318.69 L528.9,318.78 L529.4,318.91 L529.9,319.06 L530.4,319.23 L530.9,319.43 L531.4,319.64 L531.9,319.87 L532.4,320.11 L532.9,320.36 L533.4,320.61 L533.9,320.86 L534.4,321.11 L534.9,321.36 L535.4,321.61 L535.9,321.85 L536.4,322.08 L536.9,322.3 L537.4,322.52 L537.9,322.72 L538.4,322.92 L538.9,323.1 L539.4,323.28 L539.9,323.44 L540.4,323.59 L540.9,323.73 L541.4,323.86 L541.9,323.98 L542.4,324.1 L542.9,324.2 L543.4,324.3 L543.9,324.38 L544.4,324.46 L544.9,324.54 L545.4,324.61 L545.9,324.67 L546.4,324.73 L546.9,324.78 L547.4,324.83 L547.9,324.88 L548.4,324.92 L548.9,324.96 L549.4,325 L549.9,325.04 L550.4,325.07 L550.9,325.1 L551.4,325.14 L551.9,325.17 L552.4,325.19 L552.9,325.22 L553.4,325.25 L553.9,325.28 L554.4,325.3 L554.9,325.33 L555.4,325.35 L555.9,325.37 L556.4,325.4 L556.9,325.42 L557.4,325.44 L557.9,325.47 L558.4,325.49 L558.9,325.51 L559.4,325.53 L559.9,325.56 L560.4,325.58 L560.9,325.6 L561.4,325.62 L561.9,325.64 L562.4,325.66 L562.9,325.68 L563.4,325.7 L563.9,325.72 L564.4,325.74 L564.9,325.76 L565.4,325.78 L565.9,325.8 L566.4,325.82 L566.9,325.84 L567.4,325.86 L567.9,325.88 L568.4,325.9 L568.4,326 L567.9,325.98 L567.4,325.97 L566.9,325.95 L566.4,325.93 L565.9,325.91 L565.4,325.9 L564.9,325.88 L564.4,325.86 L563.9,325.85 L563.4,325.83 L562.9,325.81 L562.4,325.8 L561.9,325.78 L561.4,325.76 L560.9,325.74 L560.4,325.73 L559.9,325.71 L559.4,325.69 L558.9,325.68 L558.4,325.66 L557.9,325.64 L557.4,325.62 L556.9,325.61 L556.4,325.59 L555.9,325.57 L555.4,325.56 L554.9,325.54 L554.4,325.52 L553.9,325.51 L553.4,325.49 L552.9,325.47 L552.4,325.45 L551.9,325.44 L551.4,325.42 L550.9,325.4 L550.4,325.39 L549.9,325.37 L549.4,325.35 L548.9,325.34 L548.4,325.32 L547.9,325.3 L547.4,325.28 L546.9,325.27 L546.4,325.25 L545.9,325.23 L545.4,325.22 L544.9,325.2 L544.4,325.18 L543.9,325.16 L543.4,325.15 L542.9,325.13 L542.4,325.11 L541.9,325.1 L541.4,325.08 L540.9,325.06 L540.4,325.05 L539.9,325.03 L539.4,325.01 L538.9,324.99 L538.4,324.98 L537.9,324.96 L537.4,324.94 L536.9,324.93 L536.4,324.91 L535.9,324.89 L535.4,324.88 L534.9,324.86 L534.4,324.84 L533.9,324.82 L533.4,324.81 L532.9,324.79 L532.4,324.77 L531.9,324.76 L531.4,324.74 L530.9,324.72 L530.4,324.7 L529.9,324.69 L529.4,324.67 L528.9,324.65 L528.4,324.64 L527.9,324.62 L527.4,324.6 L526.9,324.59 L526.4,324.57 L525.9,324.55 L525.4,324.53 L524.9,324.52 L524.4,324.5 L523.9,324.48 L523.4,324.47 L522.9,324.45 L522.4,324.43 L521.9,324.41 L521.4,324.4 L520.9,324.38 L520.4,324.36 L519.9,324.35 L519.4,324.33 L518.9,324.31 L518.4,324.3 L517.9,324.28 L517.4,324.26 L516.9,324.24 L516.4,324.23 L515.9,324.21 L515.4,324.19 L514.9,324.18 L514.4,324.16 L513.9,324.14 L513.4,324.12 L512.9,324.11 L512.4,324.09 L511.9,324.07 L511.4,324.06 L510.9,324.04 L510.4,324.02 L509.9,324.01 L509.4,323.99 L508.9,323.97 L508.4,323.95 L507.9,323.94 L507.4,323.92 L506.9,323.9 L506.4,323.89 L505.9,323.87 L505.4,323.85 L504.9,323.84 L504.4,323.82 L503.9,323.8 L503.4,323.78 L502.9,323.77 L502.4,323.75 L501.9,323.73 L501.4,323.72 L500.9,323.7 L500.4,323.68 L499.9,323.66 L499.4,323.65 L498.9,323.63 L498.4,323.61 L497.9,323.6 L497.4,323.58 L496.9,323.56 L496.4,323.55 L495.9,323.53 L495.4,323.51 L494.9,323.49 L494.4,323.48 L493.9,323.46 L493.4,323.44 L492.9,323.43 L492.4,323.41 L491.9,323.39 L491.4,323.38 L490.9,323.36 L490.4,323.34 L489.9,323.32 L489.4,323.31 L488.9,323.29 L488.4,323.27 L487.9,323.26 L487.4,323.24 L486.9,323.22 L486.4,323.2 L485.9,323.19 L485.4,323.17 L484.9,323.15 L484.4,323.14 L483.9,323.12 L483.4,323.1 L482.9,323.09 L482.4,323.07 L481.9,323.05 L481.4,323.03 L480.9,323.02 L480.4,323 Z" fill="#e83236" stroke="none"/>
<path d="M480.4,322.78 L480.9,322.77 L481.4,322.76 L481.9,322.75 L482.4,322.73 L482.9,322.71 L483.4,322.69 L483.9,322.66 L484.4,322.63 L484.9,322.6 L485.4,322.55 L485.9,322.51 L486.4,322.46 L486.9,322.4 L487.4,322.33 L487.9,322.26 L488.4,322.18 L488.9,322.1 L489.4,322.01 L489.9,321.91 L490.4,321.81 L490.9,321.7 L491.4,321.58 L491.9,321.46 L492.4,321.33 L492.9,321.19 L493.4,321.05 L493.9,320.91 L494.4,320.76 L494.9,320.61 L495.4,320.45 L495.9,320.3 L496.4,320.14 L496.9,319.98 L497.4,319.82 L497.9,319.67 L498.4,319.52 L498.9,319.37 L499.4,319.23 L499.9,319.09 L500.4,318.96 L500.9,318.85 L501.4,318.74 L501.9,318.64 L502.4,318.56 L502.9,318.48 L503.4,318.43 L503.9,318.38 L504.4,318.36 L504.9,318.35 L505.4,318.35 L505.9,318.37 L506.4,318.41 L506.9,318.47 L507.4,318.54 L507.9,318.62 L508.4,318.72 L508.9,318.84 L509.4,318.96 L509.9,319.1 L510.4,319.25 L510.9,319.41 L511.4,319.57 L511.9,319.75 L512.4,319.93 L512.9,320.11 L513.4,320.3 L513.9,320.49 L514.4,320.68 L514.9,320.87 L515.4,321.07 L515.9,321.26 L516.4,321.44 L516.9,321.63 L517.4,321.81 L517.9,321.98 L518.4,322.16 L518.9,322.32 L519.4,322.48 L519.9,322.63 L520.4,322.78 L520.9,322.92 L521.4,323.06 L521.9,323.18 L522.4,323.3 L522.9,323.42 L523.4,323.53 L523.9,323.63 L524.4,323.72 L524.9,323.81 L525.4,323.89 L525.9,323.97 L526.4,324.04 L526.9,324.11 L527.4,324.17 L527.9,324.23 L528.4,324.29 L528.9,324.34 L529.4,324.39 L529.9,324.43 L530.4,324.47 L530.9,324.51" fill="none" stroke="#2a4fa0" stroke-width="0.9"/>
<path d="M499.4,323.44 L499.9,323.45 L500.4,323.46 L500.9,323.47 L501.4,323.48 L501.9,323.49 L502.4,323.49 L502.9,323.5 L503.4,323.5 L503.9,323.51 L504.4,323.51 L504.9,323.51 L505.4,323.51 L505.9,323.51 L506.4,323.5 L506.9,323.49 L507.4,323.48 L507.9,323.47 L508.4,323.45 L508.9,323.43 L509.4,323.4 L509.9,323.37 L510.4,323.33 L510.9,323.29 L511.4,323.23 L511.9,323.18 L512.4,323.11 L512.9,323.03 L513.4,322.95 L513.9,322.86 L514.4,322.75 L514.9,322.64 L515.4,322.52 L515.9,322.38 L516.4,322.24 L516.9,322.08 L517.4,321.91 L517.9,321.74 L518.4,321.55 L518.9,321.36 L519.4,321.15 L519.9,320.94 L520.4,320.73 L520.9,320.51 L521.4,320.29 L521.9,320.08 L522.4,319.86 L522.9,319.65 L523.4,319.46 L523.9,319.27 L524.4,319.1 L524.9,318.95 L525.4,318.82 L525.9,318.72 L526.4,318.65 L526.9,318.61 L527.4,318.6 L527.9,318.63 L528.4,318.69 L528.9,318.78 L529.4,318.91 L529.9,319.06 L530.4,319.23 L530.9,319.43 L531.4,319.64 L531.9,319.87 L532.4,320.11 L532.9,320.36 L533.4,320.61 L533.9,320.86 L534.4,321.11 L534.9,321.36 L535.4,321.61 L535.9,321.85 L536.4,322.08 L536.9,322.3 L537.4,322.52 L537.9,322.72 L538.4,322.92 L538.9,323.1 L539.4,323.28 L539.9,323.44 L540.4,323.59 L540.9,323.73 L541.4,323.86 L541.9,323.98 L542.4,324.1 L542.9,324.2 L543.4,324.3 L543.9,324.38 L544.4,324.46 L544.9,324.54 L545.4,324.61 L545.9,324.67 L546.4,324.73 L546.9,324.78 L547.4,324.83 L547.9,324.88 L548.4,324.92 L548.9,324.96 L549.4,325 L549.9,325.04 L550.4,325.07 L550.9,325.1 L551.4,325.14 L551.9,325.17 L552.4,325.19 L552.9,325.22 L553.4,325.25 L553.9,325.28 L554.4,325.3 L554.9,325.33 L555.4,325.35" fill="none" stroke="#a24c9c" stroke-width="0.6"/>
<path d="M495.4,323.31 L495.9,323.32 L496.4,323.34 L496.9,323.35 L497.4,323.36 L497.9,323.37 L498.4,323.38 L498.9,323.39 L499.4,323.41 L499.9,323.42 L500.4,323.43 L500.9,323.44 L501.4,323.45 L501.9,323.46 L502.4,323.47 L502.9,323.48 L503.4,323.49 L503.9,323.5 L504.4,323.51 L504.9,323.52 L505.4,323.52 L505.9,323.53 L506.4,323.54 L506.9,323.55 L507.4,323.55 L507.9,323.56 L508.4,323.57 L508.9,323.57 L509.4,323.58 L509.9,323.58 L510.4,323.58 L510.9,323.59 L511.4,323.59 L511.9,323.59 L512.4,323.59 L512.9,323.59 L513.4,323.59 L513.9,323.59 L514.4,323.58 L514.9,323.58 L515.4,323.57 L515.9,323.56 L516.4,323.55 L516.9,323.54 L517.4,323.52 L517.9,323.5 L518.4,323.48 L518.9,323.45 L519.4,323.42 L519.9,323.38 L520.4,323.32 L520.9,323.26 L521.4,323.19 L521.9,323.1 L522.4,322.99 L522.9,322.85 L523.4,322.69 L523.9,322.5 L524.4,322.26 L524.9,321.99 L525.4,321.66 L525.9,321.27 L526.4,320.82 L526.9,320.29 L527.4,319.68 L527.9,318.98 L528.4,318.17 L528.9,317.26 L529.4,316.24 L529.9,315.1 L530.4,313.84 L530.9,312.45 L531.4,310.94 L531.9,309.32 L532.4,307.58 L532.9,305.74 L533.4,303.81 L533.9,301.8 L534.4,299.75 L534.9,297.67 L535.4,295.58 L535.9,293.53 L536.4,291.54 L536.9,289.65 L537.4,287.9 L537.9,286.32 L538.4,284.95 L538.9,283.84 L539.4,283 L539.9,282.46 L540.4,282.25 L540.9,282.37 L541.4,282.81 L541.9,283.56 L542.4,284.61 L542.9,285.91 L543.4,287.44 L543.9,289.16 L544.4,291.04 L544.9,293.03 L545.4,295.09 L545.9,297.2 L546.4,299.32 L546.9,301.42 L547.4,303.48 L547.9,305.48 L548.4,307.39 L548.9,309.21 L549.4,310.91 L549.9,312.5 L550.4,313.97 L550.9,315.32 L551.4,316.54 L551.9,317.65 L552.4,318.63 L552.9,319.51 L553.4,320.29 L553.9,320.97 L554.4,321.56 L554.9,322.08 L555.4,322.53 L555.9,322.91 L556.4,323.24 L556.9,323.53 L557.4,323.77 L557.9,323.98 L558.4,324.16 L558.9,324.31 L559.4,324.44 L559.9,324.56 L560.4,324.66 L560.9,324.75 L561.4,324.83 L561.9,324.9 L562.4,324.96 L562.9,325.02 L563.4,325.08 L563.9,325.13 L564.4,325.18 L564.9,325.22 L565.4,325.27 L565.9,325.31 L566.4,325.35 L566.9,325.38 L567.4,325.42 L567.9,325.46 L568.4,325.49" fill="none" stroke="#5cc3cf" stroke-width="0.8"/>
<path d="M480.4,323 L480.9,323.02 L481.4,323.03 L481.9,323.05 L482.4,323.07 L482.9,323.09 L483.4,323.1 L483.9,323.12 L484.4,323.14 L484.9,323.15 L485.4,323.17 L485.9,323.19 L486.4,323.2 L486.9,323.22 L487.4,323.24 L487.9,323.26 L488.4,323.27 L488.9,323.29 L489.4,323.31 L489.9,323.32 L490.4,323.34 L490.9,323.36 L491.4,323.38 L491.9,323.39 L492.4,323.41 L492.9,323.43 L493.4,323.44 L493.9,323.46 L494.4,323.48 L494.9,323.49 L495.4,323.51 L495.9,323.53 L496.4,323.55 L496.9,323.56 L497.4,323.58 L497.9,323.6 L498.4,323.61 L498.9,323.63 L499.4,323.65 L499.9,323.66 L500.4,323.68 L500.9,323.7 L501.4,323.72 L501.9,323.73 L502.4,323.75 L502.9,323.77 L503.4,323.78 L503.9,323.8 L504.4,323.82 L504.9,323.84 L505.4,323.85 L505.9,323.87 L506.4,323.89 L506.9,323.9 L507.4,323.92 L507.9,323.94 L508.4,323.95 L508.9,323.97 L509.4,323.99 L509.9,324.01 L510.4,324.02 L510.9,324.04 L511.4,324.06 L511.9,324.07 L512.4,324.09 L512.9,324.11 L513.4,324.12 L513.9,324.14 L514.4,324.16 L514.9,324.18 L515.4,324.19 L515.9,324.21 L516.4,324.23 L516.9,324.24 L517.4,324.26 L517.9,324.28 L518.4,324.3 L518.9,324.31 L519.4,324.33 L519.9,324.35 L520.4,324.36 L520.9,324.38 L521.4,324.4 L521.9,324.41 L522.4,324.43 L522.9,324.45 L523.4,324.47 L523.9,324.48 L524.4,324.5 L524.9,324.52 L525.4,324.53 L525.9,324.55 L526.4,324.57 L526.9,324.59 L527.4,324.6 L527.9,324.62 L528.4,324.64 L528.9,324.65 L529.4,324.67 L529.9,324.69 L530.4,324.7 L530.9,324.72 L531.4,324.74 L531.9,324.76 L532.4,324.77 L532.9,324.79 L533.4,324.81 L533.9,324.82 L534.4,324.84 L534.9,324.86 L535.4,324.88 L535.9,324.89 L536.4,324.91 L536.9,324.93 L537.4,324.94 L537.9,324.96 L538.4,324.98 L538.9,324.99 L539.4,325.01 L539.9,325.03 L540.4,325.05 L540.9,325.06 L541.4,325.08 L541.9,325.1 L542.4,325.11 L542.9,325.13 L543.4,325.15 L543.9,325.16 L544.4,325.18 L544.9,325.2 L545.4,325.22 L545.9,325.23 L546.4,325.25 L546.9,325.27 L547.4,325.28 L547.9,325.3 L548.4,325.32 L548.9,325.34 L549.4,325.35 L549.9,325.37 L550.4,325.39 L550.9,325.4 L551.4,325.42 L551.9,325.44 L552.4,325.45 L552.9,325.47 L553.4,325.49 L553.9,325.51 L554.4,325.52 L554.9,325.54 L555.4,325.56 L555.9,325.57 L556.4,325.59 L556.9,325.61 L557.4,325.62 L557.9,325.64 L558.4,325.66 L558.9,325.68 L559.4,325.69 L559.9,325.71 L560.4,325.73 L560.9,325.74 L561.4,325.76 L561.9,325.78 L562.4,325.8 L562.9,325.81 L563.4,325.83 L563.9,325.85 L564.4,325.86 L564.9,325.88 L565.4,325.9 L565.9,325.91 L566.4,325.93 L566.9,325.95 L567.4,325.97 L567.9,325.98 L568.4,326" fill="none" stroke="#a35fb5" stroke-width="0.9"/>

<g fill="none" stroke="#000" stroke-width="0.75">
<circle cx="480.7" cy="322.3" r="1.05"/>
<circle cx="481.7" cy="321.86" r="1.05"/>
<circle cx="482.7" cy="321.7" r="1.05"/>
<circle cx="483.7" cy="321.47" r="1.05"/>
<circle cx="484.7" cy="321.53" r="1.05"/>
<circle cx="485.7" cy="320.98" r="1.05"/>
<circle cx="486.7" cy="321.29" r="1.05"/>
<circle cx="487.7" cy="320.81" r="1.05"/>
<circle cx="488.7" cy="320.77" r="1.05"/>
<circle cx="489.7" cy="320.53" r="1.05"/>
<circle cx="490.7" cy="320.56" r="1.05"/>
<circle cx="491.7" cy="319.95" r="1.05"/>
<circle cx="492.7" cy="319.96" r="1.05"/>
<circle cx="493.7" cy="319.75" r="1.05"/>
<circle cx="494.7" cy="319.69" r="1.05"/>
<circle cx="495.7" cy="319.17" r="1.05"/>
<circle cx="496.7" cy="319.02" r="1.05"/>
<circle cx="497.7" cy="318.68" r="1.05"/>
<circle cx="498.7" cy="318.56" r="1.05"/>
<circle cx="499.7" cy="318.42" r="1.05"/>
<circle cx="500.7" cy="318.05" r="1.05"/>
<circle cx="501.7" cy="318.14" r="1.05"/>
<circle cx="502.7" cy="317.94" r="1.05"/>
<circle cx="503.7" cy="317.76" r="1.05"/>
<circle cx="504.7" cy="317.72" r="1.05"/>
<circle cx="505.7" cy="317.52" r="1.05"/>
<circle cx="506.7" cy="317.63" r="1.05"/>
<circle cx="507.7" cy="317.59" r="1.05"/>
<circle cx="508.7" cy="317.76" r="1.05"/>
<circle cx="509.7" cy="317.95" r="1.05"/>
<circle cx="510.7" cy="317.89" r="1.05"/>
<circle cx="511.7" cy="318.02" r="1.05"/>
<circle cx="512.7" cy="318.09" r="1.05"/>
<circle cx="513.7" cy="318.2" r="1.05"/>
<circle cx="514.7" cy="318.34" r="1.05"/>
<circle cx="515.7" cy="318.51" r="1.05"/>
<circle cx="516.7" cy="318.45" r="1.05"/>
<circle cx="517.7" cy="318.63" r="1.05"/>
<circle cx="518.7" cy="318.74" r="1.05"/>
<circle cx="519.7" cy="318.51" r="1.05"/>
<circle cx="520.7" cy="318.23" r="1.05"/>
<circle cx="521.7" cy="317.85" r="1.05"/>
<circle cx="522.7" cy="317.26" r="1.05"/>
<circle cx="523.7" cy="316.83" r="1.05"/>
<circle cx="524.7" cy="315.79" r="1.05"/>
<circle cx="525.7" cy="314.73" r="1.05"/>
<circle cx="526.7" cy="313.8" r="1.05"/>
<circle cx="527.7" cy="312.89" r="1.05"/>
<circle cx="528.7" cy="311.2" r="1.05"/>
<circle cx="529.7" cy="309.41" r="1.05"/>
<circle cx="530.7" cy="307" r="1.05"/>
<circle cx="531.7" cy="303.43" r="1.05"/>
<circle cx="532.7" cy="299.49" r="1.05"/>
<circle cx="533.7" cy="295.75" r="1.05"/>
<circle cx="534.7" cy="292.01" r="1.05"/>
<circle cx="535.7" cy="288.77" r="1.05"/>
<circle cx="536.7" cy="285.74" r="1.05"/>
<circle cx="537.7" cy="283.11" r="1.05"/>
<circle cx="538.7" cy="280.58" r="1.05"/>
<circle cx="539.7" cy="279.24" r="1.05"/>
<circle cx="540.7" cy="278.52" r="1.05"/>
<circle cx="541.7" cy="279.28" r="1.05"/>
<circle cx="542.7" cy="280.46" r="1.05"/>
<circle cx="543.7" cy="282.74" r="1.05"/>
<circle cx="544.7" cy="285.61" r="1.05"/>
<circle cx="545.7" cy="288.57" r="1.05"/>
<circle cx="546.7" cy="292.08" r="1.05"/>
<circle cx="547.7" cy="295.84" r="1.05"/>
<circle cx="548.7" cy="300.04" r="1.05"/>
<circle cx="549.7" cy="303.6" r="1.05"/>
<circle cx="550.7" cy="307.47" r="1.05"/>
<circle cx="551.7" cy="311.12" r="1.05"/>
<circle cx="552.7" cy="314.25" r="1.05"/>
<circle cx="553.7" cy="316.96" r="1.05"/>
<circle cx="554.7" cy="318.9" r="1.05"/>
<circle cx="555.7" cy="320.29" r="1.05"/>
<circle cx="556.7" cy="321.65" r="1.05"/>
<circle cx="557.7" cy="322.62" r="1.05"/>
<circle cx="558.7" cy="323.18" r="1.05"/>
<circle cx="559.7" cy="323.66" r="1.05"/>
<circle cx="560.7" cy="323.83" r="1.05"/>
<circle cx="561.7" cy="324.07" r="1.05"/>
<circle cx="562.7" cy="324.28" r="1.05"/>
<circle cx="563.7" cy="324.44" r="1.05"/>
<circle cx="564.7" cy="324.54" r="1.05"/>
<circle cx="565.7" cy="324.63" r="1.05"/>
<circle cx="566.7" cy="324.63" r="1.05"/>
<circle cx="567.7" cy="324.82" r="1.05"/>
<circle cx="568.7" cy="324.81" r="1.05"/>
</g>
</g>
<rect x="480.4" y="243.95" width="88" height="87.55" fill="none" stroke="#3a3a3a" stroke-width="1.0"/>
<line x1="498" y1="331.5" x2="498" y2="328.5" stroke="#3a3a3a" stroke-width="0.8" />
<line x1="515.6" y1="331.5" x2="515.6" y2="328.5" stroke="#3a3a3a" stroke-width="0.8" />
<line x1="533.2" y1="331.5" x2="533.2" y2="328.5" stroke="#3a3a3a" stroke-width="0.8" />
<line x1="550.8" y1="331.5" x2="550.8" y2="328.5" stroke="#3a3a3a" stroke-width="0.8" />
<clipPath id="cp2"><rect x="586.2" y="244.6" width="88.3" height="87.7"/></clipPath>
<g clip-path="url(#cp2)">
<path d="M586.2,320.27 L586.7,320.29 L587.2,320.31 L587.7,320.33 L588.2,320.35 L588.7,320.38 L589.2,320.4 L589.7,320.42 L590.2,320.44 L590.7,320.46 L591.2,320.48 L591.7,320.5 L592.2,320.52 L592.7,320.54 L593.2,320.56 L593.7,320.57 L594.2,320.59 L594.7,320.61 L595.2,320.63 L595.7,320.65 L596.2,320.67 L596.7,320.69 L597.2,320.71 L597.7,320.73 L598.2,320.75 L598.7,320.77 L599.2,320.78 L599.7,320.8 L600.2,320.82 L600.7,320.84 L601.2,320.86 L601.7,320.87 L602.2,320.89 L602.7,320.91 L603.2,320.93 L603.7,320.94 L604.2,320.96 L604.7,320.98 L605.2,320.99 L605.7,321.01 L606.2,321.03 L606.7,321.04 L607.2,321.06 L607.7,321.07 L608.2,321.09 L608.7,321.1 L609.2,321.12 L609.7,321.13 L610.2,321.15 L610.7,321.16 L611.2,321.17 L611.7,321.18 L612.2,321.2 L612.7,321.21 L613.2,321.22 L613.7,321.23 L614.2,321.24 L614.7,321.25 L615.2,321.26 L615.7,321.27 L616.2,321.28 L616.7,321.28 L617.2,321.29 L617.7,321.3 L618.2,321.3 L618.7,321.31 L619.2,321.31 L619.7,321.31 L620.2,321.31 L620.7,321.31 L621.2,321.31 L621.7,321.3 L622.2,321.3 L622.7,321.29 L623.2,321.28 L623.7,321.26 L624.2,321.25 L624.7,321.22 L625.2,321.19 L625.7,321.16 L626.2,321.12 L626.7,321.06 L627.2,321 L627.7,320.92 L628.2,320.82 L628.7,320.7 L629.2,320.56 L629.7,320.38 L630.2,320.17 L630.7,319.91 L631.2,319.6 L631.7,319.24 L632.2,318.8 L632.7,318.29 L633.2,317.69 L633.7,316.99 L634.2,316.19 L634.7,315.27 L635.2,314.22 L635.7,313.04 L636.2,311.72 L636.7,310.26 L637.2,308.65 L637.7,306.89 L638.2,304.99 L638.7,302.96 L639.2,300.8 L639.7,298.54 L640.2,296.19 L640.7,293.79 L641.2,291.34 L641.7,288.9 L642.2,286.5 L642.7,284.18 L643.2,281.98 L643.7,279.94 L644.2,278.12 L644.7,276.56 L645.2,275.3 L645.7,274.37 L646.2,273.81 L646.7,273.64 L647.2,273.86 L647.7,274.46 L648.2,275.43 L648.7,276.74 L649.2,278.35 L649.7,280.21 L650.2,282.29 L650.7,284.54 L651.2,286.91 L651.7,289.36 L652.2,291.84 L652.7,294.33 L653.2,296.78 L653.7,299.18 L654.2,301.48 L654.7,303.68 L655.2,305.76 L655.7,307.71 L656.2,309.51 L656.7,311.17 L657.2,312.68 L657.7,314.04 L658.2,315.27 L658.7,316.36 L659.2,317.32 L659.7,318.17 L660.2,318.91 L660.7,319.56 L661.2,320.11 L661.7,320.59 L662.2,321.01 L662.7,321.36 L663.2,321.66 L663.7,321.92 L664.2,322.14 L664.7,322.33 L665.2,322.5 L665.7,322.64 L666.2,322.77 L666.7,322.88 L667.2,322.97 L667.7,323.06 L668.2,323.14 L668.7,323.22 L669.2,323.28 L669.7,323.35 L670.2,323.41 L670.7,323.46 L671.2,323.52 L671.7,323.57 L672.2,323.62 L672.7,323.66 L673.2,323.71 L673.7,323.76 L674.2,323.8 L674.2,324.39 L673.7,324.36 L673.2,324.34 L672.7,324.32 L672.2,324.3 L671.7,324.27 L671.2,324.25 L670.7,324.23 L670.2,324.21 L669.7,324.18 L669.2,324.16 L668.7,324.14 L668.2,324.11 L667.7,324.09 L667.2,324.07 L666.7,324.05 L666.2,324.02 L665.7,324 L665.2,323.98 L664.7,323.96 L664.2,323.93 L663.7,323.91 L663.2,323.89 L662.7,323.87 L662.2,323.84 L661.7,323.82 L661.2,323.8 L660.7,323.77 L660.2,323.75 L659.7,323.73 L659.2,323.71 L658.7,323.68 L658.2,323.66 L657.7,323.64 L657.2,323.62 L656.7,323.59 L656.2,323.57 L655.7,323.55 L655.2,323.53 L654.7,323.5 L654.2,323.48 L653.7,323.46 L653.2,323.44 L652.7,323.41 L652.2,323.39 L651.7,323.37 L651.2,323.34 L650.7,323.32 L650.2,323.3 L649.7,323.28 L649.2,323.25 L648.7,323.23 L648.2,323.21 L647.7,323.19 L647.2,323.16 L646.7,323.14 L646.2,323.12 L645.7,323.1 L645.2,323.07 L644.7,323.05 L644.2,323.03 L643.7,323 L643.2,322.98 L642.7,322.96 L642.2,322.94 L641.7,322.91 L641.2,322.89 L640.7,322.87 L640.2,322.85 L639.7,322.82 L639.2,322.8 L638.7,322.78 L638.2,322.76 L637.7,322.73 L637.2,322.71 L636.7,322.69 L636.2,322.67 L635.7,322.64 L635.2,322.62 L634.7,322.6 L634.2,322.57 L633.7,322.55 L633.2,322.53 L632.7,322.51 L632.2,322.48 L631.7,322.46 L631.2,322.44 L630.7,322.42 L630.2,322.39 L629.7,322.37 L629.2,322.35 L628.7,322.33 L628.2,322.3 L627.7,322.28 L627.2,322.26 L626.7,322.23 L626.2,322.21 L625.7,322.19 L625.2,322.17 L624.7,322.14 L624.2,322.12 L623.7,322.1 L623.2,322.08 L622.7,322.05 L622.2,322.03 L621.7,322.01 L621.2,321.99 L620.7,321.96 L620.2,321.94 L619.7,321.92 L619.2,321.89 L618.7,321.87 L618.2,321.85 L617.7,321.83 L617.2,321.8 L616.7,321.78 L616.2,321.76 L615.7,321.74 L615.2,321.71 L614.7,321.69 L614.2,321.67 L613.7,321.65 L613.2,321.62 L612.7,321.6 L612.2,321.58 L611.7,321.56 L611.2,321.53 L610.7,321.51 L610.2,321.49 L609.7,321.46 L609.2,321.44 L608.7,321.42 L608.2,321.4 L607.7,321.37 L607.2,321.35 L606.7,321.33 L606.2,321.31 L605.7,321.28 L605.2,321.26 L604.7,321.24 L604.2,321.22 L603.7,321.19 L603.2,321.17 L602.7,321.15 L602.2,321.12 L601.7,321.1 L601.2,321.08 L600.7,321.06 L600.2,321.03 L599.7,321.01 L599.2,320.99 L598.7,320.97 L598.2,320.94 L597.7,320.92 L597.2,320.9 L596.7,320.88 L596.2,320.85 L595.7,320.83 L595.2,320.81 L594.7,320.79 L594.2,320.76 L593.7,320.74 L593.2,320.72 L592.7,320.69 L592.2,320.67 L591.7,320.65 L591.2,320.63 L590.7,320.6 L590.2,320.58 L589.7,320.56 L589.2,320.54 L588.7,320.51 L588.2,320.49 L587.7,320.47 L587.2,320.45 L586.7,320.42 L586.2,320.4 Z" fill="#dcc07e" stroke="none"/>
<path d="M586.2,320.26 L586.7,320.28 L587.2,320.3 L587.7,320.32 L588.2,320.34 L588.7,320.35 L589.2,320.37 L589.7,320.39 L590.2,320.41 L590.7,320.43 L591.2,320.45 L591.7,320.47 L592.2,320.49 L592.7,320.5 L593.2,320.52 L593.7,320.54 L594.2,320.56 L594.7,320.58 L595.2,320.59 L595.7,320.61 L596.2,320.63 L596.7,320.64 L597.2,320.66 L597.7,320.68 L598.2,320.69 L598.7,320.71 L599.2,320.72 L599.7,320.74 L600.2,320.75 L600.7,320.76 L601.2,320.78 L601.7,320.79 L602.2,320.8 L602.7,320.81 L603.2,320.82 L603.7,320.83 L604.2,320.84 L604.7,320.85 L605.2,320.85 L605.7,320.86 L606.2,320.86 L606.7,320.86 L607.2,320.86 L607.7,320.86 L608.2,320.85 L608.7,320.85 L609.2,320.84 L609.7,320.82 L610.2,320.81 L610.7,320.79 L611.2,320.76 L611.7,320.74 L612.2,320.7 L612.7,320.67 L613.2,320.62 L613.7,320.58 L614.2,320.52 L614.7,320.47 L615.2,320.4 L615.7,320.33 L616.2,320.25 L616.7,320.16 L617.2,320.07 L617.7,319.97 L618.2,319.86 L618.7,319.75 L619.2,319.63 L619.7,319.5 L620.2,319.36 L620.7,319.21 L621.2,319.06 L621.7,318.91 L622.2,318.74 L622.7,318.57 L623.2,318.4 L623.7,318.22 L624.2,318.04 L624.7,317.86 L625.2,317.68 L625.7,317.5 L626.2,317.32 L626.7,317.14 L627.2,316.97 L627.7,316.8 L628.2,316.65 L628.7,316.51 L629.2,316.38 L629.7,316.26 L630.2,316.17 L630.7,316.09 L631.2,316.03 L631.7,316 L632.2,315.99 L632.7,316.01 L633.2,316.05 L633.7,316.11 L634.2,316.2 L634.7,316.31 L635.2,316.44 L635.7,316.59 L636.2,316.75 L636.7,316.93 L637.2,317.13 L637.7,317.33 L638.2,317.54 L638.7,317.76 L639.2,317.99 L639.7,318.21 L640.2,318.44 L640.7,318.67 L641.2,318.9 L641.7,319.12 L642.2,319.34 L642.7,319.56 L643.2,319.77 L643.7,319.98 L644.2,320.18 L644.7,320.37 L645.2,320.56 L645.7,320.74 L646.2,320.91 L646.7,321.07 L647.2,321.23 L647.7,321.38 L648.2,321.52 L648.7,321.66 L649.2,321.79 L649.7,321.91 L650.2,322.02 L650.7,322.13 L651.2,322.23 L651.7,322.33 L652.2,322.42 L652.7,322.5 L653.2,322.58 L653.7,322.66 L654.2,322.73 L654.7,322.8 L655.2,322.86 L655.7,322.92 L656.2,322.98 L656.7,323.03 L657.2,323.09 L657.7,323.14 L658.2,323.18 L658.7,323.23 L659.2,323.27 L659.7,323.31 L660.2,323.35 L660.7,323.39 L661.2,323.43 L661.7,323.47 L662.2,323.5 L662.7,323.54 L663.2,323.57 L663.7,323.6 L664.2,323.64 L664.7,323.67 L665.2,323.7 L665.7,323.73 L666.2,323.76 L666.7,323.79 L667.2,323.82 L667.7,323.85 L668.2,323.88 L668.7,323.91 L669.2,323.94 L669.7,323.97 L670.2,323.99 L670.7,324.02 L671.2,324.05 L671.7,324.08 L672.2,324.1 L672.7,324.13 L673.2,324.16 L673.7,324.18 L674.2,324.21 L674.2,324.39 L673.7,324.36 L673.2,324.34 L672.7,324.32 L672.2,324.3 L671.7,324.27 L671.2,324.25 L670.7,324.23 L670.2,324.21 L669.7,324.18 L669.2,324.16 L668.7,324.14 L668.2,324.11 L667.7,324.09 L667.2,324.07 L666.7,324.05 L666.2,324.02 L665.7,324 L665.2,323.98 L664.7,323.96 L664.2,323.93 L663.7,323.91 L663.2,323.89 L662.7,323.87 L662.2,323.84 L661.7,323.82 L661.2,323.8 L660.7,323.77 L660.2,323.75 L659.7,323.73 L659.2,323.71 L658.7,323.68 L658.2,323.66 L657.7,323.64 L657.2,323.62 L656.7,323.59 L656.2,323.57 L655.7,323.55 L655.2,323.53 L654.7,323.5 L654.2,323.48 L653.7,323.46 L653.2,323.44 L652.7,323.41 L652.2,323.39 L651.7,323.37 L651.2,323.34 L650.7,323.32 L650.2,323.3 L649.7,323.28 L649.2,323.25 L648.7,323.23 L648.2,323.21 L647.7,323.19 L647.2,323.16 L646.7,323.14 L646.2,323.12 L645.7,323.1 L645.2,323.07 L644.7,323.05 L644.2,323.03 L643.7,323 L643.2,322.98 L642.7,322.96 L642.2,322.94 L641.7,322.91 L641.2,322.89 L640.7,322.87 L640.2,322.85 L639.7,322.82 L639.2,322.8 L638.7,322.78 L638.2,322.76 L637.7,322.73 L637.2,322.71 L636.7,322.69 L636.2,322.67 L635.7,322.64 L635.2,322.62 L634.7,322.6 L634.2,322.57 L633.7,322.55 L633.2,322.53 L632.7,322.51 L632.2,322.48 L631.7,322.46 L631.2,322.44 L630.7,322.42 L630.2,322.39 L629.7,322.37 L629.2,322.35 L628.7,322.33 L628.2,322.3 L627.7,322.28 L627.2,322.26 L626.7,322.23 L626.2,322.21 L625.7,322.19 L625.2,322.17 L624.7,322.14 L624.2,322.12 L623.7,322.1 L623.2,322.08 L622.7,322.05 L622.2,322.03 L621.7,322.01 L621.2,321.99 L620.7,321.96 L620.2,321.94 L619.7,321.92 L619.2,321.89 L618.7,321.87 L618.2,321.85 L617.7,321.83 L617.2,321.8 L616.7,321.78 L616.2,321.76 L615.7,321.74 L615.2,321.71 L614.7,321.69 L614.2,321.67 L613.7,321.65 L613.2,321.62 L612.7,321.6 L612.2,321.58 L611.7,321.56 L611.2,321.53 L610.7,321.51 L610.2,321.49 L609.7,321.46 L609.2,321.44 L608.7,321.42 L608.2,321.4 L607.7,321.37 L607.2,321.35 L606.7,321.33 L606.2,321.31 L605.7,321.28 L605.2,321.26 L604.7,321.24 L604.2,321.22 L603.7,321.19 L603.2,321.17 L602.7,321.15 L602.2,321.12 L601.7,321.1 L601.2,321.08 L600.7,321.06 L600.2,321.03 L599.7,321.01 L599.2,320.99 L598.7,320.97 L598.2,320.94 L597.7,320.92 L597.2,320.9 L596.7,320.88 L596.2,320.85 L595.7,320.83 L595.2,320.81 L594.7,320.79 L594.2,320.76 L593.7,320.74 L593.2,320.72 L592.7,320.69 L592.2,320.67 L591.7,320.65 L591.2,320.63 L590.7,320.6 L590.2,320.58 L589.7,320.56 L589.2,320.54 L588.7,320.51 L588.2,320.49 L587.7,320.47 L587.2,320.45 L586.7,320.42 L586.2,320.4 Z" fill="#e83236" stroke="none"/>
<path d="M586.2,320.03 L586.7,320.02 L587.2,320 L587.7,319.97 L588.2,319.94 L588.7,319.9 L589.2,319.86 L589.7,319.81 L590.2,319.75 L590.7,319.69 L591.2,319.62 L591.7,319.54 L592.2,319.44 L592.7,319.35 L593.2,319.24 L593.7,319.12 L594.2,318.99 L594.7,318.85 L595.2,318.7 L595.7,318.54 L596.2,318.37 L596.7,318.19 L597.2,318 L597.7,317.8 L598.2,317.59 L598.7,317.37 L599.2,317.15 L599.7,316.92 L600.2,316.68 L600.7,316.44 L601.2,316.19 L601.7,315.95 L602.2,315.7 L602.7,315.45 L603.2,315.21 L603.7,314.97 L604.2,314.73 L604.7,314.5 L605.2,314.29 L605.7,314.08 L606.2,313.89 L606.7,313.71 L607.2,313.55 L607.7,313.41 L608.2,313.28 L608.7,313.18 L609.2,313.1 L609.7,313.05 L610.2,313.02 L610.7,313.01 L611.2,313.03 L611.7,313.08 L612.2,313.15 L612.7,313.25 L613.2,313.36 L613.7,313.51 L614.2,313.67 L614.7,313.85 L615.2,314.06 L615.7,314.28 L616.2,314.51 L616.7,314.76 L617.2,315.02 L617.7,315.29 L618.2,315.57 L618.7,315.85 L619.2,316.14 L619.7,316.44 L620.2,316.73 L620.7,317.02 L621.2,317.31 L621.7,317.6 L622.2,317.88 L622.7,318.16 L623.2,318.43 L623.7,318.7 L624.2,318.95 L624.7,319.2 L625.2,319.44 L625.7,319.67 L626.2,319.88 L626.7,320.09 L627.2,320.29 L627.7,320.47 L628.2,320.65 L628.7,320.82 L629.2,320.97 L629.7,321.12 L630.2,321.26 L630.7,321.39 L631.2,321.51 L631.7,321.62 L632.2,321.72 L632.7,321.82 L633.2,321.91 L633.7,321.99 L634.2,322.07 L634.7,322.14 L635.2,322.21 L635.7,322.27 L636.2,322.33 L636.7,322.38 L637.2,322.43 L637.7,322.48 L638.2,322.53 L638.7,322.57" fill="none" stroke="#2a4fa0" stroke-width="0.9"/>
<path d="M594.2,320.56 L594.7,320.58 L595.2,320.59 L595.7,320.61 L596.2,320.63 L596.7,320.64 L597.2,320.66 L597.7,320.68 L598.2,320.69 L598.7,320.71 L599.2,320.72 L599.7,320.74 L600.2,320.75 L600.7,320.76 L601.2,320.78 L601.7,320.79 L602.2,320.8 L602.7,320.81 L603.2,320.82 L603.7,320.83 L604.2,320.84 L604.7,320.85 L605.2,320.85 L605.7,320.86 L606.2,320.86 L606.7,320.86 L607.2,320.86 L607.7,320.86 L608.2,320.85 L608.7,320.85 L609.2,320.84 L609.7,320.82 L610.2,320.81 L610.7,320.79 L611.2,320.76 L611.7,320.74 L612.2,320.7 L612.7,320.67 L613.2,320.62 L613.7,320.58 L614.2,320.52 L614.7,320.47 L615.2,320.4 L615.7,320.33 L616.2,320.25 L616.7,320.16 L617.2,320.07 L617.7,319.97 L618.2,319.86 L618.7,319.75 L619.2,319.63 L619.7,319.5 L620.2,319.36 L620.7,319.21 L621.2,319.06 L621.7,318.91 L622.2,318.74 L622.7,318.57 L623.2,318.4 L623.7,318.22 L624.2,318.04 L624.7,317.86 L625.2,317.68 L625.7,317.5 L626.2,317.32 L626.7,317.14 L627.2,316.97 L627.7,316.8 L628.2,316.65 L628.7,316.51 L629.2,316.38 L629.7,316.26 L630.2,316.17 L630.7,316.09 L631.2,316.03 L631.7,316 L632.2,315.99 L632.7,316.01 L633.2,316.05 L633.7,316.11 L634.2,316.2 L634.7,316.31 L635.2,316.44 L635.7,316.59 L636.2,316.75 L636.7,316.93 L637.2,317.13 L637.7,317.33 L638.2,317.54 L638.7,317.76 L639.2,317.99 L639.7,318.21 L640.2,318.44 L640.7,318.67 L641.2,318.9 L641.7,319.12 L642.2,319.34 L642.7,319.56 L643.2,319.77 L643.7,319.98 L644.2,320.18 L644.7,320.37 L645.2,320.56 L645.7,320.74 L646.2,320.91 L646.7,321.07 L647.2,321.23 L647.7,321.38 L648.2,321.52 L648.7,321.66 L649.2,321.79 L649.7,321.91 L650.2,322.02 L650.7,322.13 L651.2,322.23 L651.7,322.33 L652.2,322.42 L652.7,322.5 L653.2,322.58 L653.7,322.66 L654.2,322.73 L654.7,322.8 L655.2,322.86 L655.7,322.92 L656.2,322.98 L656.7,323.03 L657.2,323.09 L657.7,323.14 L658.2,323.18 L658.7,323.23 L659.2,323.27 L659.7,323.31 L660.2,323.35 L660.7,323.39 L661.2,323.43 L661.7,323.47 L662.2,323.5 L662.7,323.54 L663.2,323.57 L663.7,323.6 L664.2,323.64 L664.7,323.67 L665.2,323.7 L665.7,323.73 L666.2,323.76 L666.7,323.79 L667.2,323.82 L667.7,323.85 L668.2,323.88 L668.7,323.91 L669.2,323.94 L669.7,323.97 L670.2,323.99 L670.7,324.02 L671.2,324.05" fill="none" stroke="#c0306a" stroke-width="0.5"/>
<path d="M598.7,320.77 L599.2,320.78 L599.7,320.8 L600.2,320.82 L600.7,320.84 L601.2,320.86 L601.7,320.87 L602.2,320.89 L602.7,320.91 L603.2,320.93 L603.7,320.94 L604.2,320.96 L604.7,320.98 L605.2,320.99 L605.7,321.01 L606.2,321.03 L606.7,321.04 L607.2,321.06 L607.7,321.07 L608.2,321.09 L608.7,321.1 L609.2,321.12 L609.7,321.13 L610.2,321.15 L610.7,321.16 L611.2,321.17 L611.7,321.18 L612.2,321.2 L612.7,321.21 L613.2,321.22 L613.7,321.23 L614.2,321.24 L614.7,321.25 L615.2,321.26 L615.7,321.27 L616.2,321.28 L616.7,321.28 L617.2,321.29 L617.7,321.3 L618.2,321.3 L618.7,321.31 L619.2,321.31 L619.7,321.31 L620.2,321.31 L620.7,321.31 L621.2,321.31 L621.7,321.3 L622.2,321.3 L622.7,321.29 L623.2,321.28 L623.7,321.26 L624.2,321.25 L624.7,321.22 L625.2,321.19 L625.7,321.16 L626.2,321.12 L626.7,321.06 L627.2,321 L627.7,320.92 L628.2,320.82 L628.7,320.7 L629.2,320.56 L629.7,320.38 L630.2,320.17 L630.7,319.91 L631.2,319.6 L631.7,319.24 L632.2,318.8 L632.7,318.29 L633.2,317.69 L633.7,316.99 L634.2,316.19 L634.7,315.27 L635.2,314.22 L635.7,313.04 L636.2,311.72 L636.7,310.26 L637.2,308.65 L637.7,306.89 L638.2,304.99 L638.7,302.96 L639.2,300.8 L639.7,298.54 L640.2,296.19 L640.7,293.79 L641.2,291.34 L641.7,288.9 L642.2,286.5 L642.7,284.18 L643.2,281.98 L643.7,279.94 L644.2,278.12 L644.7,276.56 L645.2,275.3 L645.7,274.37 L646.2,273.81 L646.7,273.64 L647.2,273.86 L647.7,274.46 L648.2,275.43 L648.7,276.74 L649.2,278.35 L649.7,280.21 L650.2,282.29 L650.7,284.54 L651.2,286.91 L651.7,289.36 L652.2,291.84 L652.7,294.33 L653.2,296.78 L653.7,299.18 L654.2,301.48 L654.7,303.68 L655.2,305.76 L655.7,307.71 L656.2,309.51 L656.7,311.17 L657.2,312.68 L657.7,314.04 L658.2,315.27 L658.7,316.36 L659.2,317.32 L659.7,318.17 L660.2,318.91 L660.7,319.56 L661.2,320.11 L661.7,320.59 L662.2,321.01 L662.7,321.36 L663.2,321.66 L663.7,321.92 L664.2,322.14 L664.7,322.33 L665.2,322.5 L665.7,322.64 L666.2,322.77 L666.7,322.88 L667.2,322.97 L667.7,323.06 L668.2,323.14 L668.7,323.22 L669.2,323.28 L669.7,323.35 L670.2,323.41 L670.7,323.46 L671.2,323.52 L671.7,323.57 L672.2,323.62 L672.7,323.66 L673.2,323.71 L673.7,323.76 L674.2,323.8" fill="none" stroke="#5cc3cf" stroke-width="0.8"/>
<path d="M586.2,320.4 L586.7,320.42 L587.2,320.45 L587.7,320.47 L588.2,320.49 L588.7,320.51 L589.2,320.54 L589.7,320.56 L590.2,320.58 L590.7,320.6 L591.2,320.63 L591.7,320.65 L592.2,320.67 L592.7,320.69 L593.2,320.72 L593.7,320.74 L594.2,320.76 L594.7,320.79 L595.2,320.81 L595.7,320.83 L596.2,320.85 L596.7,320.88 L597.2,320.9 L597.7,320.92 L598.2,320.94 L598.7,320.97 L599.2,320.99 L599.7,321.01 L600.2,321.03 L600.7,321.06 L601.2,321.08 L601.7,321.1 L602.2,321.12 L602.7,321.15 L603.2,321.17 L603.7,321.19 L604.2,321.22 L604.7,321.24 L605.2,321.26 L605.7,321.28 L606.2,321.31 L606.7,321.33 L607.2,321.35 L607.7,321.37 L608.2,321.4 L608.7,321.42 L609.2,321.44 L609.7,321.46 L610.2,321.49 L610.7,321.51 L611.2,321.53 L611.7,321.56 L612.2,321.58 L612.7,321.6 L613.2,321.62 L613.7,321.65 L614.2,321.67 L614.7,321.69 L615.2,321.71 L615.7,321.74 L616.2,321.76 L616.7,321.78 L617.2,321.8 L617.7,321.83 L618.2,321.85 L618.7,321.87 L619.2,321.89 L619.7,321.92 L620.2,321.94 L620.7,321.96 L621.2,321.99 L621.7,322.01 L622.2,322.03 L622.7,322.05 L623.2,322.08 L623.7,322.1 L624.2,322.12 L624.7,322.14 L625.2,322.17 L625.7,322.19 L626.2,322.21 L626.7,322.23 L627.2,322.26 L627.7,322.28 L628.2,322.3 L628.7,322.33 L629.2,322.35 L629.7,322.37 L630.2,322.39 L630.7,322.42 L631.2,322.44 L631.7,322.46 L632.2,322.48 L632.7,322.51 L633.2,322.53 L633.7,322.55 L634.2,322.57 L634.7,322.6 L635.2,322.62 L635.7,322.64 L636.2,322.67 L636.7,322.69 L637.2,322.71 L637.7,322.73 L638.2,322.76 L638.7,322.78 L639.2,322.8 L639.7,322.82 L640.2,322.85 L640.7,322.87 L641.2,322.89 L641.7,322.91 L642.2,322.94 L642.7,322.96 L643.2,322.98 L643.7,323 L644.2,323.03 L644.7,323.05 L645.2,323.07 L645.7,323.1 L646.2,323.12 L646.7,323.14 L647.2,323.16 L647.7,323.19 L648.2,323.21 L648.7,323.23 L649.2,323.25 L649.7,323.28 L650.2,323.3 L650.7,323.32 L651.2,323.34 L651.7,323.37 L652.2,323.39 L652.7,323.41 L653.2,323.44 L653.7,323.46 L654.2,323.48 L654.7,323.5 L655.2,323.53 L655.7,323.55 L656.2,323.57 L656.7,323.59 L657.2,323.62 L657.7,323.64 L658.2,323.66 L658.7,323.68 L659.2,323.71 L659.7,323.73 L660.2,323.75 L660.7,323.77 L661.2,323.8 L661.7,323.82 L662.2,323.84 L662.7,323.87 L663.2,323.89 L663.7,323.91 L664.2,323.93 L664.7,323.96 L665.2,323.98 L665.7,324 L666.2,324.02 L666.7,324.05 L667.2,324.07 L667.7,324.09 L668.2,324.11 L668.7,324.14 L669.2,324.16 L669.7,324.18 L670.2,324.21 L670.7,324.23 L671.2,324.25 L671.7,324.27 L672.2,324.3 L672.7,324.32 L673.2,324.34 L673.7,324.36 L674.2,324.39" fill="none" stroke="#e83236" stroke-width="0.9"/>
<path d="M586.2,319.76 L586.7,319.74 L587.2,319.72 L587.7,319.69 L588.2,319.65 L588.7,319.61 L589.2,319.56 L589.7,319.5 L590.2,319.44 L590.7,319.37 L591.2,319.29 L591.7,319.2 L592.2,319.1 L592.7,319 L593.2,318.88 L593.7,318.75 L594.2,318.62 L594.7,318.47 L595.2,318.31 L595.7,318.14 L596.2,317.96 L596.7,317.77 L597.2,317.57 L597.7,317.36 L598.2,317.14 L598.7,316.91 L599.2,316.68 L599.7,316.43 L600.2,316.18 L600.7,315.93 L601.2,315.67 L601.7,315.41 L602.2,315.14 L602.7,314.88 L603.2,314.62 L603.7,314.36 L604.2,314.1 L604.7,313.85 L605.2,313.61 L605.7,313.38 L606.2,313.16 L606.7,312.96 L607.2,312.77 L607.7,312.59 L608.2,312.43 L608.7,312.3 L609.2,312.18 L609.7,312.08 L610.2,312 L610.7,311.94 L611.2,311.91 L611.7,311.89 L612.2,311.9 L612.7,311.92 L613.2,311.96 L613.7,312.02 L614.2,312.1 L614.7,312.19 L615.2,312.29 L615.7,312.4 L616.2,312.52 L616.7,312.65 L617.2,312.77 L617.7,312.91 L618.2,313.04 L618.7,313.16 L619.2,313.29 L619.7,313.41 L620.2,313.52 L620.7,313.62 L621.2,313.71 L621.7,313.79 L622.2,313.86 L622.7,313.92 L623.2,313.96 L623.7,313.99 L624.2,314 L624.7,314 L625.2,313.98 L625.7,313.94 L626.2,313.89 L626.7,313.83 L627.2,313.74 L627.7,313.64 L628.2,313.52 L628.7,313.38 L629.2,313.21 L629.7,313.02 L630.2,312.8 L630.7,312.55 L631.2,312.26 L631.7,311.93 L632.2,311.55 L632.7,311.1 L633.2,310.59 L633.7,309.99 L634.2,309.31 L634.7,308.52 L635.2,307.63 L635.7,306.62 L636.2,305.47 L636.7,304.2 L637.2,302.79 L637.7,301.24 L638.2,299.55 L638.7,297.73 L639.2,295.79 L639.7,293.75 L640.2,291.62 L640.7,289.43 L641.2,287.21 L641.7,284.98 L642.2,282.78 L642.7,280.66 L643.2,278.65 L643.7,276.81 L644.2,275.17 L644.7,273.78 L645.2,272.69 L645.7,271.93 L646.2,271.52 L646.7,271.49 L647.2,271.85 L647.7,272.58 L648.2,273.67 L648.7,275.1 L649.2,276.81 L649.7,278.78 L650.2,280.95 L650.7,283.29 L651.2,285.74 L651.7,288.26 L652.2,290.81 L652.7,293.36 L653.2,295.88 L653.7,298.32 L654.2,300.68 L654.7,302.93 L655.2,305.05 L655.7,307.03 L656.2,308.87 L656.7,310.56 L657.2,312.1 L657.7,313.49 L658.2,314.74 L658.7,315.86 L659.2,316.84 L659.7,317.71 L660.2,318.47 L660.7,319.13 L661.2,319.71 L661.7,320.2 L662.2,320.63 L662.7,320.99 L663.2,321.31 L663.7,321.58 L664.2,321.81 L664.7,322.01 L665.2,322.19 L665.7,322.34 L666.2,322.47 L666.7,322.59 L667.2,322.69 L667.7,322.79 L668.2,322.88 L668.7,322.96 L669.2,323.03 L669.7,323.1 L670.2,323.17 L670.7,323.23 L671.2,323.29 L671.7,323.34 L672.2,323.4 L672.7,323.45 L673.2,323.5 L673.7,323.55 L674.2,323.6" fill="none" stroke="#e83236" stroke-width="0.9"/>
<g fill="none" stroke="#000" stroke-width="0.75">
<circle cx="586.5" cy="319.84" r="1.1"/>
<circle cx="587.6" cy="319.61" r="1.1"/>
<circle cx="588.7" cy="319.02" r="1.1"/>
<circle cx="589.8" cy="319.3" r="1.1"/>
<circle cx="590.9" cy="318.51" r="1.1"/>
<circle cx="592" cy="318.37" r="1.1"/>
<circle cx="593.1" cy="318.31" r="1.1"/>
<circle cx="594.2" cy="317.81" r="1.1"/>
<circle cx="595.3" cy="317.6" r="1.1"/>
<circle cx="596.4" cy="317.38" r="1.1"/>
<circle cx="597.5" cy="317.34" r="1.1"/>
<circle cx="598.6" cy="317.3" r="1.1"/>
<circle cx="599.7" cy="316.61" r="1.1"/>
<circle cx="600.8" cy="315.97" r="1.1"/>
<circle cx="601.9" cy="315.54" r="1.1"/>
<circle cx="603" cy="314.57" r="1.1"/>
<circle cx="604.1" cy="313.86" r="1.1"/>
<circle cx="605.2" cy="313.35" r="1.1"/>
<circle cx="606.3" cy="312.57" r="1.1"/>
<circle cx="607.4" cy="312.26" r="1.1"/>
<circle cx="608.5" cy="311.73" r="1.1"/>
<circle cx="609.6" cy="311.51" r="1.1"/>
<circle cx="610.7" cy="311.38" r="1.1"/>
<circle cx="611.8" cy="311.16" r="1.1"/>
<circle cx="612.9" cy="311.38" r="1.1"/>
<circle cx="614" cy="311.61" r="1.1"/>
<circle cx="615.1" cy="311.81" r="1.1"/>
<circle cx="616.2" cy="311.98" r="1.1"/>
<circle cx="617.3" cy="312.13" r="1.1"/>
<circle cx="618.4" cy="312.5" r="1.1"/>
<circle cx="619.5" cy="312.67" r="1.1"/>
<circle cx="620.6" cy="313.22" r="1.1"/>
<circle cx="621.7" cy="312.68" r="1.1"/>
<circle cx="622.8" cy="313.2" r="1.1"/>
<circle cx="623.9" cy="313.32" r="1.1"/>
<circle cx="625" cy="313.5" r="1.1"/>
<circle cx="626.1" cy="313.31" r="1.1"/>
<circle cx="627.2" cy="312.93" r="1.1"/>
<circle cx="628.3" cy="312.8" r="1.1"/>
<circle cx="629.4" cy="312.57" r="1.1"/>
<circle cx="630.5" cy="312.07" r="1.1"/>
<circle cx="631.6" cy="311.68" r="1.1"/>
<circle cx="632.7" cy="310.52" r="1.1"/>
<circle cx="633.8" cy="310.06" r="1.1"/>
<circle cx="634.9" cy="308.48" r="1.1"/>
<circle cx="636" cy="305.87" r="1.1"/>
<circle cx="637.1" cy="303.22" r="1.1"/>
<circle cx="638.2" cy="299.49" r="1.1"/>
<circle cx="639.3" cy="295.22" r="1.1"/>
<circle cx="640.4" cy="290.95" r="1.1"/>
<circle cx="641.5" cy="286.85" r="1.1"/>
<circle cx="642.6" cy="282.78" r="1.1"/>
<circle cx="643.7" cy="279.08" r="1.1"/>
<circle cx="644.8" cy="275.46" r="1.1"/>
<circle cx="645.9" cy="273.27" r="1.1"/>
<circle cx="647" cy="271.94" r="1.1"/>
<circle cx="648.1" cy="271.9" r="1.1"/>
<circle cx="649.2" cy="273.84" r="1.1"/>
<circle cx="650.3" cy="276.36" r="1.1"/>
<circle cx="651.4" cy="280.35" r="1.1"/>
<circle cx="652.5" cy="286.25" r="1.1"/>
<circle cx="653.6" cy="292.43" r="1.1"/>
<circle cx="654.7" cy="298.1" r="1.1"/>
<circle cx="655.8" cy="303.38" r="1.1"/>
<circle cx="656.9" cy="307.82" r="1.1"/>
<circle cx="658" cy="312.33" r="1.1"/>
<circle cx="659.1" cy="315.06" r="1.1"/>
<circle cx="660.2" cy="317.17" r="1.1"/>
<circle cx="661.3" cy="318.9" r="1.1"/>
<circle cx="662.4" cy="319.98" r="1.1"/>
<circle cx="663.5" cy="320.65" r="1.1"/>
<circle cx="664.6" cy="321.55" r="1.1"/>
<circle cx="665.7" cy="321.85" r="1.1"/>
<circle cx="666.8" cy="322.24" r="1.1"/>
<circle cx="667.9" cy="322.37" r="1.1"/>
<circle cx="669" cy="323.04" r="1.1"/>
<circle cx="670.1" cy="322.64" r="1.1"/>
<circle cx="671.2" cy="323.22" r="1.1"/>
<circle cx="672.3" cy="323.48" r="1.1"/>
<circle cx="673.4" cy="323.16" r="1.1"/>
<circle cx="674.5" cy="323.47" r="1.1"/>
</g>
</g>
<rect x="586.2" y="244.6" width="88.3" height="87.7" fill="none" stroke="#3a3a3a" stroke-width="1.0"/>
<line x1="603.86" y1="332.3" x2="603.86" y2="329.3" stroke="#3a3a3a" stroke-width="0.8" />
<line x1="621.52" y1="332.3" x2="621.52" y2="329.3" stroke="#3a3a3a" stroke-width="0.8" />
<line x1="639.18" y1="332.3" x2="639.18" y2="329.3" stroke="#3a3a3a" stroke-width="0.8" />
<line x1="656.84" y1="332.3" x2="656.84" y2="329.3" stroke="#3a3a3a" stroke-width="0.8" />
<clipPath id="cp3"><rect x="480.5" y="339.6" width="87.9" height="87.8"/></clipPath>
<g clip-path="url(#cp3)">
<path d="M480.5,415.17 L481,415.2 L481.5,415.23 L482,415.26 L482.5,415.29 L483,415.31 L483.5,415.34 L484,415.37 L484.5,415.4 L485,415.43 L485.5,415.45 L486,415.48 L486.5,415.51 L487,415.54 L487.5,415.56 L488,415.59 L488.5,415.62 L489,415.64 L489.5,415.67 L490,415.7 L490.5,415.72 L491,415.75 L491.5,415.78 L492,415.8 L492.5,415.83 L493,415.86 L493.5,415.88 L494,415.91 L494.5,415.93 L495,415.96 L495.5,415.99 L496,416.01 L496.5,416.04 L497,416.06 L497.5,416.09 L498,416.11 L498.5,416.13 L499,416.16 L499.5,416.18 L500,416.21 L500.5,416.23 L501,416.25 L501.5,416.28 L502,416.3 L502.5,416.32 L503,416.35 L503.5,416.37 L504,416.39 L504.5,416.41 L505,416.43 L505.5,416.45 L506,416.47 L506.5,416.49 L507,416.51 L507.5,416.53 L508,416.55 L508.5,416.57 L509,416.59 L509.5,416.6 L510,416.62 L510.5,416.63 L511,416.65 L511.5,416.66 L512,416.68 L512.5,416.69 L513,416.7 L513.5,416.71 L514,416.72 L514.5,416.73 L515,416.73 L515.5,416.74 L516,416.74 L516.5,416.73 L517,416.73 L517.5,416.72 L518,416.7 L518.5,416.68 L519,416.66 L519.5,416.62 L520,416.57 L520.5,416.5 L521,416.42 L521.5,416.32 L522,416.2 L522.5,416.05 L523,415.86 L523.5,415.63 L524,415.35 L524.5,415.02 L525,414.63 L525.5,414.16 L526,413.61 L526.5,412.97 L527,412.23 L527.5,411.37 L528,410.39 L528.5,409.28 L529,408.03 L529.5,406.63 L530,405.08 L530.5,403.37 L531,401.5 L531.5,399.48 L532,397.31 L532.5,395 L533,392.57 L533.5,390.02 L534,387.39 L534.5,384.7 L535,381.98 L535.5,379.25 L536,376.57 L536.5,373.97 L537,371.49 L537.5,369.17 L538,367.06 L538.5,365.2 L539,363.64 L539.5,362.41 L540,361.53 L540.5,361.05 L541,360.96 L541.5,361.27 L542,361.97 L542.5,363.05 L543,364.48 L543.5,366.23 L544,368.25 L544.5,370.51 L545,372.96 L545.5,375.55 L546,378.25 L546.5,381.02 L547,383.8 L547.5,386.58 L548,389.31 L548.5,391.97 L549,394.53 L549.5,396.98 L550,399.29 L550.5,401.47 L551,403.49 L551.5,405.35 L552,407.06 L552.5,408.61 L553,410.01 L553.5,411.26 L554,412.38 L554.5,413.37 L555,414.24 L555.5,415 L556,415.66 L556.5,416.24 L557,416.74 L557.5,417.16 L558,417.53 L558.5,417.85 L559,418.12 L559.5,418.35 L560,418.56 L560.5,418.73 L561,418.88 L561.5,419.02 L562,419.13 L562.5,419.24 L563,419.33 L563.5,419.42 L564,419.5 L564.5,419.57 L565,419.64 L565.5,419.7 L566,419.76 L566.5,419.82 L567,419.88 L567.5,419.93 L568,419.98 L568,420.58 L567.5,420.55 L567,420.52 L566.5,420.49 L566,420.46 L565.5,420.43 L565,420.39 L564.5,420.36 L564,420.33 L563.5,420.3 L563,420.27 L562.5,420.24 L562,420.21 L561.5,420.18 L561,420.15 L560.5,420.12 L560,420.09 L559.5,420.06 L559,420.03 L558.5,420 L558,419.97 L557.5,419.94 L557,419.91 L556.5,419.88 L556,419.85 L555.5,419.82 L555,419.79 L554.5,419.76 L554,419.73 L553.5,419.7 L553,419.67 L552.5,419.64 L552,419.61 L551.5,419.58 L551,419.55 L550.5,419.52 L550,419.49 L549.5,419.46 L549,419.43 L548.5,419.4 L548,419.37 L547.5,419.34 L547,419.31 L546.5,419.28 L546,419.25 L545.5,419.22 L545,419.19 L544.5,419.16 L544,419.13 L543.5,419.1 L543,419.07 L542.5,419.04 L542,419.01 L541.5,418.98 L541,418.95 L540.5,418.92 L540,418.89 L539.5,418.86 L539,418.83 L538.5,418.8 L538,418.77 L537.5,418.74 L537,418.71 L536.5,418.68 L536,418.65 L535.5,418.62 L535,418.59 L534.5,418.56 L534,418.53 L533.5,418.5 L533,418.47 L532.5,418.44 L532,418.41 L531.5,418.38 L531,418.34 L530.5,418.31 L530,418.28 L529.5,418.25 L529,418.22 L528.5,418.19 L528,418.16 L527.5,418.13 L527,418.1 L526.5,418.07 L526,418.04 L525.5,418.01 L525,417.98 L524.5,417.95 L524,417.92 L523.5,417.89 L523,417.86 L522.5,417.83 L522,417.8 L521.5,417.77 L521,417.74 L520.5,417.71 L520,417.68 L519.5,417.65 L519,417.62 L518.5,417.59 L518,417.56 L517.5,417.53 L517,417.5 L516.5,417.47 L516,417.44 L515.5,417.41 L515,417.38 L514.5,417.35 L514,417.32 L513.5,417.29 L513,417.26 L512.5,417.23 L512,417.2 L511.5,417.17 L511,417.14 L510.5,417.11 L510,417.08 L509.5,417.05 L509,417.02 L508.5,416.99 L508,416.96 L507.5,416.93 L507,416.9 L506.5,416.87 L506,416.84 L505.5,416.81 L505,416.78 L504.5,416.75 L504,416.72 L503.5,416.69 L503,416.66 L502.5,416.63 L502,416.6 L501.5,416.57 L501,416.54 L500.5,416.51 L500,416.48 L499.5,416.45 L499,416.42 L498.5,416.39 L498,416.36 L497.5,416.33 L497,416.29 L496.5,416.26 L496,416.23 L495.5,416.2 L495,416.17 L494.5,416.14 L494,416.11 L493.5,416.08 L493,416.05 L492.5,416.02 L492,415.99 L491.5,415.96 L491,415.93 L490.5,415.9 L490,415.87 L489.5,415.84 L489,415.81 L488.5,415.78 L488,415.75 L487.5,415.72 L487,415.69 L486.5,415.66 L486,415.63 L485.5,415.6 L485,415.57 L484.5,415.54 L484,415.51 L483.5,415.48 L483,415.45 L482.5,415.42 L482,415.39 L481.5,415.36 L481,415.33 L480.5,415.3 Z" fill="#dcc07e" stroke="none"/>
<path d="M480.5,415.1 L481,415.13 L481.5,415.16 L482,415.18 L482.5,415.21 L483,415.23 L483.5,415.26 L484,415.28 L484.5,415.31 L485,415.33 L485.5,415.36 L486,415.38 L486.5,415.41 L487,415.43 L487.5,415.45 L488,415.48 L488.5,415.5 L489,415.52 L489.5,415.55 L490,415.57 L490.5,415.59 L491,415.61 L491.5,415.64 L492,415.66 L492.5,415.68 L493,415.7 L493.5,415.72 L494,415.74 L494.5,415.76 L495,415.78 L495.5,415.8 L496,415.81 L496.5,415.83 L497,415.85 L497.5,415.86 L498,415.88 L498.5,415.89 L499,415.91 L499.5,415.92 L500,415.93 L500.5,415.94 L501,415.95 L501.5,415.96 L502,415.97 L502.5,415.98 L503,415.98 L503.5,415.99 L504,415.99 L504.5,415.99 L505,415.99 L505.5,415.99 L506,415.98 L506.5,415.98 L507,415.97 L507.5,415.95 L508,415.94 L508.5,415.92 L509,415.89 L509.5,415.86 L510,415.83 L510.5,415.79 L511,415.74 L511.5,415.68 L512,415.61 L512.5,415.52 L513,415.42 L513.5,415.3 L514,415.15 L514.5,414.97 L515,414.76 L515.5,414.51 L516,414.22 L516.5,413.86 L517,413.45 L517.5,412.97 L518,412.41 L518.5,411.76 L519,411.03 L519.5,410.19 L520,409.26 L520.5,408.21 L521,407.07 L521.5,405.82 L522,404.47 L522.5,403.03 L523,401.52 L523.5,399.96 L524,398.36 L524.5,396.76 L525,395.2 L525.5,393.72 L526,392.36 L526.5,391.18 L527,390.24 L527.5,389.57 L528,389.23 L528.5,389.22 L529,389.56 L529.5,390.22 L530,391.18 L530.5,392.37 L531,393.76 L531.5,395.28 L532,396.89 L532.5,398.55 L533,400.21 L533.5,401.84 L534,403.42 L534.5,404.94 L535,406.36 L535.5,407.69 L536,408.92 L536.5,410.04 L537,411.06 L537.5,411.98 L538,412.79 L538.5,413.52 L539,414.15 L539.5,414.71 L540,415.2 L540.5,415.62 L541,415.99 L541.5,416.31 L542,416.59 L542.5,416.83 L543,417.04 L543.5,417.23 L544,417.4 L544.5,417.54 L545,417.68 L545.5,417.8 L546,417.91 L546.5,418.02 L547,418.11 L547.5,418.2 L548,418.29 L548.5,418.37 L549,418.45 L549.5,418.52 L550,418.59 L550.5,418.66 L551,418.72 L551.5,418.79 L552,418.85 L552.5,418.91 L553,418.97 L553.5,419.02 L554,419.08 L554.5,419.13 L555,419.18 L555.5,419.24 L556,419.29 L556.5,419.34 L557,419.38 L557.5,419.43 L558,419.48 L558.5,419.52 L559,419.57 L559.5,419.61 L560,419.66 L560.5,419.7 L561,419.74 L561.5,419.78 L562,419.83 L562.5,419.87 L563,419.91 L563.5,419.95 L564,419.99 L564.5,420.03 L565,420.07 L565.5,420.1 L566,420.14 L566.5,420.18 L567,420.22 L567.5,420.26 L568,420.29 L568,420.58 L567.5,420.55 L567,420.52 L566.5,420.49 L566,420.46 L565.5,420.43 L565,420.39 L564.5,420.36 L564,420.33 L563.5,420.3 L563,420.27 L562.5,420.24 L562,420.21 L561.5,420.18 L561,420.15 L560.5,420.12 L560,420.09 L559.5,420.06 L559,420.03 L558.5,420 L558,419.97 L557.5,419.94 L557,419.91 L556.5,419.88 L556,419.85 L555.5,419.82 L555,419.79 L554.5,419.76 L554,419.73 L553.5,419.7 L553,419.67 L552.5,419.64 L552,419.61 L551.5,419.58 L551,419.55 L550.5,419.52 L550,419.49 L549.5,419.46 L549,419.43 L548.5,419.4 L548,419.37 L547.5,419.34 L547,419.31 L546.5,419.28 L546,419.25 L545.5,419.22 L545,419.19 L544.5,419.16 L544,419.13 L543.5,419.1 L543,419.07 L542.5,419.04 L542,419.01 L541.5,418.98 L541,418.95 L540.5,418.92 L540,418.89 L539.5,418.86 L539,418.83 L538.5,418.8 L538,418.77 L537.5,418.74 L537,418.71 L536.5,418.68 L536,418.65 L535.5,418.62 L535,418.59 L534.5,418.56 L534,418.53 L533.5,418.5 L533,418.47 L532.5,418.44 L532,418.41 L531.5,418.38 L531,418.34 L530.5,418.31 L530,418.28 L529.5,418.25 L529,418.22 L528.5,418.19 L528,418.16 L527.5,418.13 L527,418.1 L526.5,418.07 L526,418.04 L525.5,418.01 L525,417.98 L524.5,417.95 L524,417.92 L523.5,417.89 L523,417.86 L522.5,417.83 L522,417.8 L521.5,417.77 L521,417.74 L520.5,417.71 L520,417.68 L519.5,417.65 L519,417.62 L518.5,417.59 L518,417.56 L517.5,417.53 L517,417.5 L516.5,417.47 L516,417.44 L515.5,417.41 L515,417.38 L514.5,417.35 L514,417.32 L513.5,417.29 L513,417.26 L512.5,417.23 L512,417.2 L511.5,417.17 L511,417.14 L510.5,417.11 L510,417.08 L509.5,417.05 L509,417.02 L508.5,416.99 L508,416.96 L507.5,416.93 L507,416.9 L506.5,416.87 L506,416.84 L505.5,416.81 L505,416.78 L504.5,416.75 L504,416.72 L503.5,416.69 L503,416.66 L502.5,416.63 L502,416.6 L501.5,416.57 L501,416.54 L500.5,416.51 L500,416.48 L499.5,416.45 L499,416.42 L498.5,416.39 L498,416.36 L497.5,416.33 L497,416.29 L496.5,416.26 L496,416.23 L495.5,416.2 L495,416.17 L494.5,416.14 L494,416.11 L493.5,416.08 L493,416.05 L492.5,416.02 L492,415.99 L491.5,415.96 L491,415.93 L490.5,415.9 L490,415.87 L489.5,415.84 L489,415.81 L488.5,415.78 L488,415.75 L487.5,415.72 L487,415.69 L486.5,415.66 L486,415.63 L485.5,415.6 L485,415.57 L484.5,415.54 L484,415.51 L483.5,415.48 L483,415.45 L482.5,415.42 L482,415.39 L481.5,415.36 L481,415.33 L480.5,415.3 Z" fill="#e83236" stroke="none"/>
<path d="M480.5,413.59 L481,413.48 L481.5,413.37 L482,413.25 L482.5,413.12 L483,412.99 L483.5,412.84 L484,412.69 L484.5,412.52 L485,412.35 L485.5,412.17 L486,411.98 L486.5,411.78 L487,411.57 L487.5,411.35 L488,411.13 L488.5,410.89 L489,410.66 L489.5,410.41 L490,410.16 L490.5,409.9 L491,409.64 L491.5,409.38 L492,409.11 L492.5,408.84 L493,408.57 L493.5,408.3 L494,408.03 L494.5,407.77 L495,407.5 L495.5,407.25 L496,406.99 L496.5,406.75 L497,406.51 L497.5,406.28 L498,406.07 L498.5,405.86 L499,405.67 L499.5,405.5 L500,405.33 L500.5,405.19 L501,405.06 L501.5,404.96 L502,404.87 L502.5,404.8 L503,404.76 L503.5,404.73 L504,404.73 L504.5,404.75 L505,404.79 L505.5,404.85 L506,404.94 L506.5,405.04 L507,405.17 L507.5,405.32 L508,405.49 L508.5,405.67 L509,405.88 L509.5,406.1 L510,406.33 L510.5,406.59 L511,406.85 L511.5,407.13 L512,407.42 L512.5,407.71 L513,408.02 L513.5,408.33 L514,408.65 L514.5,408.97 L515,409.3 L515.5,409.63 L516,409.96 L516.5,410.29 L517,410.62 L517.5,410.95 L518,411.27 L518.5,411.59 L519,411.91 L519.5,412.22 L520,412.52 L520.5,412.82 L521,413.12 L521.5,413.4 L522,413.68 L522.5,413.95 L523,414.21 L523.5,414.46 L524,414.7 L524.5,414.93 L525,415.16 L525.5,415.37 L526,415.58 L526.5,415.78 L527,415.97 L527.5,416.15 L528,416.32 L528.5,416.48 L529,416.64 L529.5,416.78 L530,416.92 L530.5,417.06 L531,417.18 L531.5,417.3 L532,417.41 L532.5,417.52 L533,417.62 L533.5,417.72 L534,417.81 L534.5,417.89 L535,417.97 L535.5,418.05 L536,418.13 L536.5,418.19 L537,418.26 L537.5,418.32 L538,418.38 L538.5,418.44 L539,418.5 L539.5,418.55 L540,418.6 L540.5,418.65 L541,418.7 L541.5,418.74 L542,418.79 L542.5,418.83" fill="none" stroke="#2a4fa0" stroke-width="0.9"/>
<path d="M481.5,415.16 L482,415.18 L482.5,415.21 L483,415.23 L483.5,415.26 L484,415.28 L484.5,415.31 L485,415.33 L485.5,415.36 L486,415.38 L486.5,415.41 L487,415.43 L487.5,415.45 L488,415.48 L488.5,415.5 L489,415.52 L489.5,415.55 L490,415.57 L490.5,415.59 L491,415.61 L491.5,415.64 L492,415.66 L492.5,415.68 L493,415.7 L493.5,415.72 L494,415.74 L494.5,415.76 L495,415.78 L495.5,415.8 L496,415.81 L496.5,415.83 L497,415.85 L497.5,415.86 L498,415.88 L498.5,415.89 L499,415.91 L499.5,415.92 L500,415.93 L500.5,415.94 L501,415.95 L501.5,415.96 L502,415.97 L502.5,415.98 L503,415.98 L503.5,415.99 L504,415.99 L504.5,415.99 L505,415.99 L505.5,415.99 L506,415.98 L506.5,415.98 L507,415.97 L507.5,415.95 L508,415.94 L508.5,415.92 L509,415.89 L509.5,415.86 L510,415.83 L510.5,415.79 L511,415.74 L511.5,415.68 L512,415.61 L512.5,415.52 L513,415.42 L513.5,415.3 L514,415.15 L514.5,414.97 L515,414.76 L515.5,414.51 L516,414.22 L516.5,413.86 L517,413.45 L517.5,412.97 L518,412.41 L518.5,411.76 L519,411.03 L519.5,410.19 L520,409.26 L520.5,408.21 L521,407.07 L521.5,405.82 L522,404.47 L522.5,403.03 L523,401.52 L523.5,399.96 L524,398.36 L524.5,396.76 L525,395.2 L525.5,393.72 L526,392.36 L526.5,391.18 L527,390.24 L527.5,389.57 L528,389.23 L528.5,389.22 L529,389.56 L529.5,390.22 L530,391.18 L530.5,392.37 L531,393.76 L531.5,395.28 L532,396.89 L532.5,398.55 L533,400.21 L533.5,401.84 L534,403.42 L534.5,404.94 L535,406.36 L535.5,407.69 L536,408.92 L536.5,410.04 L537,411.06 L537.5,411.98 L538,412.79 L538.5,413.52 L539,414.15 L539.5,414.71 L540,415.2 L540.5,415.62 L541,415.99 L541.5,416.31 L542,416.59 L542.5,416.83 L543,417.04 L543.5,417.23 L544,417.4 L544.5,417.54 L545,417.68 L545.5,417.8 L546,417.91 L546.5,418.02 L547,418.11 L547.5,418.2 L548,418.29 L548.5,418.37 L549,418.45 L549.5,418.52 L550,418.59 L550.5,418.66 L551,418.72 L551.5,418.79 L552,418.85 L552.5,418.91 L553,418.97 L553.5,419.02 L554,419.08 L554.5,419.13 L555,419.18 L555.5,419.24 L556,419.29 L556.5,419.34 L557,419.38 L557.5,419.43 L558,419.48 L558.5,419.52 L559,419.57 L559.5,419.61 L560,419.66 L560.5,419.7 L561,419.74 L561.5,419.78 L562,419.83 L562.5,419.87 L563,419.91 L563.5,419.95 L564,419.99 L564.5,420.03 L565,420.07 L565.5,420.1 L566,420.14 L566.5,420.18 L567,420.22 L567.5,420.26 L568,420.29" fill="none" stroke="#a24c9c" stroke-width="0.6"/>
<path d="M493.5,415.88 L494,415.91 L494.5,415.93 L495,415.96 L495.5,415.99 L496,416.01 L496.5,416.04 L497,416.06 L497.5,416.09 L498,416.11 L498.5,416.13 L499,416.16 L499.5,416.18 L500,416.21 L500.5,416.23 L501,416.25 L501.5,416.28 L502,416.3 L502.5,416.32 L503,416.35 L503.5,416.37 L504,416.39 L504.5,416.41 L505,416.43 L505.5,416.45 L506,416.47 L506.5,416.49 L507,416.51 L507.5,416.53 L508,416.55 L508.5,416.57 L509,416.59 L509.5,416.6 L510,416.62 L510.5,416.63 L511,416.65 L511.5,416.66 L512,416.68 L512.5,416.69 L513,416.7 L513.5,416.71 L514,416.72 L514.5,416.73 L515,416.73 L515.5,416.74 L516,416.74 L516.5,416.73 L517,416.73 L517.5,416.72 L518,416.7 L518.5,416.68 L519,416.66 L519.5,416.62 L520,416.57 L520.5,416.5 L521,416.42 L521.5,416.32 L522,416.2 L522.5,416.05 L523,415.86 L523.5,415.63 L524,415.35 L524.5,415.02 L525,414.63 L525.5,414.16 L526,413.61 L526.5,412.97 L527,412.23 L527.5,411.37 L528,410.39 L528.5,409.28 L529,408.03 L529.5,406.63 L530,405.08 L530.5,403.37 L531,401.5 L531.5,399.48 L532,397.31 L532.5,395 L533,392.57 L533.5,390.02 L534,387.39 L534.5,384.7 L535,381.98 L535.5,379.25 L536,376.57 L536.5,373.97 L537,371.49 L537.5,369.17 L538,367.06 L538.5,365.2 L539,363.64 L539.5,362.41 L540,361.53 L540.5,361.05 L541,360.96 L541.5,361.27 L542,361.97 L542.5,363.05 L543,364.48 L543.5,366.23 L544,368.25 L544.5,370.51 L545,372.96 L545.5,375.55 L546,378.25 L546.5,381.02 L547,383.8 L547.5,386.58 L548,389.31 L548.5,391.97 L549,394.53 L549.5,396.98 L550,399.29 L550.5,401.47 L551,403.49 L551.5,405.35 L552,407.06 L552.5,408.61 L553,410.01 L553.5,411.26 L554,412.38 L554.5,413.37 L555,414.24 L555.5,415 L556,415.66 L556.5,416.24 L557,416.74 L557.5,417.16 L558,417.53 L558.5,417.85 L559,418.12 L559.5,418.35 L560,418.56 L560.5,418.73 L561,418.88 L561.5,419.02 L562,419.13 L562.5,419.24 L563,419.33 L563.5,419.42 L564,419.5 L564.5,419.57 L565,419.64 L565.5,419.7 L566,419.76 L566.5,419.82 L567,419.88 L567.5,419.93 L568,419.98" fill="none" stroke="#5cc3cf" stroke-width="0.8"/>
<path d="M480.5,415.3 L481,415.33 L481.5,415.36 L482,415.39 L482.5,415.42 L483,415.45 L483.5,415.48 L484,415.51 L484.5,415.54 L485,415.57 L485.5,415.6 L486,415.63 L486.5,415.66 L487,415.69 L487.5,415.72 L488,415.75 L488.5,415.78 L489,415.81 L489.5,415.84 L490,415.87 L490.5,415.9 L491,415.93 L491.5,415.96 L492,415.99 L492.5,416.02 L493,416.05 L493.5,416.08 L494,416.11 L494.5,416.14 L495,416.17 L495.5,416.2 L496,416.23 L496.5,416.26 L497,416.29 L497.5,416.33 L498,416.36 L498.5,416.39 L499,416.42 L499.5,416.45 L500,416.48 L500.5,416.51 L501,416.54 L501.5,416.57 L502,416.6 L502.5,416.63 L503,416.66 L503.5,416.69 L504,416.72 L504.5,416.75 L505,416.78 L505.5,416.81 L506,416.84 L506.5,416.87 L507,416.9 L507.5,416.93 L508,416.96 L508.5,416.99 L509,417.02 L509.5,417.05 L510,417.08 L510.5,417.11 L511,417.14 L511.5,417.17 L512,417.2 L512.5,417.23 L513,417.26 L513.5,417.29 L514,417.32 L514.5,417.35 L515,417.38 L515.5,417.41 L516,417.44 L516.5,417.47 L517,417.5 L517.5,417.53 L518,417.56 L518.5,417.59 L519,417.62 L519.5,417.65 L520,417.68 L520.5,417.71 L521,417.74 L521.5,417.77 L522,417.8 L522.5,417.83 L523,417.86 L523.5,417.89 L524,417.92 L524.5,417.95 L525,417.98 L525.5,418.01 L526,418.04 L526.5,418.07 L527,418.1 L527.5,418.13 L528,418.16 L528.5,418.19 L529,418.22 L529.5,418.25 L530,418.28 L530.5,418.31 L531,418.34 L531.5,418.38 L532,418.41 L532.5,418.44 L533,418.47 L533.5,418.5 L534,418.53 L534.5,418.56 L535,418.59 L535.5,418.62 L536,418.65 L536.5,418.68 L537,418.71 L537.5,418.74 L538,418.77 L538.5,418.8 L539,418.83 L539.5,418.86 L540,418.89 L540.5,418.92 L541,418.95 L541.5,418.98 L542,419.01 L542.5,419.04 L543,419.07 L543.5,419.1 L544,419.13 L544.5,419.16 L545,419.19 L545.5,419.22 L546,419.25 L546.5,419.28 L547,419.31 L547.5,419.34 L548,419.37 L548.5,419.4 L549,419.43 L549.5,419.46 L550,419.49 L550.5,419.52 L551,419.55 L551.5,419.58 L552,419.61 L552.5,419.64 L553,419.67 L553.5,419.7 L554,419.73 L554.5,419.76 L555,419.79 L555.5,419.82 L556,419.85 L556.5,419.88 L557,419.91 L557.5,419.94 L558,419.97 L558.5,420 L559,420.03 L559.5,420.06 L560,420.09 L560.5,420.12 L561,420.15 L561.5,420.18 L562,420.21 L562.5,420.24 L563,420.27 L563.5,420.3 L564,420.33 L564.5,420.36 L565,420.39 L565.5,420.43 L566,420.46 L566.5,420.49 L567,420.52 L567.5,420.55 L568,420.58" fill="none" stroke="#a35fb5" stroke-width="0.9"/>

<g fill="none" stroke="#000" stroke-width="0.75">
<circle cx="480.8" cy="413.67" r="1.05"/>
<circle cx="481.8" cy="413.13" r="1.05"/>
<circle cx="482.8" cy="412.73" r="1.05"/>
<circle cx="483.8" cy="412.09" r="1.05"/>
<circle cx="484.8" cy="411.97" r="1.05"/>
<circle cx="485.8" cy="411.59" r="1.05"/>
<circle cx="486.8" cy="411.26" r="1.05"/>
<circle cx="487.8" cy="410.81" r="1.05"/>
<circle cx="488.8" cy="410.52" r="1.05"/>
<circle cx="489.8" cy="410.07" r="1.05"/>
<circle cx="490.8" cy="409.56" r="1.05"/>
<circle cx="491.8" cy="409.49" r="1.05"/>
<circle cx="492.8" cy="409.08" r="1.05"/>
<circle cx="493.8" cy="408.78" r="1.05"/>
<circle cx="494.8" cy="408.1" r="1.05"/>
<circle cx="495.8" cy="407.56" r="1.05"/>
<circle cx="496.8" cy="407.01" r="1.05"/>
<circle cx="497.8" cy="406.32" r="1.05"/>
<circle cx="498.8" cy="406.18" r="1.05"/>
<circle cx="499.8" cy="405.42" r="1.05"/>
<circle cx="500.8" cy="405" r="1.05"/>
<circle cx="501.8" cy="404.71" r="1.05"/>
<circle cx="502.8" cy="404.56" r="1.05"/>
<circle cx="503.8" cy="404.02" r="1.05"/>
<circle cx="504.8" cy="403.57" r="1.05"/>
<circle cx="505.8" cy="403.5" r="1.05"/>
<circle cx="506.8" cy="403.71" r="1.05"/>
<circle cx="507.8" cy="403.65" r="1.05"/>
<circle cx="508.8" cy="403.65" r="1.05"/>
<circle cx="509.8" cy="403.84" r="1.05"/>
<circle cx="510.8" cy="404.09" r="1.05"/>
<circle cx="511.8" cy="404.4" r="1.05"/>
<circle cx="512.8" cy="404.08" r="1.05"/>
<circle cx="513.8" cy="404.32" r="1.05"/>
<circle cx="514.8" cy="404.38" r="1.05"/>
<circle cx="515.8" cy="403.89" r="1.05"/>
<circle cx="516.8" cy="403.27" r="1.05"/>
<circle cx="517.8" cy="402.09" r="1.05"/>
<circle cx="518.8" cy="400.84" r="1.05"/>
<circle cx="519.8" cy="398.28" r="1.05"/>
<circle cx="520.8" cy="395.31" r="1.05"/>
<circle cx="521.8" cy="392.61" r="1.05"/>
<circle cx="522.8" cy="388.91" r="1.05"/>
<circle cx="523.8" cy="385.33" r="1.05"/>
<circle cx="524.8" cy="382.59" r="1.05"/>
<circle cx="525.8" cy="379.85" r="1.05"/>
<circle cx="526.8" cy="377.68" r="1.05"/>
<circle cx="527.8" cy="376.51" r="1.05"/>
<circle cx="528.8" cy="375.2" r="1.05"/>
<circle cx="529.8" cy="374.64" r="1.05"/>
<circle cx="530.8" cy="374.01" r="1.05"/>
<circle cx="531.8" cy="373.25" r="1.05"/>
<circle cx="532.8" cy="372.39" r="1.05"/>
<circle cx="533.8" cy="370.95" r="1.05"/>
<circle cx="534.8" cy="368.94" r="1.05"/>
<circle cx="535.8" cy="366.28" r="1.05"/>
<circle cx="536.8" cy="364.17" r="1.05"/>
<circle cx="537.8" cy="361.18" r="1.05"/>
<circle cx="538.8" cy="359.37" r="1.05"/>
<circle cx="539.8" cy="357.5" r="1.05"/>
<circle cx="540.8" cy="357.47" r="1.05"/>
<circle cx="541.8" cy="357.73" r="1.05"/>
<circle cx="542.8" cy="358.02" r="1.05"/>
<circle cx="543.8" cy="360.35" r="1.05"/>
<circle cx="544.8" cy="362.78" r="1.05"/>
<circle cx="545.8" cy="366.62" r="1.05"/>
<circle cx="546.8" cy="371.09" r="1.05"/>
<circle cx="547.8" cy="375.98" r="1.05"/>
<circle cx="548.8" cy="382.01" r="1.05"/>
<circle cx="549.8" cy="388" r="1.05"/>
<circle cx="550.8" cy="393.43" r="1.05"/>
<circle cx="551.8" cy="399.17" r="1.05"/>
<circle cx="552.8" cy="403.63" r="1.05"/>
<circle cx="553.8" cy="407.98" r="1.05"/>
<circle cx="554.8" cy="410.91" r="1.05"/>
<circle cx="555.8" cy="413.44" r="1.05"/>
<circle cx="556.8" cy="415.31" r="1.05"/>
<circle cx="557.8" cy="416.53" r="1.05"/>
<circle cx="558.8" cy="417.29" r="1.05"/>
<circle cx="559.8" cy="418.41" r="1.05"/>
<circle cx="560.8" cy="418.43" r="1.05"/>
<circle cx="561.8" cy="419.01" r="1.05"/>
<circle cx="562.8" cy="419.34" r="1.05"/>
<circle cx="563.8" cy="419.33" r="1.05"/>
<circle cx="564.8" cy="419.68" r="1.05"/>
<circle cx="565.8" cy="420.01" r="1.05"/>
<circle cx="566.8" cy="419.98" r="1.05"/>
<circle cx="567.8" cy="419.98" r="1.05"/>
<circle cx="568.8" cy="419.76" r="1.05"/>
</g>
</g>
<rect x="480.5" y="339.6" width="87.9" height="87.8" fill="none" stroke="#3a3a3a" stroke-width="1.0"/>
<line x1="498.08" y1="427.4" x2="498.08" y2="424.4" stroke="#3a3a3a" stroke-width="0.8" />
<line x1="515.66" y1="427.4" x2="515.66" y2="424.4" stroke="#3a3a3a" stroke-width="0.8" />
<line x1="533.24" y1="427.4" x2="533.24" y2="424.4" stroke="#3a3a3a" stroke-width="0.8" />
<line x1="550.82" y1="427.4" x2="550.82" y2="424.4" stroke="#3a3a3a" stroke-width="0.8" />
<clipPath id="cp4"><rect x="587.6" y="339.6" width="87.8" height="87.8"/></clipPath>
<g clip-path="url(#cp4)">
<path d="M587.6,413.66 L588.1,413.67 L588.6,413.68 L589.1,413.69 L589.6,413.7 L590.1,413.71 L590.6,413.72 L591.1,413.72 L591.6,413.73 L592.1,413.74 L592.6,413.74 L593.1,413.75 L593.6,413.75 L594.1,413.75 L594.6,413.76 L595.1,413.76 L595.6,413.76 L596.1,413.76 L596.6,413.76 L597.1,413.76 L597.6,413.76 L598.1,413.75 L598.6,413.75 L599.1,413.74 L599.6,413.73 L600.1,413.72 L600.6,413.71 L601.1,413.7 L601.6,413.68 L602.1,413.66 L602.6,413.63 L603.1,413.6 L603.6,413.57 L604.1,413.53 L604.6,413.48 L605.1,413.43 L605.6,413.36 L606.1,413.29 L606.6,413.21 L607.1,413.12 L607.6,413.01 L608.1,412.89 L608.6,412.75 L609.1,412.6 L609.6,412.42 L610.1,412.22 L610.6,411.99 L611.1,411.74 L611.6,411.45 L612.1,411.14 L612.6,410.78 L613.1,410.39 L613.6,409.96 L614.1,409.48 L614.6,408.95 L615.1,408.37 L615.6,407.74 L616.1,407.05 L616.6,406.29 L617.1,405.48 L617.6,404.6 L618.1,403.66 L618.6,402.65 L619.1,401.57 L619.6,400.42 L620.1,399.2 L620.6,397.91 L621.1,396.56 L621.6,395.14 L622.1,393.66 L622.6,392.13 L623.1,390.54 L623.6,388.9 L624.1,387.22 L624.6,385.51 L625.1,383.77 L625.6,382.02 L626.1,380.26 L626.6,378.5 L627.1,376.76 L627.6,375.04 L628.1,373.36 L628.6,371.74 L629.1,370.19 L629.6,368.71 L630.1,367.33 L630.6,366.06 L631.1,364.91 L631.6,363.89 L632.1,363.03 L632.6,362.32 L633.1,361.78 L633.6,361.42 L634.1,361.24 L634.6,361.24 L635.1,361.43 L635.6,361.8 L636.1,362.34 L636.6,363.05 L637.1,363.93 L637.6,364.96 L638.1,366.12 L638.6,367.41 L639.1,368.81 L639.6,370.31 L640.1,371.89 L640.6,373.54 L641.1,375.25 L641.6,377 L642.1,378.78 L642.6,380.58 L643.1,382.38 L643.6,384.18 L644.1,385.96 L644.6,387.72 L645.1,389.45 L645.6,391.13 L646.1,392.77 L646.6,394.36 L647.1,395.89 L647.6,397.36 L648.1,398.77 L648.6,400.11 L649.1,401.38 L649.6,402.59 L650.1,403.72 L650.6,404.79 L651.1,405.79 L651.6,406.72 L652.1,407.59 L652.6,408.39 L653.1,409.14 L653.6,409.82 L654.1,410.45 L654.6,411.03 L655.1,411.56 L655.6,412.05 L656.1,412.49 L656.6,412.89 L657.1,413.26 L657.6,413.59 L658.1,413.89 L658.6,414.16 L659.1,414.41 L659.6,414.63 L660.1,414.83 L660.6,415.01 L661.1,415.18 L661.6,415.33 L662.1,415.47 L662.6,415.59 L663.1,415.7 L663.6,415.81 L664.1,415.91 L664.6,415.99 L665.1,416.08 L665.6,416.15 L666.1,416.23 L666.6,416.29 L667.1,416.36 L667.6,416.42 L668.1,416.47 L668.6,416.53 L669.1,416.58 L669.6,416.63 L670.1,416.68 L670.6,416.72 L671.1,416.77 L671.6,416.81 L672.1,416.85 L672.6,416.89 L673.1,416.94 L673.6,416.97 L674.1,417.01 L674.6,417.05 L675.1,417.09 L675.1,417.79 L674.6,417.77 L674.1,417.75 L673.6,417.73 L673.1,417.71 L672.6,417.69 L672.1,417.66 L671.6,417.64 L671.1,417.62 L670.6,417.6 L670.1,417.58 L669.6,417.56 L669.1,417.54 L668.6,417.52 L668.1,417.5 L667.6,417.48 L667.1,417.46 L666.6,417.44 L666.1,417.42 L665.6,417.4 L665.1,417.38 L664.6,417.36 L664.1,417.34 L663.6,417.32 L663.1,417.3 L662.6,417.28 L662.1,417.25 L661.6,417.23 L661.1,417.21 L660.6,417.19 L660.1,417.17 L659.6,417.15 L659.1,417.13 L658.6,417.11 L658.1,417.09 L657.6,417.07 L657.1,417.05 L656.6,417.03 L656.1,417.01 L655.6,416.99 L655.1,416.97 L654.6,416.95 L654.1,416.93 L653.6,416.91 L653.1,416.89 L652.6,416.87 L652.1,416.84 L651.6,416.82 L651.1,416.8 L650.6,416.78 L650.1,416.76 L649.6,416.74 L649.1,416.72 L648.6,416.7 L648.1,416.68 L647.6,416.66 L647.1,416.64 L646.6,416.62 L646.1,416.6 L645.6,416.58 L645.1,416.56 L644.6,416.54 L644.1,416.52 L643.6,416.5 L643.1,416.48 L642.6,416.46 L642.1,416.43 L641.6,416.41 L641.1,416.39 L640.6,416.37 L640.1,416.35 L639.6,416.33 L639.1,416.31 L638.6,416.29 L638.1,416.27 L637.6,416.25 L637.1,416.23 L636.6,416.21 L636.1,416.19 L635.6,416.17 L635.1,416.15 L634.6,416.13 L634.1,416.11 L633.6,416.09 L633.1,416.07 L632.6,416.05 L632.1,416.02 L631.6,416 L631.1,415.98 L630.6,415.96 L630.1,415.94 L629.6,415.92 L629.1,415.9 L628.6,415.88 L628.1,415.86 L627.6,415.84 L627.1,415.82 L626.6,415.8 L626.1,415.78 L625.6,415.76 L625.1,415.74 L624.6,415.72 L624.1,415.7 L623.6,415.68 L623.1,415.66 L622.6,415.64 L622.1,415.61 L621.6,415.59 L621.1,415.57 L620.6,415.55 L620.1,415.53 L619.6,415.51 L619.1,415.49 L618.6,415.47 L618.1,415.45 L617.6,415.43 L617.1,415.41 L616.6,415.39 L616.1,415.37 L615.6,415.35 L615.1,415.33 L614.6,415.31 L614.1,415.29 L613.6,415.27 L613.1,415.25 L612.6,415.23 L612.1,415.2 L611.6,415.18 L611.1,415.16 L610.6,415.14 L610.1,415.12 L609.6,415.1 L609.1,415.08 L608.6,415.06 L608.1,415.04 L607.6,415.02 L607.1,415 L606.6,414.98 L606.1,414.96 L605.6,414.94 L605.1,414.92 L604.6,414.9 L604.1,414.88 L603.6,414.86 L603.1,414.84 L602.6,414.82 L602.1,414.79 L601.6,414.77 L601.1,414.75 L600.6,414.73 L600.1,414.71 L599.6,414.69 L599.1,414.67 L598.6,414.65 L598.1,414.63 L597.6,414.61 L597.1,414.59 L596.6,414.57 L596.1,414.55 L595.6,414.53 L595.1,414.51 L594.6,414.49 L594.1,414.47 L593.6,414.45 L593.1,414.43 L592.6,414.41 L592.1,414.38 L591.6,414.36 L591.1,414.34 L590.6,414.32 L590.1,414.3 L589.6,414.28 L589.1,414.26 L588.6,414.24 L588.1,414.22 L587.6,414.2 Z" fill="#e83236" stroke="none"/>
<path d="M587.6,414.2 L588.1,414.22 L588.6,414.24 L589.1,414.26 L589.6,414.28 L590.1,414.3 L590.6,414.32 L591.1,414.34 L591.6,414.36 L592.1,414.38 L592.6,414.4 L593.1,414.42 L593.6,414.44 L594.1,414.46 L594.6,414.48 L595.1,414.5 L595.6,414.52 L596.1,414.54 L596.6,414.56 L597.1,414.58 L597.6,414.6 L598.1,414.62 L598.6,414.64 L599.1,414.66 L599.6,414.69 L600.1,414.71 L600.6,414.73 L601.1,414.75 L601.6,414.77 L602.1,414.79 L602.6,414.81 L603.1,414.83 L603.6,414.85 L604.1,414.87 L604.6,414.89 L605.1,414.91 L605.6,414.93 L606.1,414.95 L606.6,414.97 L607.1,414.99 L607.6,415.01 L608.1,415.03 L608.6,415.05 L609.1,415.07 L609.6,415.09 L610.1,415.11 L610.6,415.13 L611.1,415.15 L611.6,415.17 L612.1,415.19 L612.6,415.21 L613.1,415.23 L613.6,415.25 L614.1,415.27 L614.6,415.29 L615.1,415.31 L615.6,415.33 L616.1,415.35 L616.6,415.37 L617.1,415.39 L617.6,415.41 L618.1,415.43 L618.6,415.45 L619.1,415.47 L619.6,415.49 L620.1,415.51 L620.6,415.53 L621.1,415.55 L621.6,415.57 L622.1,415.59 L622.6,415.61 L623.1,415.63 L623.6,415.65 L624.1,415.67 L624.6,415.69 L625.1,415.71 L625.6,415.73 L626.1,415.74 L626.6,415.76 L627.1,415.78 L627.6,415.8 L628.1,415.82 L628.6,415.84 L629.1,415.86 L629.6,415.87 L630.1,415.89 L630.6,415.91 L631.1,415.93 L631.6,415.94 L632.1,415.96 L632.6,415.98 L633.1,415.99 L633.6,416.01 L634.1,416.02 L634.6,416.03 L635.1,416.04 L635.6,416.05 L636.1,416.05 L636.6,416.05 L637.1,416.03 L637.6,416 L638.1,415.95 L638.6,415.87 L639.1,415.76 L639.6,415.6 L640.1,415.38 L640.6,415.09 L641.1,414.73 L641.6,414.28 L642.1,413.73 L642.6,413.09 L643.1,412.37 L643.6,411.57 L644.1,410.72 L644.6,409.85 L645.1,408.99 L645.6,408.19 L646.1,407.5 L646.6,406.96 L647.1,406.6 L647.6,406.46 L648.1,406.55 L648.6,406.87 L649.1,407.38 L649.6,408.06 L650.1,408.86 L650.6,409.74 L651.1,410.65 L651.6,411.55 L652.1,412.41 L652.6,413.21 L653.1,413.93 L653.6,414.55 L654.1,415.08 L654.6,415.52 L655.1,415.88 L655.6,416.17 L656.1,416.39 L656.6,416.56 L657.1,416.69 L657.6,416.8 L658.1,416.87 L658.6,416.94 L659.1,416.99 L659.6,417.03 L660.1,417.06 L660.6,417.1 L661.1,417.13 L661.6,417.15 L662.1,417.18 L662.6,417.21 L663.1,417.23 L663.6,417.26 L664.1,417.28 L664.6,417.3 L665.1,417.33 L665.6,417.35 L666.1,417.37 L666.6,417.4 L667.1,417.42 L667.6,417.44 L668.1,417.46 L668.6,417.49 L669.1,417.51 L669.6,417.53 L670.1,417.55 L670.6,417.57 L671.1,417.59 L671.6,417.62 L672.1,417.64 L672.6,417.66 L673.1,417.68 L673.6,417.7 L674.1,417.72 L674.6,417.75 L675.1,417.77 L675.1,417.79 L674.6,417.77 L674.1,417.75 L673.6,417.73 L673.1,417.71 L672.6,417.69 L672.1,417.66 L671.6,417.64 L671.1,417.62 L670.6,417.6 L670.1,417.58 L669.6,417.56 L669.1,417.54 L668.6,417.52 L668.1,417.5 L667.6,417.48 L667.1,417.46 L666.6,417.44 L666.1,417.42 L665.6,417.4 L665.1,417.38 L664.6,417.36 L664.1,417.34 L663.6,417.32 L663.1,417.3 L662.6,417.28 L662.1,417.25 L661.6,417.23 L661.1,417.21 L660.6,417.19 L660.1,417.17 L659.6,417.15 L659.1,417.13 L658.6,417.11 L658.1,417.09 L657.6,417.07 L657.1,417.05 L656.6,417.03 L656.1,417.01 L655.6,416.99 L655.1,416.97 L654.6,416.95 L654.1,416.93 L653.6,416.91 L653.1,416.89 L652.6,416.87 L652.1,416.84 L651.6,416.82 L651.1,416.8 L650.6,416.78 L650.1,416.76 L649.6,416.74 L649.1,416.72 L648.6,416.7 L648.1,416.68 L647.6,416.66 L647.1,416.64 L646.6,416.62 L646.1,416.6 L645.6,416.58 L645.1,416.56 L644.6,416.54 L644.1,416.52 L643.6,416.5 L643.1,416.48 L642.6,416.46 L642.1,416.43 L641.6,416.41 L641.1,416.39 L640.6,416.37 L640.1,416.35 L639.6,416.33 L639.1,416.31 L638.6,416.29 L638.1,416.27 L637.6,416.25 L637.1,416.23 L636.6,416.21 L636.1,416.19 L635.6,416.17 L635.1,416.15 L634.6,416.13 L634.1,416.11 L633.6,416.09 L633.1,416.07 L632.6,416.05 L632.1,416.02 L631.6,416 L631.1,415.98 L630.6,415.96 L630.1,415.94 L629.6,415.92 L629.1,415.9 L628.6,415.88 L628.1,415.86 L627.6,415.84 L627.1,415.82 L626.6,415.8 L626.1,415.78 L625.6,415.76 L625.1,415.74 L624.6,415.72 L624.1,415.7 L623.6,415.68 L623.1,415.66 L622.6,415.64 L622.1,415.61 L621.6,415.59 L621.1,415.57 L620.6,415.55 L620.1,415.53 L619.6,415.51 L619.1,415.49 L618.6,415.47 L618.1,415.45 L617.6,415.43 L617.1,415.41 L616.6,415.39 L616.1,415.37 L615.6,415.35 L615.1,415.33 L614.6,415.31 L614.1,415.29 L613.6,415.27 L613.1,415.25 L612.6,415.23 L612.1,415.2 L611.6,415.18 L611.1,415.16 L610.6,415.14 L610.1,415.12 L609.6,415.1 L609.1,415.08 L608.6,415.06 L608.1,415.04 L607.6,415.02 L607.1,415 L606.6,414.98 L606.1,414.96 L605.6,414.94 L605.1,414.92 L604.6,414.9 L604.1,414.88 L603.6,414.86 L603.1,414.84 L602.6,414.82 L602.1,414.79 L601.6,414.77 L601.1,414.75 L600.6,414.73 L600.1,414.71 L599.6,414.69 L599.1,414.67 L598.6,414.65 L598.1,414.63 L597.6,414.61 L597.1,414.59 L596.6,414.57 L596.1,414.55 L595.6,414.53 L595.1,414.51 L594.6,414.49 L594.1,414.47 L593.6,414.45 L593.1,414.43 L592.6,414.41 L592.1,414.38 L591.6,414.36 L591.1,414.34 L590.6,414.32 L590.1,414.3 L589.6,414.28 L589.1,414.26 L588.6,414.24 L588.1,414.22 L587.6,414.2 Z" fill="#dcc07e" stroke="none"/>
<path d="M587.6,413.95 L588.1,413.96 L588.6,413.96 L589.1,413.96 L589.6,413.95 L590.1,413.95 L590.6,413.93 L591.1,413.92 L591.6,413.89 L592.1,413.86 L592.6,413.81 L593.1,413.76 L593.6,413.69 L594.1,413.61 L594.6,413.51 L595.1,413.39 L595.6,413.24 L596.1,413.08 L596.6,412.88 L597.1,412.66 L597.6,412.4 L598.1,412.1 L598.6,411.77 L599.1,411.39 L599.6,410.97 L600.1,410.5 L600.6,409.98 L601.1,409.41 L601.6,408.79 L602.1,408.12 L602.6,407.4 L603.1,406.63 L603.6,405.81 L604.1,404.95 L604.6,404.05 L605.1,403.11 L605.6,402.15 L606.1,401.17 L606.6,400.18 L607.1,399.19 L607.6,398.21 L608.1,397.25 L608.6,396.32 L609.1,395.43 L609.6,394.6 L610.1,393.84 L610.6,393.16 L611.1,392.56 L611.6,392.07 L612.1,391.69 L612.6,391.43 L613.1,391.29 L613.6,391.27 L614.1,391.38 L614.6,391.61 L615.1,391.96 L615.6,392.43 L616.1,393 L616.6,393.67 L617.1,394.43 L617.6,395.26 L618.1,396.16 L618.6,397.1 L619.1,398.09 L619.6,399.1 L620.1,400.13 L620.6,401.16 L621.1,402.19 L621.6,403.2 L622.1,404.19 L622.6,405.16 L623.1,406.08 L623.6,406.97 L624.1,407.81 L624.6,408.6 L625.1,409.35 L625.6,410.04 L626.1,410.68 L626.6,411.27 L627.1,411.81 L627.6,412.3 L628.1,412.74 L628.6,413.15 L629.1,413.51 L629.6,413.83 L630.1,414.11 L630.6,414.37 L631.1,414.59 L631.6,414.79 L632.1,414.96 L632.6,415.11 L633.1,415.25 L633.6,415.37 L634.1,415.47 L634.6,415.56 L635.1,415.64 L635.6,415.71 L636.1,415.78 L636.6,415.83 L637.1,415.89 L637.6,415.93 L638.1,415.98 L638.6,416.02 L639.1,416.05 L639.6,416.09 L640.1,416.12 L640.6,416.15 L641.1,416.18 L641.6,416.21" fill="none" stroke="#5a2a78" stroke-width="0.9"/>
<path d="M587.6,413.66 L588.1,413.67 L588.6,413.68 L589.1,413.69 L589.6,413.7 L590.1,413.71 L590.6,413.72 L591.1,413.72 L591.6,413.73 L592.1,413.74 L592.6,413.74 L593.1,413.75 L593.6,413.75 L594.1,413.75 L594.6,413.76 L595.1,413.76 L595.6,413.76 L596.1,413.76 L596.6,413.76 L597.1,413.76 L597.6,413.76 L598.1,413.75 L598.6,413.75 L599.1,413.74 L599.6,413.73 L600.1,413.72 L600.6,413.71 L601.1,413.7 L601.6,413.68 L602.1,413.66 L602.6,413.63 L603.1,413.6 L603.6,413.57 L604.1,413.53 L604.6,413.48 L605.1,413.43 L605.6,413.36 L606.1,413.29 L606.6,413.21 L607.1,413.12 L607.6,413.01 L608.1,412.89 L608.6,412.75 L609.1,412.6 L609.6,412.42 L610.1,412.22 L610.6,411.99 L611.1,411.74 L611.6,411.45 L612.1,411.14 L612.6,410.78 L613.1,410.39 L613.6,409.96 L614.1,409.48 L614.6,408.95 L615.1,408.37 L615.6,407.74 L616.1,407.05 L616.6,406.29 L617.1,405.48 L617.6,404.6 L618.1,403.66 L618.6,402.65 L619.1,401.57 L619.6,400.42 L620.1,399.2 L620.6,397.91 L621.1,396.56 L621.6,395.14 L622.1,393.66 L622.6,392.13 L623.1,390.54 L623.6,388.9 L624.1,387.22 L624.6,385.51 L625.1,383.77 L625.6,382.02 L626.1,380.26 L626.6,378.5 L627.1,376.76 L627.6,375.04 L628.1,373.36 L628.6,371.74 L629.1,370.19 L629.6,368.71 L630.1,367.33 L630.6,366.06 L631.1,364.91 L631.6,363.89 L632.1,363.03 L632.6,362.32 L633.1,361.78 L633.6,361.42 L634.1,361.24 L634.6,361.24 L635.1,361.43 L635.6,361.8 L636.1,362.34 L636.6,363.05 L637.1,363.93 L637.6,364.96 L638.1,366.12 L638.6,367.41 L639.1,368.81 L639.6,370.31 L640.1,371.89 L640.6,373.54 L641.1,375.25 L641.6,377 L642.1,378.78 L642.6,380.58 L643.1,382.38 L643.6,384.18 L644.1,385.96 L644.6,387.72 L645.1,389.45 L645.6,391.13 L646.1,392.77 L646.6,394.36 L647.1,395.89 L647.6,397.36 L648.1,398.77 L648.6,400.11 L649.1,401.38 L649.6,402.59 L650.1,403.72 L650.6,404.79 L651.1,405.79 L651.6,406.72 L652.1,407.59 L652.6,408.39 L653.1,409.14 L653.6,409.82 L654.1,410.45 L654.6,411.03 L655.1,411.56 L655.6,412.05 L656.1,412.49 L656.6,412.89 L657.1,413.26 L657.6,413.59 L658.1,413.89 L658.6,414.16 L659.1,414.41 L659.6,414.63 L660.1,414.83 L660.6,415.01 L661.1,415.18 L661.6,415.33 L662.1,415.47 L662.6,415.59 L663.1,415.7 L663.6,415.81 L664.1,415.91 L664.6,415.99 L665.1,416.08 L665.6,416.15 L666.1,416.23 L666.6,416.29 L667.1,416.36 L667.6,416.42 L668.1,416.47 L668.6,416.53 L669.1,416.58 L669.6,416.63 L670.1,416.68 L670.6,416.72 L671.1,416.77 L671.6,416.81 L672.1,416.85 L672.6,416.89 L673.1,416.94 L673.6,416.97 L674.1,417.01 L674.6,417.05 L675.1,417.09" fill="none" stroke="#3f8f4a" stroke-width="0.8"/>
<path d="M637.6,416 L638.1,415.95 L638.6,415.87 L639.1,415.76 L639.6,415.6 L640.1,415.38 L640.6,415.09 L641.1,414.73 L641.6,414.28 L642.1,413.73 L642.6,413.09 L643.1,412.37 L643.6,411.57 L644.1,410.72 L644.6,409.85 L645.1,408.99 L645.6,408.19 L646.1,407.5 L646.6,406.96 L647.1,406.6 L647.6,406.46 L648.1,406.55 L648.6,406.87 L649.1,407.38 L649.6,408.06 L650.1,408.86 L650.6,409.74 L651.1,410.65 L651.6,411.55 L652.1,412.41 L652.6,413.21 L653.1,413.93 L653.6,414.55 L654.1,415.08 L654.6,415.52 L655.1,415.88 L655.6,416.17 L656.1,416.39 L656.6,416.56 L657.1,416.69 L657.6,416.8 L658.1,416.87" fill="none" stroke="#3f8f4a" stroke-width="0.8"/>
<path d="M587.6,414.2 L588.1,414.22 L588.6,414.24 L589.1,414.26 L589.6,414.28 L590.1,414.3 L590.6,414.32 L591.1,414.34 L591.6,414.36 L592.1,414.38 L592.6,414.41 L593.1,414.43 L593.6,414.45 L594.1,414.47 L594.6,414.49 L595.1,414.51 L595.6,414.53 L596.1,414.55 L596.6,414.57 L597.1,414.59 L597.6,414.61 L598.1,414.63 L598.6,414.65 L599.1,414.67 L599.6,414.69 L600.1,414.71 L600.6,414.73 L601.1,414.75 L601.6,414.77 L602.1,414.79 L602.6,414.82 L603.1,414.84 L603.6,414.86 L604.1,414.88 L604.6,414.9 L605.1,414.92 L605.6,414.94 L606.1,414.96 L606.6,414.98 L607.1,415 L607.6,415.02 L608.1,415.04 L608.6,415.06 L609.1,415.08 L609.6,415.1 L610.1,415.12 L610.6,415.14 L611.1,415.16 L611.6,415.18 L612.1,415.2 L612.6,415.23 L613.1,415.25 L613.6,415.27 L614.1,415.29 L614.6,415.31 L615.1,415.33 L615.6,415.35 L616.1,415.37 L616.6,415.39 L617.1,415.41 L617.6,415.43 L618.1,415.45 L618.6,415.47 L619.1,415.49 L619.6,415.51 L620.1,415.53 L620.6,415.55 L621.1,415.57 L621.6,415.59 L622.1,415.61 L622.6,415.64 L623.1,415.66 L623.6,415.68 L624.1,415.7 L624.6,415.72 L625.1,415.74 L625.6,415.76 L626.1,415.78 L626.6,415.8 L627.1,415.82 L627.6,415.84 L628.1,415.86 L628.6,415.88 L629.1,415.9 L629.6,415.92 L630.1,415.94 L630.6,415.96 L631.1,415.98 L631.6,416 L632.1,416.02 L632.6,416.05 L633.1,416.07 L633.6,416.09 L634.1,416.11 L634.6,416.13 L635.1,416.15 L635.6,416.17 L636.1,416.19 L636.6,416.21 L637.1,416.23 L637.6,416.25 L638.1,416.27 L638.6,416.29 L639.1,416.31 L639.6,416.33 L640.1,416.35 L640.6,416.37 L641.1,416.39 L641.6,416.41 L642.1,416.43 L642.6,416.46 L643.1,416.48 L643.6,416.5 L644.1,416.52 L644.6,416.54 L645.1,416.56 L645.6,416.58 L646.1,416.6 L646.6,416.62 L647.1,416.64 L647.6,416.66 L648.1,416.68 L648.6,416.7 L649.1,416.72 L649.6,416.74 L650.1,416.76 L650.6,416.78 L651.1,416.8 L651.6,416.82 L652.1,416.84 L652.6,416.87 L653.1,416.89 L653.6,416.91 L654.1,416.93 L654.6,416.95 L655.1,416.97 L655.6,416.99 L656.1,417.01 L656.6,417.03 L657.1,417.05 L657.6,417.07 L658.1,417.09 L658.6,417.11 L659.1,417.13 L659.6,417.15 L660.1,417.17 L660.6,417.19 L661.1,417.21 L661.6,417.23 L662.1,417.25 L662.6,417.28 L663.1,417.3 L663.6,417.32 L664.1,417.34 L664.6,417.36 L665.1,417.38 L665.6,417.4 L666.1,417.42 L666.6,417.44 L667.1,417.46 L667.6,417.48 L668.1,417.5 L668.6,417.52 L669.1,417.54 L669.6,417.56 L670.1,417.58 L670.6,417.6 L671.1,417.62 L671.6,417.64 L672.1,417.66 L672.6,417.69 L673.1,417.71 L673.6,417.73 L674.1,417.75 L674.6,417.77 L675.1,417.79" fill="none" stroke="#5cc3cf" stroke-width="0.9"/>
<g fill="none" stroke="#000" stroke-width="0.75">
<circle cx="587.9" cy="413.46" r="1.35"/>
<circle cx="589.9" cy="413.91" r="1.35"/>
<circle cx="591.9" cy="412.12" r="1.35"/>
<circle cx="593.9" cy="413.69" r="1.35"/>
<circle cx="595.9" cy="411.9" r="1.35"/>
<circle cx="597.9" cy="409.61" r="1.35"/>
<circle cx="599.9" cy="408.99" r="1.35"/>
<circle cx="601.9" cy="407.92" r="1.35"/>
<circle cx="603.9" cy="404.32" r="1.35"/>
<circle cx="605.9" cy="398.66" r="1.35"/>
<circle cx="607.9" cy="396.21" r="1.35"/>
<circle cx="609.9" cy="391.22" r="1.35"/>
<circle cx="611.9" cy="388.37" r="1.35"/>
<circle cx="613.9" cy="386.08" r="1.35"/>
<circle cx="615.9" cy="383.45" r="1.35"/>
<circle cx="617.9" cy="384.76" r="1.35"/>
<circle cx="619.9" cy="383.19" r="1.35"/>
<circle cx="621.9" cy="384.12" r="1.35"/>
<circle cx="623.9" cy="380.45" r="1.35"/>
<circle cx="625.9" cy="375.63" r="1.35"/>
<circle cx="627.9" cy="369.63" r="1.35"/>
<circle cx="629.9" cy="365.96" r="1.35"/>
<circle cx="631.9" cy="362.36" r="1.35"/>
<circle cx="633.9" cy="359.23" r="1.35"/>
<circle cx="635.9" cy="364.01" r="1.35"/>
<circle cx="637.9" cy="365.49" r="1.35"/>
<circle cx="639.9" cy="372.01" r="1.35"/>
<circle cx="641.9" cy="374.17" r="1.35"/>
<circle cx="643.9" cy="381.43" r="1.35"/>
<circle cx="645.9" cy="381.66" r="1.35"/>
<circle cx="647.9" cy="387.21" r="1.35"/>
<circle cx="649.9" cy="395.53" r="1.35"/>
<circle cx="651.9" cy="402.42" r="1.35"/>
<circle cx="653.9" cy="405.46" r="1.35"/>
<circle cx="655.9" cy="410.31" r="1.35"/>
<circle cx="657.9" cy="414.37" r="1.35"/>
<circle cx="659.9" cy="416.86" r="1.35"/>
<circle cx="661.9" cy="416.27" r="1.35"/>
<circle cx="663.9" cy="415.44" r="1.35"/>
<circle cx="665.9" cy="416.97" r="1.35"/>
<circle cx="667.9" cy="415.1" r="1.35"/>
<circle cx="669.9" cy="417.13" r="1.35"/>
<circle cx="671.9" cy="415.28" r="1.35"/>
<circle cx="673.9" cy="416.92" r="1.35"/>
<circle cx="675.9" cy="416.88" r="1.35"/>
</g>
<path d="M587.6,413.41 L588.1,413.4 L588.6,413.4 L589.1,413.38 L589.6,413.37 L590.1,413.35 L590.6,413.32 L591.1,413.29 L591.6,413.25 L592.1,413.2 L592.6,413.14 L593.1,413.07 L593.6,412.99 L594.1,412.89 L594.6,412.77 L595.1,412.63 L595.6,412.47 L596.1,412.28 L596.6,412.07 L597.1,411.82 L597.6,411.54 L598.1,411.22 L598.6,410.86 L599.1,410.46 L599.6,410.01 L600.1,409.5 L600.6,408.95 L601.1,408.35 L601.6,407.69 L602.1,406.98 L602.6,406.21 L603.1,405.38 L603.6,404.51 L604.1,403.59 L604.6,402.62 L605.1,401.61 L605.6,400.57 L606.1,399.5 L606.6,398.4 L607.1,397.3 L607.6,396.19 L608.1,395.09 L608.6,394 L609.1,392.93 L609.6,391.91 L610.1,390.92 L610.6,389.99 L611.1,389.13 L611.6,388.33 L612.1,387.61 L612.6,386.97 L613.1,386.42 L613.6,385.95 L614.1,385.55 L614.6,385.24 L615.1,384.99 L615.6,384.8 L616.1,384.66 L616.6,384.56 L617.1,384.48 L617.6,384.42 L618.1,384.35 L618.6,384.26 L619.1,384.14 L619.6,383.98 L620.1,383.77 L620.6,383.5 L621.1,383.15 L621.6,382.73 L622.1,382.22 L622.6,381.62 L623.1,380.94 L623.6,380.17 L624.1,379.31 L624.6,378.37 L625.1,377.35 L625.6,376.27 L626.1,375.13 L626.6,373.93 L627.1,372.71 L627.6,371.46 L628.1,370.21 L628.6,368.96 L629.1,367.74 L629.6,366.57 L630.1,365.45 L630.6,364.41 L631.1,363.46 L631.6,362.62 L632.1,361.9 L632.6,361.32 L633.1,360.89 L633.6,360.62 L634.1,360.52 L634.6,360.58 L635.1,360.82 L635.6,361.22 L636.1,361.79 L636.6,362.52 L637.1,363.39 L637.6,364.39 L638.1,365.51 L638.6,366.72 L639.1,368 L639.6,369.33 L640.1,370.69 L640.6,372.05 L641.1,373.38 L641.6,374.66 L642.1,375.88 L642.6,377.03 L643.1,378.09 L643.6,379.08 L644.1,379.99 L644.6,380.87 L645.1,381.72 L645.6,382.6 L646.1,383.53 L646.6,384.56 L647.1,385.72 L647.6,387.03 L648.1,388.51 L648.6,390.15 L649.1,391.92 L649.6,393.79 L650.1,395.7 L650.6,397.63 L651.1,399.52 L651.6,401.34 L652.1,403.05 L652.6,404.64 L653.1,406.08 L653.6,407.37 L654.1,408.51 L654.6,409.51 L655.1,410.38 L655.6,411.13 L656.1,411.78 L656.6,412.34 L657.1,412.82 L657.6,413.23 L658.1,413.59 L658.6,413.91 L659.1,414.18 L659.6,414.43 L660.1,414.65 L660.6,414.84 L661.1,415.02 L661.6,415.18 L662.1,415.32 L662.6,415.45 L663.1,415.57 L663.6,415.68 L664.1,415.79 L664.6,415.88 L665.1,415.97 L665.6,416.05 L666.1,416.12 L666.6,416.19 L667.1,416.26 L667.6,416.32 L668.1,416.38 L668.6,416.44 L669.1,416.49 L669.6,416.54 L670.1,416.59 L670.6,416.64 L671.1,416.69 L671.6,416.74 L672.1,416.78 L672.6,416.82 L673.1,416.86 L673.6,416.91 L674.1,416.95 L674.6,416.99 L675.1,417.02" fill="none" stroke="#e83236" stroke-width="0.9"/>
</g>
<rect x="587.6" y="339.6" width="87.8" height="87.8" fill="none" stroke="#3a3a3a" stroke-width="1.0"/>
<line x1="605.16" y1="427.4" x2="605.16" y2="424.4" stroke="#3a3a3a" stroke-width="0.8" />
<line x1="622.72" y1="427.4" x2="622.72" y2="424.4" stroke="#3a3a3a" stroke-width="0.8" />
<line x1="640.28" y1="427.4" x2="640.28" y2="424.4" stroke="#3a3a3a" stroke-width="0.8" />
<line x1="657.84" y1="427.4" x2="657.84" y2="424.4" stroke="#3a3a3a" stroke-width="0.8" />
<text transform="translate(566.4,252.9) scale(1,1.0)" font-size="9.5" text-anchor="end" fill="#222" ><tspan font-style="italic">x</tspan> = 0.00</text>
<text transform="translate(673,252.9) scale(1,1.0)" font-size="9.5" text-anchor="end" fill="#222" ><tspan font-style="italic">x</tspan> = 0.15</text>
<text transform="translate(566.4,348.1) scale(1,1.0)" font-size="9.5" text-anchor="end" fill="#222" ><tspan font-style="italic">x</tspan> = 0.30</text>
<text transform="translate(673,348.1) scale(1,1.0)" font-size="9.5" text-anchor="end" fill="#222" ><tspan font-style="italic">x</tspan> = 0.60</text>
<text transform="translate(537,269.1) scale(1,1.0)" font-size="9.5" text-anchor="middle" fill="#333" >Non-Bridging</text>
<text transform="translate(509.5,287.8) scale(1,1.0)" font-size="9.5" text-anchor="middle" fill="#333" >Bridging</text>
<text transform="translate(501.7,308.7) scale(1,1.0)" font-size="9.5" text-anchor="middle" fill="#333" >Na Auger</text>
<line x1="540.5" y1="271.8" x2="540.5" y2="278.5" stroke="#222" stroke-width="0.7" />
<line x1="509.2" y1="291" x2="524.8" y2="317.5" stroke="#222" stroke-width="0.7" />
<line x1="499.3" y1="311" x2="503.4" y2="317.1" stroke="#222" stroke-width="0.7" />
<text transform="translate(479.8,440.9) scale(1,1.0)" font-size="9.5" text-anchor="middle" fill="#222" >538</text>
<text transform="translate(497.38,440.9) scale(1,1.0)" font-size="9.5" text-anchor="middle" fill="#222" >536</text>
<text transform="translate(514.96,440.9) scale(1,1.0)" font-size="9.5" text-anchor="middle" fill="#222" >534</text>
<text transform="translate(532.54,440.9) scale(1,1.0)" font-size="9.5" text-anchor="middle" fill="#222" >532</text>
<text transform="translate(550.12,440.9) scale(1,1.0)" font-size="9.5" text-anchor="middle" fill="#222" >530</text>
<text transform="translate(567.7,440.9) scale(1,1.0)" font-size="9.5" text-anchor="middle" fill="#222" >528</text>
<text transform="translate(586.9,440.9) scale(1,1.0)" font-size="9.5" text-anchor="middle" fill="#222" >538</text>
<text transform="translate(604.46,440.9) scale(1,1.0)" font-size="9.5" text-anchor="middle" fill="#222" >536</text>
<text transform="translate(622.02,440.9) scale(1,1.0)" font-size="9.5" text-anchor="middle" fill="#222" >534</text>
<text transform="translate(639.58,440.9) scale(1,1.0)" font-size="9.5" text-anchor="middle" fill="#222" >532</text>
<text transform="translate(657.14,440.9) scale(1,1.0)" font-size="9.5" text-anchor="middle" fill="#222" >530</text>
<text transform="translate(674.7,440.9) scale(1,1.0)" font-size="9.5" text-anchor="middle" fill="#222" >528</text>
<text transform="translate(582.5,457.4) scale(1,1.0)" font-size="9.8" text-anchor="middle" fill="#222" >Binding Energy (eV)</text>
<text transform="translate(473.1,337.1) rotate(-90) scale(1.08,1)" font-size="9.45" text-anchor="middle" fill="#222" >Intensity (a.u.)</text>
</g>
</svg></body></html>
